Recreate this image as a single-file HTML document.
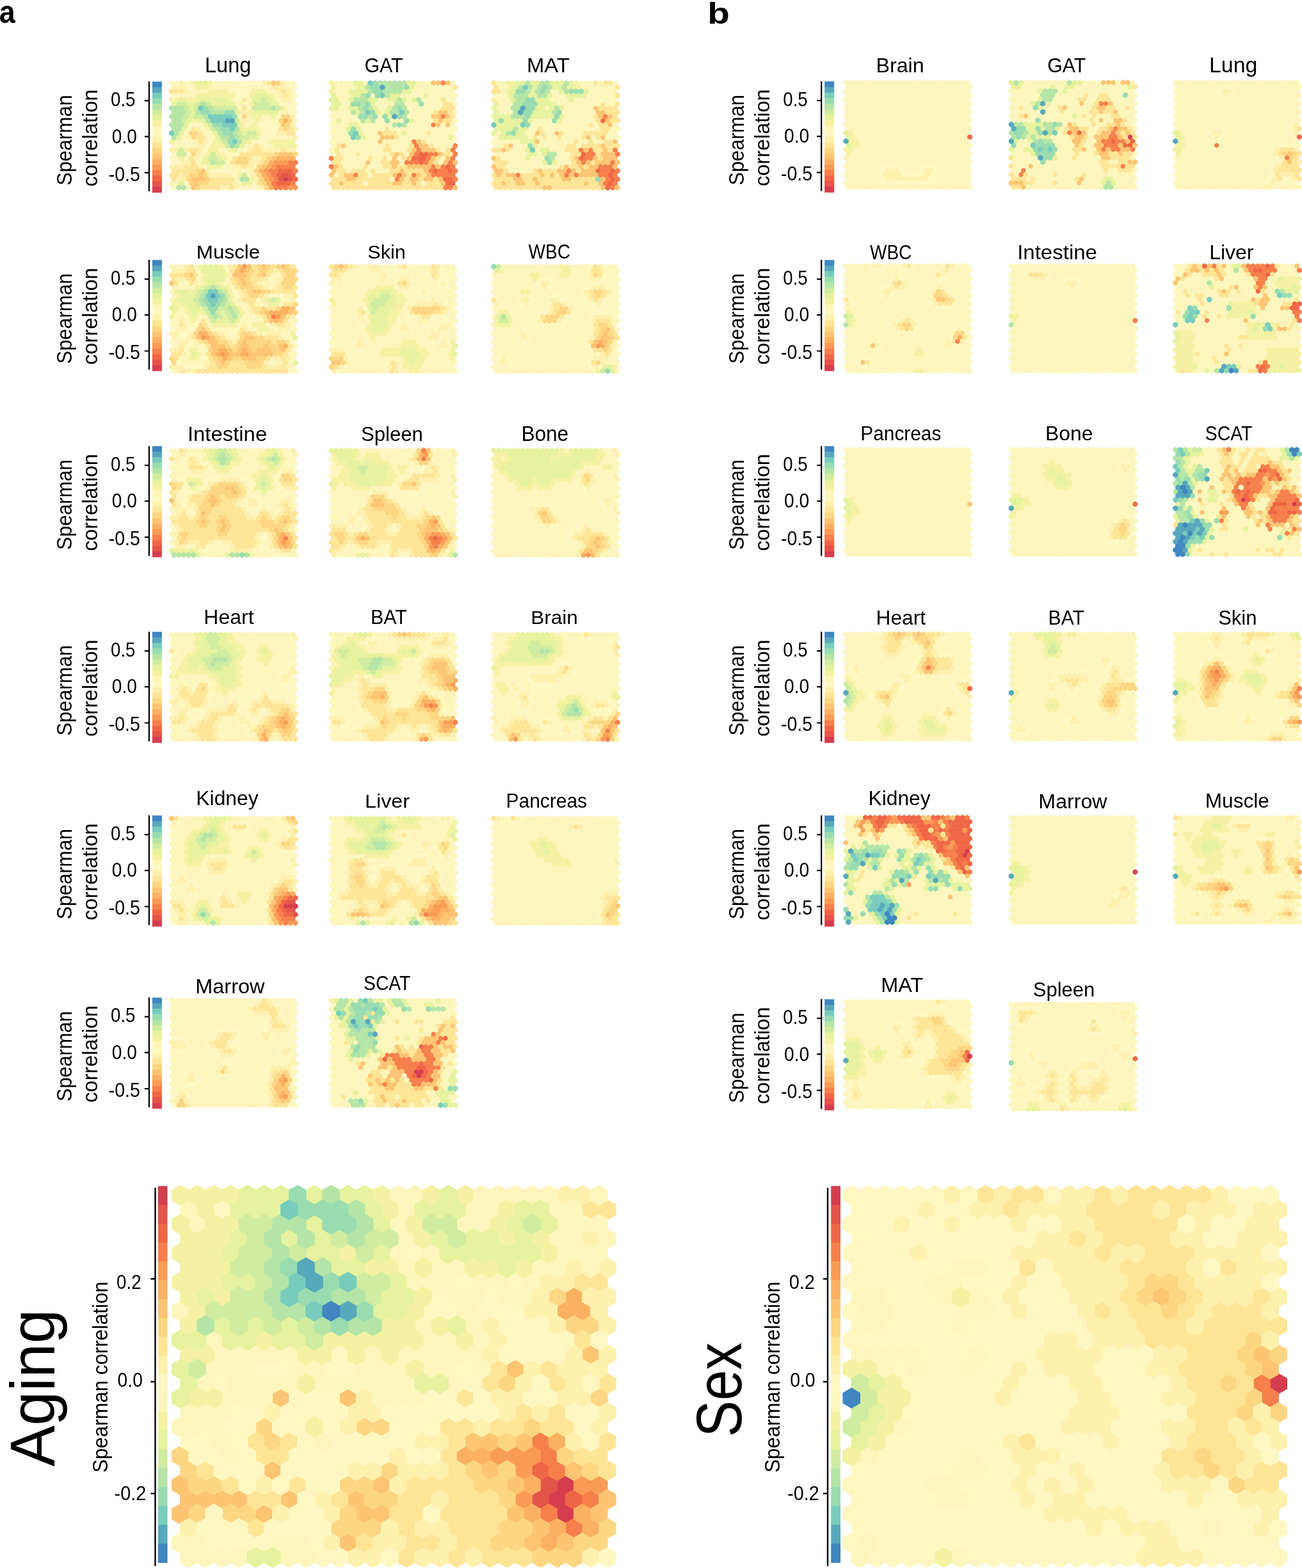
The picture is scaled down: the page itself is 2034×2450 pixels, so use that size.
<!DOCTYPE html>
<html><head><meta charset="utf-8"><title>Figure</title>
<style>html,body{margin:0;padding:0;background:#fff;}svg{display:block;}</style></head>
<body><svg width="2034" height="2450" viewBox="0 0 2034 2450">
<defs><marker id="k0" markerUnits="userSpaceOnUse" overflow="visible" markerWidth="1" markerHeight="1"><path d="M0-.667L1-.333V.333L0 .667-1 .333V-.333Z" fill="#d53e4f" stroke="#d53e4f" stroke-width=".1"/></marker><marker id="k1" markerUnits="userSpaceOnUse" overflow="visible" markerWidth="1" markerHeight="1"><path d="M0-.667L1-.333V.333L0 .667-1 .333V-.333Z" fill="#e4544a" stroke="#e4544a" stroke-width=".1"/></marker><marker id="k2" markerUnits="userSpaceOnUse" overflow="visible" markerWidth="1" markerHeight="1"><path d="M0-.667L1-.333V.333L0 .667-1 .333V-.333Z" fill="#ef6645" stroke="#ef6645" stroke-width=".1"/></marker><marker id="k3" markerUnits="userSpaceOnUse" overflow="visible" markerWidth="1" markerHeight="1"><path d="M0-.667L1-.333V.333L0 .667-1 .333V-.333Z" fill="#f67f4b" stroke="#f67f4b" stroke-width=".1"/></marker><marker id="k4" markerUnits="userSpaceOnUse" overflow="visible" markerWidth="1" markerHeight="1"><path d="M0-.667L1-.333V.333L0 .667-1 .333V-.333Z" fill="#f99b56" stroke="#f99b56" stroke-width=".1"/></marker><marker id="k5" markerUnits="userSpaceOnUse" overflow="visible" markerWidth="1" markerHeight="1"><path d="M0-.667L1-.333V.333L0 .667-1 .333V-.333Z" fill="#fcb062" stroke="#fcb062" stroke-width=".1"/></marker><marker id="k6" markerUnits="userSpaceOnUse" overflow="visible" markerWidth="1" markerHeight="1"><path d="M0-.667L1-.333V.333L0 .667-1 .333V-.333Z" fill="#fdc473" stroke="#fdc473" stroke-width=".1"/></marker><marker id="k7" markerUnits="userSpaceOnUse" overflow="visible" markerWidth="1" markerHeight="1"><path d="M0-.667L1-.333V.333L0 .667-1 .333V-.333Z" fill="#fdd683" stroke="#fdd683" stroke-width=".1"/></marker><marker id="k8" markerUnits="userSpaceOnUse" overflow="visible" markerWidth="1" markerHeight="1"><path d="M0-.667L1-.333V.333L0 .667-1 .333V-.333Z" fill="#fee596" stroke="#fee596" stroke-width=".1"/></marker><marker id="k9" markerUnits="userSpaceOnUse" overflow="visible" markerWidth="1" markerHeight="1"><path d="M0-.667L1-.333V.333L0 .667-1 .333V-.333Z" fill="#fef0ad" stroke="#fef0ad" stroke-width=".1"/></marker><marker id="k10" markerUnits="userSpaceOnUse" overflow="visible" markerWidth="1" markerHeight="1"><path d="M0-.667L1-.333V.333L0 .667-1 .333V-.333Z" fill="#fef7c2" stroke="#fef7c2" stroke-width=".1"/></marker><marker id="k11" markerUnits="userSpaceOnUse" overflow="visible" markerWidth="1" markerHeight="1"><path d="M0-.667L1-.333V.333L0 .667-1 .333V-.333Z" fill="#fcf6bc" stroke="#fcf6bc" stroke-width=".1"/></marker><marker id="k12" markerUnits="userSpaceOnUse" overflow="visible" markerWidth="1" markerHeight="1"><path d="M0-.667L1-.333V.333L0 .667-1 .333V-.333Z" fill="#f4f2a2" stroke="#f4f2a2" stroke-width=".1"/></marker><marker id="k13" markerUnits="userSpaceOnUse" overflow="visible" markerWidth="1" markerHeight="1"><path d="M0-.667L1-.333V.333L0 .667-1 .333V-.333Z" fill="#e6f29d" stroke="#e6f29d" stroke-width=".1"/></marker><marker id="k14" markerUnits="userSpaceOnUse" overflow="visible" markerWidth="1" markerHeight="1"><path d="M0-.667L1-.333V.333L0 .667-1 .333V-.333Z" fill="#d0eca0" stroke="#d0eca0" stroke-width=".1"/></marker><marker id="k15" markerUnits="userSpaceOnUse" overflow="visible" markerWidth="1" markerHeight="1"><path d="M0-.667L1-.333V.333L0 .667-1 .333V-.333Z" fill="#b5e5a6" stroke="#b5e5a6" stroke-width=".1"/></marker><marker id="k16" markerUnits="userSpaceOnUse" overflow="visible" markerWidth="1" markerHeight="1"><path d="M0-.667L1-.333V.333L0 .667-1 .333V-.333Z" fill="#98dcb0" stroke="#98dcb0" stroke-width=".1"/></marker><marker id="k17" markerUnits="userSpaceOnUse" overflow="visible" markerWidth="1" markerHeight="1"><path d="M0-.667L1-.333V.333L0 .667-1 .333V-.333Z" fill="#78ccbb" stroke="#78ccbb" stroke-width=".1"/></marker><marker id="k18" markerUnits="userSpaceOnUse" overflow="visible" markerWidth="1" markerHeight="1"><path d="M0-.667L1-.333V.333L0 .667-1 .333V-.333Z" fill="#57a8bb" stroke="#57a8bb" stroke-width=".1"/></marker><marker id="k19" markerUnits="userSpaceOnUse" overflow="visible" markerWidth="1" markerHeight="1"><path d="M0-.667L1-.333V.333L0 .667-1 .333V-.333Z" fill="#3f86c0" stroke="#3f86c0" stroke-width=".1"/></marker><filter id="bs" x="-5%" y="-5%" width="110%" height="110%"><feGaussianBlur stdDeviation="0.55"/></filter><filter id="bb" x="-5%" y="-5%" width="110%" height="110%"><feGaussianBlur stdDeviation="0.6"/></filter></defs>
<rect width="2034" height="2450" fill="#fff"/>
<text x="-1.32" y="36" font-size="50.18" textLength="25.03" lengthAdjust="spacingAndGlyphs" font-family="Liberation Sans, Arial, sans-serif" font-weight="bold">a</text><text x="1105.27" y="37" font-size="46.92" textLength="34.55" lengthAdjust="spacingAndGlyphs" font-family="Liberation Sans, Arial, sans-serif" font-weight="bold">b</text><path d="M232.9 127.3V298.9M225.9 157.4H232.9M225.9 213.4H232.9M225.9 269.8H232.9" stroke="#000" stroke-width="2.2" fill="none"/><rect x="237.9" y="127.5" width="15" height="9.25" fill="#3f86c0"/><rect x="237.9" y="136.15" width="15" height="9.25" fill="#57a8bb"/><rect x="237.9" y="144.8" width="15" height="9.25" fill="#78ccbb"/><rect x="237.9" y="153.45" width="15" height="9.25" fill="#98dcb0"/><rect x="237.9" y="162.1" width="15" height="9.25" fill="#b5e5a6"/><rect x="237.9" y="170.75" width="15" height="9.25" fill="#d0eca0"/><rect x="237.9" y="179.4" width="15" height="9.25" fill="#e6f29d"/><rect x="237.9" y="188.05" width="15" height="9.25" fill="#f4f2a2"/><rect x="237.9" y="196.7" width="15" height="9.25" fill="#fcf6bc"/><rect x="237.9" y="205.35" width="15" height="9.25" fill="#fef7c2"/><rect x="237.9" y="214" width="15" height="9.25" fill="#fef0ad"/><rect x="237.9" y="222.65" width="15" height="9.25" fill="#fee596"/><rect x="237.9" y="231.3" width="15" height="9.25" fill="#fdd683"/><rect x="237.9" y="239.95" width="15" height="9.25" fill="#fdc473"/><rect x="237.9" y="248.6" width="15" height="9.25" fill="#fcb062"/><rect x="237.9" y="257.25" width="15" height="9.25" fill="#f99b56"/><rect x="237.9" y="265.9" width="15" height="9.25" fill="#f67f4b"/><rect x="237.9" y="274.55" width="15" height="9.25" fill="#ef6645"/><rect x="237.9" y="283.2" width="15" height="9.25" fill="#e4544a"/><rect x="237.9" y="291.85" width="15" height="9.25" fill="#d53e4f"/><text transform="translate(111.7 289.69) rotate(-90)" font-size="32.37" textLength="141.38" lengthAdjust="spacingAndGlyphs" font-family="Liberation Sans, Arial, sans-serif">Spearman</text><text transform="translate(151.9 291.38) rotate(-90)" font-size="32.71" textLength="151.69" lengthAdjust="spacingAndGlyphs" font-family="Liberation Sans, Arial, sans-serif">correlation</text><text x="173.02" y="165.9" font-size="30.93" textLength="38.44" lengthAdjust="spacingAndGlyphs" font-family="Liberation Sans, Arial, sans-serif">0.5</text><text x="174.8" y="223.7" font-size="31.51" textLength="39.2" lengthAdjust="spacingAndGlyphs" font-family="Liberation Sans, Arial, sans-serif">0.0</text><text x="169.63" y="282.5" font-size="31.51" textLength="49.27" lengthAdjust="spacingAndGlyphs" font-family="Liberation Sans, Arial, sans-serif">-0.5</text><g filter="url(#bs)"><g transform="translate(264.3 129.85) scale(3.79 6.53)"><path d="M48 23" fill="none" marker-start="url(#k0)" marker-mid="url(#k0)" marker-end="url(#k0)"/><path d="M47 22h2L46 23h4" fill="none" marker-start="url(#k1)" marker-mid="url(#k1)" marker-end="url(#k1)"/><path d="M46 21h2 2L45 22h6L52 23L45 24h2 2" fill="none" marker-start="url(#k2)" marker-mid="url(#k2)" marker-end="url(#k2)"/><path d="M50 19h2L45 20h2 2 2L42 21h2 8L43 22L44 23L43 24h8L44 25h2 2" fill="none" marker-start="url(#k3)" marker-mid="url(#k3)" marker-end="url(#k3)"/><path d="M44 19h2 2L43 20L40 21L41 22L42 23L50 25h2" fill="none" marker-start="url(#k4)" marker-mid="url(#k4)" marker-end="url(#k4)"/><path d="M48 9L45 18h2 2 2L42 19L41 20L38 21L39 22L40 23L41 24L42 25" fill="none" marker-start="url(#k5)" marker-mid="url(#k5)" marker-end="url(#k5)"/><path d="M43 0L47 10L46 17h2 2L43 18L39 20L14 21L13 22L10 23h2 2L11 24L10 25" fill="none" marker-start="url(#k6)" marker-mid="url(#k6)" marker-end="url(#k6)"/><path d="M45 0L31 8h16 2L46 9h4L49 10L48 11L9 12h2L10 13L10 17h34 8L29 18h2 10L28 19h2 2 8L37 20L12 21h24L9 22h2 4 22L8 23h8 22L9 24h4 2 24L12 25h28" fill="none" marker-start="url(#k7)" marker-mid="url(#k7)" marker-end="url(#k7)"/><path d="M41 0L44 1L1 2h2 2 42L48 3L31 4L31 6L10 11h36 4L13 12h36 2L12 13h2L13 14L36 15L9 16h2 24 2 10L30 17h2 2 2 2 2 2L9 18h18 6 6L10 19h16 12L7 20h2 2 20L2 21h2 2 2 2L1 22h2 4L2 23h16 2 2 2 2L17 24h2 2 2 2 12L14 25h2 2 2 6" fill="none" marker-start="url(#k8)" marker-mid="url(#k8)" marker-end="url(#k8)"/><path d="M5 0h34 8L2 1h2 2 36 4 2L7 2h38 4L46 3h4L47 4h2L30 5L30 7h2 16L33 8h18L30 9h2L31 10h14 6L12 11h40L45 12h2L8 13h44L11 14h4L12 15h2 20 4L1 16h12 20 6 2 2 2 4 2L12 17h10L11 18h24 2L6 19h2 26 2L1 20h2 2 8 14 2 4 2L16 21h18L5 22h12 2 2 2 2 10L4 23h2 30L1 24h26L22 25h2 4 10" fill="none" marker-start="url(#k9)" marker-mid="url(#k9)" marker-end="url(#k9)"/><path d="M1 0h2 4 14 2 2 2 2 2 2 2 2 12 2L8 1h20 2 2 8 10 2L29 2h2 12 8L2 3h2 2 24 2 20L29 4h16 6L32 5h16 2L50 7L45 8L40 9h12L9 10h2 2 26 2 2L8 11h6 26 2 2L7 12h8 24 2 2L16 13h24 2 4 2 2L7 14h2 8 18 2 2L2 15h6 2 6 24L15 16h8 8L8 17h16 4L1 18h6 18L2 19h2 8L15 20h10L20 21h2 2 8L27 22L7 24h28L8 25h22 2 2 2" fill="none" marker-start="url(#k10)" marker-mid="url(#k10)" marker-end="url(#k10)"/><path d="M9 0h10L10 1h8 2 2 2 2 8 2 2L9 2h2 2 2 10 2 6 8L8 3h2 18 16L27 4h6L28 5h18 6L29 6h4 16 2L46 7h6L29 8h10 2L34 9h4 4 2L33 10h4L38 11L17 12L6 13h12 20 6L3 14h2 36L4 15h2 26 10L21 16h8L2 17h12 12L3 18h10L24 19L23 20L18 21h8 2 2L33 22L28 23L3 24h26L2 25" fill="none" marker-start="url(#k11)" marker-mid="url(#k11)" marker-end="url(#k11)"/><path d="M11 0h6L12 1h2 2L17 2h2 2 2 12 2 2L12 3h2 2 2 2 2 2 2 8 8L1 4h2 4 2 2 14 18L34 5L47 6L34 7L35 8h2 6L10 9h2 24L15 10h20L16 11h14 2 2 2L37 12L1 14h18 14 10 2 2 2 2L18 15h2 2 22 2 2 2 2L3 16h4 10 2 6L16 17h4L5 18h18L14 19L17 20h2 2L29 22L34 23L33 24" fill="none" marker-start="url(#k12)" marker-mid="url(#k12)" marker-end="url(#k12)"/><path d="M13 0h2L36 3h2 2L5 4h8 2 2 2 2 2 12 2 4L2 5h6 2 8 2 2 2 2 16 2L9 6L10 7h18 8 2 2 2 2L9 8L8 9h6L7 10h22L6 11L5 12h14 12L4 13h16 14 2L21 14h10L30 15L27 16L15 18h6L16 19L5 24h26" fill="none" marker-start="url(#k13)" marker-mid="url(#k13)" marker-end="url(#k13)"/><path d="M39 4L4 5h2 6 4 20 2 2L7 6h4 8 2 2 2 2 8 2 2 2 4L8 7L7 8h4 2L6 9h22L17 10L18 11L29 12h4 2L30 13h2L23 14L24 15L5 16L4 17h2 12L17 18h2L20 19h2L31 22" fill="none" marker-start="url(#k14)" marker-mid="url(#k14)" marker-end="url(#k14)"/><path d="M14 5L1 6h2 2 12 26L2 7h2 2 6 6 2 2L1 8h2 2 10L2 9h2 12L1 10h2 2L2 11h2 16 8L3 12h18 6L2 13h20 2 4L29 14L28 15L18 19L30 23h2L4 25h2" fill="none" marker-start="url(#k15)" marker-mid="url(#k15)" marker-end="url(#k15)"/><path d="M15 6L14 7h2 8 2L27 8L19 10h2L22 11h2L23 12h2L26 13L25 14L26 15" fill="none" marker-start="url(#k16)" marker-mid="url(#k16)" marker-end="url(#k16)"/><path d="M13 6L17 8h2 2 2 2L18 9h2 2L23 10h2 2L26 11L1 12L27 14" fill="none" marker-start="url(#k17)" marker-mid="url(#k17)" marker-end="url(#k17)"/><path d="M24 9h2" fill="none" marker-start="url(#k18)" marker-mid="url(#k18)" marker-end="url(#k18)"/></g></g><text x="320.04" y="112.7" font-size="32.56" textLength="72.26" lengthAdjust="spacingAndGlyphs" font-family="Liberation Sans, Arial, sans-serif">Lung</text><g filter="url(#bs)"><g transform="translate(514 129.85) scale(3.79 6.53)"><path d="M38 17h2L35 18h2 2L38 19L49 20L44 21h6L48 23h2L49 24h2" fill="none" marker-start="url(#k2)" marker-mid="url(#k2)" marker-end="url(#k2)"/><path d="M47 0L47 8L43 10L35 14L36 15h16L37 16h14L36 17h6 2 8L1 18h40 10L32 19h2 2 4 10L1 20h42 4 4L42 21h4 2 4L11 22h18 6 8 2 2 2 2L28 23h24L48 25h2" fill="none" marker-start="url(#k3)" marker-mid="url(#k3)" marker-end="url(#k3)"/><path d="M43 0h2 4L46 7h2L43 8h2 4L46 9L45 10h4L21 12L22 13h2 2L21 14h16L6 15h32 2L35 16h4 2 2L28 17h6 12L27 18h6 10 6L16 19h10 2 14 6 4L3 20h24 6 2 2 2 2 4L2 21h28 10L1 22h6 2 18 4 6 4L8 23h2 20 4 2 4 2 4L5 24h22 2 6 12L52 25" fill="none" marker-start="url(#k6)" marker-mid="url(#k6)" marker-end="url(#k6)"/><path d="M52 1L47 4L48 5h2L47 6h2 2L44 7h6L51 8L44 9h4 2L24 11L23 12h2 2 14L28 13L39 14L4 15h20 10 8L3 16h20 2 8 12 4L4 17h8 14 4 18 2L3 18h2 12 6 8 14L2 19h2 18 2 20L5 20h10 8 2 4 2L4 21h2 4 2 2 4 8 2 4 2 2 2L5 22h8 2 4 2 2 2 8 6L2 23h2 2 6 2 2 2 2 2 2 8 6 6L1 24h2 4 2 2 2 4 2 2 2 2 6 2 4 4 2 2L2 25h2 2 2 2 2 2 2 2 2 2 2 2 2 2 2 2 2 2 2 2 2 2" fill="none" marker-start="url(#k8)" marker-mid="url(#k8)" marker-end="url(#k8)"/><path d="M3 0h2 2 2 6 22 2 2 10L4 1h2 2 2 26 2 2 2 2 2 2 2L3 2h2 2 28 2 2 2 2 2 2 2 2L4 3h2 2 10 12 2 2 2 2 4 2 2 2 2 2L5 4h2 14 2 10 6 2 2 2 4 2L6 5h2 12 2 2 2 6 2 2 4 2 2 2 6L5 6h2 14 2 10 2 2 2 2 2 2L2 7h2 2 2 14 12 2 2 2 2 10L1 8h2 2 2 2 2 10 12 2 2 2 2L2 9h4 2 2 2 8 2 4 2 2 6 2 2 2 10L1 10h2 2 2 6 2 2 2 2 2 2 8 2 2 2 2 6 4L2 11h2 2 8 2 2 2 2 4 2 2 2 2 2 2 2 2 2 2 2 2 2L1 12h2 2 2 8 2 2 10 4 2 2 2 4 2 2 2 2L2 13h2 2 2 8 2 2 10 2 2 2 2 2 2 2 2 2 4L1 14h2 2 2 2 2 2 2 2 2 4 2 2 2 2 2 8 2 2 2 2 2L2 15h6 2 2 2 2 2 2 2 4 2 2 2 12 2 2 2L1 16h4 2 2 2 2 2 2 2 2 6 2 2 16L2 17h4 2 2 4 2 2 2 2 2 8L7 18h2 2 2 2 4 2 4 4 18L6 19h2 2 2 2 4 2 10 16L7 20h2 2 2 4 2 2L8 21h8 4 2 2L3 22h14L26 23L15 24h24" fill="none" marker-start="url(#k11)" marker-mid="url(#k11)" marker-end="url(#k11)"/><path d="M1 0L2 1L1 2" fill="none" marker-start="url(#k12)" marker-mid="url(#k12)" marker-end="url(#k12)"/><path d="M11 0h2 20 2L12 1h2 20L9 2h2 2 2 16 2L2 3h8 2 14 2 12L1 4h2 6 8 2 6 2 4 4L2 5h2 14L1 6h2 6 2 8 6L12 7h8 4L25 8L4 9h12 18L9 10h2L8 11h4L13 12h18L14 13h36" fill="none" marker-start="url(#k13)" marker-mid="url(#k13)" marker-end="url(#k13)"/><path d="M21 0h2 2 2 2 2L16 1h8 2 2 2L17 2h6 2 2 2L14 3h10L11 4h2 2 14 8L14 5h14 2L13 6h4 10 4L10 7h4 12 2 4L17 8h14L14 9h4L27 10h4" fill="none" marker-start="url(#k15)" marker-mid="url(#k15)" marker-end="url(#k15)"/><path d="M19 0L18 1h2 12L19 2h2L16 3h4L10 5h2 4 22L15 6h14L18 7L13 8h2 4 4 6L24 9h8L29 10L10 11L9 12L12 13" fill="none" marker-start="url(#k16)" marker-mid="url(#k16)" marker-end="url(#k16)"/><path d="M17 0L22 3L16 7h14L11 12L10 13" fill="none" marker-start="url(#k17)" marker-mid="url(#k17)" marker-end="url(#k17)"/><path d="M22 1L27 8" fill="none" marker-start="url(#k18)" marker-mid="url(#k18)" marker-end="url(#k18)"/></g></g><text x="569.53" y="113" font-size="31.51" textLength="60.14" lengthAdjust="spacingAndGlyphs" font-family="Liberation Sans, Arial, sans-serif">GAT</text><g filter="url(#bs)"><g transform="translate(767.5 129.85) scale(3.79 6.53)"><path d="M46 9L38 17L37 18L44 21h6L49 22L50 23L49 24L48 25" fill="none" marker-start="url(#k2)" marker-mid="url(#k2)" marker-end="url(#k2)"/><path d="M47 8L37 16h4 10L40 17h2 10L39 18h2L38 19h12L45 20h2 2L32 21h14 2 4L11 22h20 4 10 2 4L48 23h4L47 24h4L50 25" fill="none" marker-start="url(#k3)" marker-mid="url(#k3)" marker-end="url(#k3)"/><path d="M43 6L44 7h2L45 8h4L48 9L49 10L19 12h8L40 13h6L19 14h32L8 15h38L5 16h34 8L46 17h2 2L1 18h34 8 4 2 2L36 19h4 4 2 2 4L1 20h30 6 4 2 8L2 21h2 16 8 2 4 4 2 2L3 22h4 2 12 4 4 4 4 2 2 2L10 23h2 6 12 2 14L5 24h6 2 6 20 6L22 25h2 22 6" fill="none" marker-start="url(#k6)" marker-mid="url(#k6)" marker-end="url(#k6)"/><path d="M1 0h42 4 2L2 1h50L1 2h2L52 3L46 5h6L45 6h2 2 2L48 7h2 2L43 8h8L44 9h6 2L41 10h4 2L20 11h26 2L21 12h8 10 2 2 2 2L18 13h4 6 10 6L35 14h6 6 2L6 15h26 2 4 2 2 2 4 2 2L1 16h2 4 24 2 2 8 2 4L34 17h2 8L3 18h30 12L2 19h2 2 28 8L3 20h2 24 4 2 4L6 21h12 4 2 2 10L1 22h4 8 2 2 2 4 4L2 23h2 2 2 6 2 4 2 2 2 2 6 2 2 2 2L1 24h2 4 2 6 2 4 2 2 2 2 2 2 2 2 4 2L2 25h2 2 2 2 2 2 2 2 2 6 2 2 2 2 2 2 2 2 2" fill="none" marker-start="url(#k8)" marker-mid="url(#k8)" marker-end="url(#k8)"/><path d="M3 0h2 32 2 2 4 6L4 1h2 32 2 2 2 2 2 2L5 2h20 2 14 2 2 2 2 2L2 3h2 2 20 2 2 10 2 2 2 2 2L3 4h2 2 18 2 2 2 4 2 2 2 2 2 2 2 2L4 5h2 2 20 2 2 2 2 2 2 2 2 4 2L3 6h2 2 16 8 2 2 2 2 2L4 7h2 2 22 2 2 2 2 2 2L31 8h2 2 2 2 2L18 9h2 2 2 6 2 2 2 2 2 2L17 10h2 2 2 2 2 2 2 2 2 2 2 4 8L16 11h2 4 2 2 2 2 2 2 2 2 2 2 2 6 2L3 12h12 2 6 2 6 2 2 2 12 2L2 13h14 4 4 2 4 2 2 2 6 6 2 2L1 14h2 2 2 2 2 10 2 2 2 2 2 2 4 2 4 2L2 15h2 6 2 2 6 2 2 2 2 2 6L9 16h2 2 6 6 2 2L2 17h2 2 2 2 2 2 6 8 2 2L5 18h2 2 2 2 4 2 2 6 2 2L8 19h2 2 2 2 2 2 8 2 2L7 20h2 2 2 2 2 2 2 2 2 2L8 21h2 2 2 2" fill="none" marker-start="url(#k11)" marker-mid="url(#k11)" marker-end="url(#k11)"/><path d="M7 0h2 26L8 1h28L7 2L1 4" fill="none" marker-start="url(#k12)" marker-mid="url(#k12)" marker-end="url(#k12)"/><path d="M11 0h2 4 2 6 2 2 4L10 1h8 8 2 4 2L9 2h8 12 10L8 3h8 2 6 8 2 2 2L9 4h10 2 2 10L2 5h18 2 2 2L1 6h18 2 4 4L2 7h16 2 2 2L1 8h2 2 2 10 2 2 2 2 4L2 9h4 2 2 2 4 12L3 10h2 2 2 2L2 11h2 2 2 4 2L1 12h4 6 2L4 13h2 2 2 2 2L13 14h2 2L18 15L15 16h6 2L16 17h2 4L15 18L22 19h4" fill="none" marker-start="url(#k13)" marker-mid="url(#k13)" marker-end="url(#k13)"/><path d="M15 0h6 2 8L12 1h4 4 4 6L15 2h4 4 8L10 3h2 2 6 2L11 4h2L10 5h2L9 6h2 16L10 7h16L9 8h2 2L10 11L7 12L24 17h2L25 18" fill="none" marker-start="url(#k15)" marker-mid="url(#k15)" marker-end="url(#k15)"/><path d="M22 1L11 2h2 8 12 2 2L15 4h2L14 5h2 2L15 6h2L14 7h2 12L15 8h12L4 9h10 12L15 10L9 12L16 15L23 18L24 19L44 23" fill="none" marker-start="url(#k16)" marker-mid="url(#k16)" marker-end="url(#k16)"/><path d="M14 1L1 10h12L17 16" fill="none" marker-start="url(#k17)" marker-mid="url(#k17)" marker-end="url(#k17)"/><path d="M13 6L12 7" fill="none" marker-start="url(#k18)" marker-mid="url(#k18)" marker-end="url(#k18)"/></g></g><text x="822.9" y="113" font-size="31.98" textLength="66.82" lengthAdjust="spacingAndGlyphs" font-family="Liberation Sans, Arial, sans-serif">MAT</text><path d="M232.9 406V577.6M225.9 436.1H232.9M225.9 492.1H232.9M225.9 548.5H232.9" stroke="#000" stroke-width="2.2" fill="none"/><rect x="237.9" y="406.2" width="15" height="9.25" fill="#3f86c0"/><rect x="237.9" y="414.85" width="15" height="9.25" fill="#57a8bb"/><rect x="237.9" y="423.5" width="15" height="9.25" fill="#78ccbb"/><rect x="237.9" y="432.15" width="15" height="9.25" fill="#98dcb0"/><rect x="237.9" y="440.8" width="15" height="9.25" fill="#b5e5a6"/><rect x="237.9" y="449.45" width="15" height="9.25" fill="#d0eca0"/><rect x="237.9" y="458.1" width="15" height="9.25" fill="#e6f29d"/><rect x="237.9" y="466.75" width="15" height="9.25" fill="#f4f2a2"/><rect x="237.9" y="475.4" width="15" height="9.25" fill="#fcf6bc"/><rect x="237.9" y="484.05" width="15" height="9.25" fill="#fef7c2"/><rect x="237.9" y="492.7" width="15" height="9.25" fill="#fef0ad"/><rect x="237.9" y="501.35" width="15" height="9.25" fill="#fee596"/><rect x="237.9" y="510" width="15" height="9.25" fill="#fdd683"/><rect x="237.9" y="518.65" width="15" height="9.25" fill="#fdc473"/><rect x="237.9" y="527.3" width="15" height="9.25" fill="#fcb062"/><rect x="237.9" y="535.95" width="15" height="9.25" fill="#f99b56"/><rect x="237.9" y="544.6" width="15" height="9.25" fill="#f67f4b"/><rect x="237.9" y="553.25" width="15" height="9.25" fill="#ef6645"/><rect x="237.9" y="561.9" width="15" height="9.25" fill="#e4544a"/><rect x="237.9" y="570.55" width="15" height="9.25" fill="#d53e4f"/><text transform="translate(111.7 568.39) rotate(-90)" font-size="32.37" textLength="141.38" lengthAdjust="spacingAndGlyphs" font-family="Liberation Sans, Arial, sans-serif">Spearman</text><text transform="translate(151.9 570.08) rotate(-90)" font-size="32.71" textLength="151.69" lengthAdjust="spacingAndGlyphs" font-family="Liberation Sans, Arial, sans-serif">correlation</text><text x="173.02" y="444.6" font-size="30.93" textLength="38.44" lengthAdjust="spacingAndGlyphs" font-family="Liberation Sans, Arial, sans-serif">0.5</text><text x="174.8" y="502.4" font-size="31.51" textLength="39.2" lengthAdjust="spacingAndGlyphs" font-family="Liberation Sans, Arial, sans-serif">0.0</text><text x="169.63" y="561.2" font-size="31.51" textLength="49.27" lengthAdjust="spacingAndGlyphs" font-family="Liberation Sans, Arial, sans-serif">-0.5</text><g filter="url(#bs)"><g transform="translate(264.3 416.55) scale(3.79 6.53)"><path d="M43 12" fill="none" marker-start="url(#k3)" marker-mid="url(#k3)" marker-end="url(#k3)"/><path d="M31 0L45 12L14 17L22 21" fill="none" marker-start="url(#k4)" marker-mid="url(#k4)" marker-end="url(#k4)"/><path d="M30 1L47 10h2L42 11h2 2 2L44 13L13 16h2L16 17L48 19L21 20h2 8L20 21h4 6 2L23 22" fill="none" marker-start="url(#k5)" marker-mid="url(#k5)" marker-end="url(#k5)"/><path d="M29 0h4 6 8L28 1h4L9 2h18 2 2 8L30 3L1 4h30L35 6h2L51 10L40 11h10L41 12h6L42 13h4L14 15L12 17h6 14 2L17 18h2 12L18 19h2 2 8 2 8 6L19 20h6 4 4 4 2 2 6L18 21h8 2 6 2 2 2 2L21 22h4 6 2 2L22 23" fill="none" marker-start="url(#k6)" marker-mid="url(#k6)" marker-end="url(#k6)"/><path d="M37 0h4 4 4L34 1h4 2 8 2 2L7 2h26 4 12 2L10 3h18 4 16 2 2L29 4h4 14 2 2L30 5h2 2 14 2L33 6h6 2L34 7h2L52 9L39 10h6L38 11h14L13 14L12 15L11 16h6 14 2L20 17h10 6 2L15 18h6 2 6 4 2 2 2 2 4 2L24 19h4 6 2 2 4 2L17 20h10 8 8 2L44 21h2L1 22h18 8 2 8 2L2 23h18 4 8 2 2 2L21 24h2 10 2 2" fill="none" marker-start="url(#k7)" marker-mid="url(#k7)" marker-end="url(#k7)"/><path d="M9 0h18 8 8 8L8 1h2 16 10 6 4L1 2h2 2 6 24 6 6L2 3h6 18 8 2 2L3 4h6 18 8L28 5h8 2 8 6L31 6h12 2 2 2 2L32 7h6 14L31 8h2 2L34 9h14 2L35 10h2 4 2L36 11L39 12h10L14 13h26 8L5 14h10 30 2L16 15h14L19 16h10 6L10 17h12 18 2 2L13 18h12 18 6L16 19h10 24L5 20h44L2 21h2 12 32L3 22h14 24 6L18 23h8 2 2 18L17 24h2 6 2 2 2 8 8L6 25h6 2 2 2 2 2 2 2 2 2 2 2 2 2 2 2 2 2 2" fill="none" marker-start="url(#k8)" marker-mid="url(#k8)" marker-end="url(#k8)"/><path d="M7 0h18L2 1h2 2 38L25 2L4 3h2 34 6L11 4h14 12 8L2 5h38 4L29 6L30 7h10 8 2L29 8h22L32 9h4L33 10L34 11L5 12h32 14L4 13h2L7 14h24 12 6L4 15h2 26 14 2L1 16h2 6 12 2 14 4 2 2L2 17h6 16 4 18L5 18h2 4 16L4 19h2L1 20h2L6 21L43 22h2 4L16 23h24 6L1 24h2 2 10 26 2 2 4L4 25h4 2" fill="none" marker-start="url(#k9)" marker-mid="url(#k9)" marker-end="url(#k9)"/><path d="M5 0h6L12 1h12L43 2h2L12 3h12 18L5 4h2 32L10 5h16 16L1 6h26L28 7h14 2 2L37 8h12L30 9h8 8L31 10L32 11L7 12h6 22L12 13h26 12L3 14h8 18 4 8 10L2 15h6 2 8 2 2 6 6 10 6L5 16h2 18 2 12 8L4 17h2 20 22L1 18h2 6 42L2 19h6L7 20h8 36L50 21L5 22h10L4 23h38L7 24h2 2 2L2 25h48" fill="none" marker-start="url(#k10)" marker-mid="url(#k10)" marker-end="url(#k10)"/><path d="M1 0h2 20L13 2L44 3L13 4h10 18 2L4 5h2 2L2 7L1 8h26 20L28 9h12L5 10L4 11h2L3 12h12 16 2L2 13h6 8 14 2 2 2 16L1 14h8 8L24 15h2 10 6 10L49 16L50 17L10 19h2 2 38L13 20L8 21h6 38L7 22h6 38L6 23h2 2 2 2 30 6L51 24L52 25" fill="none" marker-start="url(#k11)" marker-mid="url(#k11)" marker-end="url(#k11)"/><path d="M13 0h8L15 2h8L14 3L15 4h6L12 5h12L3 6h6 16L4 7h22L3 8h36L2 9h2 2 36 2L3 10h4 22L2 11h6 4 2 16L1 12h8 2L10 13L19 14h2 2 2 2 8 2 2L38 15h2L51 16L9 20h2L12 21L9 22h2" fill="none" marker-start="url(#k12)" marker-mid="url(#k12)" marker-end="url(#k12)"/><path d="M15 0h2 2L14 1h2 2 2 2L17 2h2 2L16 3h2 2 2L17 4h2L14 5h8L5 6h2 4L6 7h2 2L5 8h2 2 16 16 4L8 9h2 16L1 10h8 2 2L10 11h12L23 12h6L20 13h2 2 4L52 17L10 21L52 23" fill="none" marker-start="url(#k13)" marker-mid="url(#k13)" marker-end="url(#k13)"/><path d="M16 5h4L13 6h10L12 7h12L11 8h32L12 9h12L15 10h6 2 4L16 11h4 4 4L17 12h4 4L18 13h8" fill="none" marker-start="url(#k14)" marker-mid="url(#k14)" marker-end="url(#k14)"/><path d="M18 5L15 6h6L14 7L13 8h10L14 9h8L25 10L26 11L19 12h8" fill="none" marker-start="url(#k15)" marker-mid="url(#k15)" marker-end="url(#k15)"/><path d="M22 7L15 8h6L16 9h4L17 10h2L18 11" fill="none" marker-start="url(#k16)" marker-mid="url(#k16)" marker-end="url(#k16)"/><path d="M17 6h2L16 7h4L17 8h2L18 9" fill="none" marker-start="url(#k17)" marker-mid="url(#k17)" marker-end="url(#k17)"/><path d="M18 7" fill="none" marker-start="url(#k18)" marker-mid="url(#k18)" marker-end="url(#k18)"/></g></g><text x="306.82" y="404.4" font-size="29.67" textLength="99.47" lengthAdjust="spacingAndGlyphs" font-family="Liberation Sans, Arial, sans-serif">Muscle</text><g filter="url(#bs)"><g transform="translate(514 416.55) scale(3.79 6.53)"><path d="M5 0L2 23h2" fill="none" marker-start="url(#k6)" marker-mid="url(#k6)" marker-end="url(#k6)"/><path d="M3 0h4L31 4L35 10h2 2 2 2 2L36 11h2 2 2L1 22h2 2L6 23L1 24" fill="none" marker-start="url(#k7)" marker-mid="url(#k7)" marker-end="url(#k7)"/><path d="M1 0h8 22 12L2 1h2 2 38L1 2h2 40L29 4L44 9L47 10L14 11h20 10 2L39 12h2L2 21h2 2L26 23L3 24h24L26 25" fill="none" marker-start="url(#k8)" marker-mid="url(#k8)" marker-end="url(#k8)"/><path d="M11 0h6 2 10 16L8 1h10 2 22L5 2h16 2 22L2 3h2 18 8 2 12L1 4h32 14L30 5h2L39 6L43 8L36 9h2 2 2 4L13 10h20 16L12 11h36L13 12h24L14 13h24 2L31 14h16 2L30 15h2 14 2L43 16h2L42 17h2L13 18h34L12 19h2 32 2L1 20h2 2L7 22L8 23h20L5 24h20L2 25h26" fill="none" marker-start="url(#k9)" marker-mid="url(#k9)" marker-end="url(#k9)"/><path d="M13 0h2 6 12 8 6L10 1h2 4 6 2 4 2 2 8 6L7 2h12 6 16 6L6 3h14 4 4 6 8 4 2L3 4h24 18 4L2 5h26 6 4 2 6 2 2L31 6h6 4L38 7h2 2 2L41 8h4L12 9h2 20 14L11 10h4 36L32 11h18L11 12h4 18 2 8 2 2 2L12 13h20 4 6 6L13 14h16 4 6 6 6L28 15h6 10 6L29 16h2 10 6 2L46 17L11 18h4 28 2 4L16 19L7 20h6 2 32L8 21L25 22h2L24 23L7 24h16 6L4 25h20 6" fill="none" marker-start="url(#k10)" marker-mid="url(#k10)" marker-end="url(#k10)"/><path d="M23 0h2 2 8 2 2 10 2L14 1h12 8 2 2 10 2 2L9 2h2 2 2 2 10 2 2 2 2 2 2 10 2L8 3h2 2 2 2 2 8 10 2 2 10 2L5 4h2 2 2 2 2 2 2 2 2 2 10 2 2 2 2 8L4 5h2 2 2 2 2 2 2 18 6 2 8L1 6h2 2 2 2 2 2 2 14 4 2 8 2 2 2 2L2 7h2 2 2 2 2 2 18 2 2 10 2 2 2L3 8h2 2 2 2 2 20 2 2 2 8 2 2L4 9h2 2 2 22 18 2L1 10h2 2 2 2 22L2 11h2 2 2 2 6 14 22L1 12h2 2 2 2 20 2 20L2 13h2 2 2 2 6 12 2 4 10 2 4 2L1 14h2 2 2 2 2 4 12 8 2 4 2L2 15h2 2 2 2 2 2 12 10 2 2 2 10L1 16h2 2 2 2 2 2 2 10 2 6 2 2 2 12L2 17h2 2 2 2 2 2 2 4 2 2 2 2 2 2 2 2 2 2 8 2 2L1 18h2 2 2 2 8 2 2 2 2 2 2 8 2 2L2 19h2 2 2 2 8 2 2 2 2 2 10 2 2 2 6L9 20h2 6 2 2 20 2 2 4L10 21h2 2 2 2 2 22 2 2 2L9 22h2 2 2 2 2 2 2 6 12 2 2 2 2L10 23h2 2 2 2 2 2 8 10 2 2 2 2 2 2L9 24h2 2 2 2 2 2 18 2 2 2 2 2 2L6 25h2 2 2 2 2 2 2 2 10 6 2 2 2 2 2 2 2" fill="none" marker-start="url(#k11)" marker-mid="url(#k11)" marker-end="url(#k11)"/><path d="M20 5h2 2 2L17 6h2 8L16 7h12 2L1 8h14 14 2L2 9h14 12 2L27 10h2L26 11h2L17 12h8 2L24 13h2L17 14h8L16 15h8L17 16h2 2 2L18 17L31 18h2 2 16L30 19h2 2 2L23 20h2 2 2 8 2 12L22 21h2 2 2 10 2 10L31 22h6 2 12L32 23h4 2L31 24h2 2 2L34 25h2" fill="none" marker-start="url(#k12)" marker-mid="url(#k12)" marker-end="url(#k12)"/><path d="M21 6h2 2L18 7h2 6L17 8h8 2L24 9h2L17 10h4 2 2L20 11h2 2L19 12h2 2L18 13h2 2L19 14h2 2L18 15h2 2L52 19L31 20h2 2L30 21h2 2 2 16L33 22h2L34 23" fill="none" marker-start="url(#k13)" marker-mid="url(#k13)" marker-end="url(#k13)"/><path d="M22 7h2L19 8h2 2L18 9h2 2L19 10L18 11" fill="none" marker-start="url(#k14)" marker-mid="url(#k14)" marker-end="url(#k14)"/></g></g><text x="574.31" y="404.4" font-size="29.67" textLength="59.37" lengthAdjust="spacingAndGlyphs" font-family="Liberation Sans, Arial, sans-serif">Skin</text><g filter="url(#bs)"><g transform="translate(767.5 416.55) scale(3.79 6.53)"><path d="M44 19" fill="none" marker-start="url(#k4)" marker-mid="url(#k4)" marker-end="url(#k4)"/><path d="M45 18L46 19" fill="none" marker-start="url(#k5)" marker-mid="url(#k5)" marker-end="url(#k5)"/><path d="M48 15L47 16L46 17h2L43 18h4L42 19" fill="none" marker-start="url(#k6)" marker-mid="url(#k6)" marker-end="url(#k6)"/><path d="M43 2L43 6h2L44 7L29 10h2L28 11h2L23 12h2 2L22 13h2 2L45 14h2L46 15L45 16h4L44 17h6L49 18L48 19L47 20L44 23" fill="none" marker-start="url(#k7)" marker-mid="url(#k7)" marker-end="url(#k7)"/><path d="M43 0L42 1h2L45 2L41 6h6L42 7h4L1 8h42L26 9h2L27 10L26 11h6L21 12h8L44 13h2 2L43 14h6L44 15h6L43 16h8L52 17L41 18L43 20h2 4L48 21L42 23" fill="none" marker-start="url(#k8)" marker-mid="url(#k8)" marker-end="url(#k8)"/><path d="M45 0L46 1L41 2L42 3h2L21 4h2L22 5h20 2 2L39 6h10L40 7h8L13 8h2 10 2 14 4L2 9h12 16 14L25 10h8L24 11L43 12h2 2 2L20 13h8 14 8L42 15L13 16L14 17h28L51 18L50 19L46 21L5 22h38 2 2L4 23h2 40L43 24" fill="none" marker-start="url(#k9)" marker-mid="url(#k9)" marker-end="url(#k9)"/><path d="M41 0h6L40 1L47 2L22 3h2 22L19 4h6L20 5h4 14 2 8 2L37 6h14L2 7h24 2 10 12L3 8h8 6 12 18L4 9h8 4 8 8 10 4L1 10h22 20L20 11h2 12 8 2 2 2L19 12h12 2 8 10L30 13h10L21 14h2 2 2 2 12 10L14 15h26 12L11 16h4 26L12 17h4 24L13 18h2L40 19L41 20h10L44 21h6L3 22h4 34 8L2 23h6 32L3 24h2 2 34 4" fill="none" marker-start="url(#k10)" marker-mid="url(#k10)" marker-end="url(#k10)"/><path d="M5 0h2 2 2 2 2 2 2 2 2 2 2 6 2 2 2 10 2L6 1h2 2 2 2 2 2 2 2 2 2 2 6 2 2 10 2 2L1 2h2 2 2 2 2 2 2 6 2 2 2 6 2 2 2 10 2L2 3h2 2 2 2 2 2 2 4 6 2 2 2 2 2 2 2 8 2 2L1 4h2 2 2 2 2 2 2 2 10 2 2 2 2 2 2 2 2 2 2 2 2L2 5h2 2 2 2 2 2 2 2 8 2 2 2 2 2 16L1 6h2 2 2 2 2 6 2 2 2 2 2 2 2 2 2L4 7h2 2 2 2 2 2 2 2 2 2 6 2 2 2 16L5 8h2 2 10 2 2 8 2 2 2 2 10 2L6 9h2 2 8 2 2 12 2 2 2 8 2 2L3 10h2 2 2 2 2 2 2 2 2 14 2 2 2 4 2 2 2L2 11h6 2 2 2 2 2 18 2 2 10 2L1 12h8 2 2 2 2 18 2 2L10 13h2 2 2 2 14 2 2 2 14L1 14h8 2 2 2 2 2 12 2 2 2 2L2 15h2 2 2 2 2 4 2 2 2 2 2 2 2 2 2 2 2L1 16h2 2 2 2 8 2 2 2 2 2 2 2 2 2 2 2L2 17h2 2 2 2 8 2 2 2 2 2 2 2 2 2 2L1 18h2 2 2 2 2 6 2 2 2 2 2 2 2 2 2 2 2L2 19h2 2 2 2 2 2 2 2 2 2 2 2 2 2 2 2 2 2 14L1 20h2 2 2 2 2 2 2 2 2 2 2 2 2 2 2 2 2 2 2L2 21h2 2 2 2 2 2 2 2 2 2 2 2 2 2 2 2 2 2 2 2 10L1 22h8 2 2 2 2 2 2 2 2 2 2 2 2 2 2 2 12L10 23h2 2 2 2 2 2 2 2 2 2 2 2 2 2 10 2 2L1 24h8 2 2 2 2 2 2 2 2 2 2 2 2 2 2 2L2 25h2 2 2 2 2 2 2 2 2 2 2 2 2 2 2 2 2 2 2 2 10" fill="none" marker-start="url(#k11)" marker-mid="url(#k11)" marker-end="url(#k11)"/><path d="M29 0h2L4 1h26 2L17 2h2 10 2L18 3L13 6h2L4 11h2L2 13h6L3 14h2 2L51 24L44 25" fill="none" marker-start="url(#k12)" marker-mid="url(#k12)" marker-end="url(#k12)"/><path d="M2 1L3 12h4L47 24h2L50 25" fill="none" marker-start="url(#k13)" marker-mid="url(#k13)" marker-end="url(#k13)"/><path d="M3 0L4 13h2L46 25" fill="none" marker-start="url(#k14)" marker-mid="url(#k14)" marker-end="url(#k14)"/><path d="M5 12" fill="none" marker-start="url(#k15)" marker-mid="url(#k15)" marker-end="url(#k15)"/><path d="M1 0L48 25" fill="none" marker-start="url(#k16)" marker-mid="url(#k16)" marker-end="url(#k16)"/></g></g><text x="825.58" y="404.4" font-size="30.79" textLength="65.39" lengthAdjust="spacingAndGlyphs" font-family="Liberation Sans, Arial, sans-serif">WBC</text><path d="M232.9 696.9V868.5M225.9 727H232.9M225.9 783H232.9M225.9 839.4H232.9" stroke="#000" stroke-width="2.2" fill="none"/><rect x="237.9" y="697.1" width="15" height="9.25" fill="#3f86c0"/><rect x="237.9" y="705.75" width="15" height="9.25" fill="#57a8bb"/><rect x="237.9" y="714.4" width="15" height="9.25" fill="#78ccbb"/><rect x="237.9" y="723.05" width="15" height="9.25" fill="#98dcb0"/><rect x="237.9" y="731.7" width="15" height="9.25" fill="#b5e5a6"/><rect x="237.9" y="740.35" width="15" height="9.25" fill="#d0eca0"/><rect x="237.9" y="749" width="15" height="9.25" fill="#e6f29d"/><rect x="237.9" y="757.65" width="15" height="9.25" fill="#f4f2a2"/><rect x="237.9" y="766.3" width="15" height="9.25" fill="#fcf6bc"/><rect x="237.9" y="774.95" width="15" height="9.25" fill="#fef7c2"/><rect x="237.9" y="783.6" width="15" height="9.25" fill="#fef0ad"/><rect x="237.9" y="792.25" width="15" height="9.25" fill="#fee596"/><rect x="237.9" y="800.9" width="15" height="9.25" fill="#fdd683"/><rect x="237.9" y="809.55" width="15" height="9.25" fill="#fdc473"/><rect x="237.9" y="818.2" width="15" height="9.25" fill="#fcb062"/><rect x="237.9" y="826.85" width="15" height="9.25" fill="#f99b56"/><rect x="237.9" y="835.5" width="15" height="9.25" fill="#f67f4b"/><rect x="237.9" y="844.15" width="15" height="9.25" fill="#ef6645"/><rect x="237.9" y="852.8" width="15" height="9.25" fill="#e4544a"/><rect x="237.9" y="861.45" width="15" height="9.25" fill="#d53e4f"/><text transform="translate(111.7 859.29) rotate(-90)" font-size="32.37" textLength="141.38" lengthAdjust="spacingAndGlyphs" font-family="Liberation Sans, Arial, sans-serif">Spearman</text><text transform="translate(151.9 860.98) rotate(-90)" font-size="32.71" textLength="151.69" lengthAdjust="spacingAndGlyphs" font-family="Liberation Sans, Arial, sans-serif">correlation</text><text x="173.02" y="735.5" font-size="30.93" textLength="38.44" lengthAdjust="spacingAndGlyphs" font-family="Liberation Sans, Arial, sans-serif">0.5</text><text x="174.8" y="793.3" font-size="31.51" textLength="39.2" lengthAdjust="spacingAndGlyphs" font-family="Liberation Sans, Arial, sans-serif">0.0</text><text x="169.63" y="852.1" font-size="31.51" textLength="49.27" lengthAdjust="spacingAndGlyphs" font-family="Liberation Sans, Arial, sans-serif">-0.5</text><g filter="url(#bs)"><g transform="translate(264.3 703.95) scale(3.79 6.53)"><path d="M48 21" fill="none" marker-start="url(#k3)" marker-mid="url(#k3)" marker-end="url(#k3)"/><path d="M47 22" fill="none" marker-start="url(#k4)" marker-mid="url(#k4)" marker-end="url(#k4)"/><path d="M47 20L46 21L49 22L48 23" fill="none" marker-start="url(#k5)" marker-mid="url(#k5)" marker-end="url(#k5)"/><path d="M24 9h2L27 10L18 11L1 12h16 2L18 13L14 15L14 17h8 26L23 18L22 19h22L45 20h4L50 21L45 22L46 23h4" fill="none" marker-start="url(#k6)" marker-mid="url(#k6)" marker-end="url(#k6)"/><path d="M47 6h2L48 7h2L1 8h20 2 2 2L2 9h16 2 2 6L17 10h2 2 2 2 4L16 11h4 4 2 2L15 12h6L14 13h2 4L13 14h2 2L16 15L13 16h2 6 2 16 8 2L12 17h4 4 4 14 2 2 4 4L13 18h2 6 4 14 2 2 2 2L20 19h4 18 4L5 20h2 14 2L6 21h38L5 22h46" fill="none" marker-start="url(#k7)" marker-mid="url(#k7)" marker-end="url(#k7)"/><path d="M5 0L1 2h8L10 3L9 4h2 2L51 6L46 7h6L3 8h2 14 10 18 2 2L4 9h26L1 10h14 16L2 11h8 2 2 8 8L9 12h2 2 10 2 2L2 13h10 10 2 2 22L19 14h2 2 2 2 2 20L6 15h6 6 2 2 2 2 2 2 8 2 8 2 2L5 16h2 4 6 2 6 2 2 2 6 4 4 6L2 17h2 2 2 2 8 8 2 2 2 2 2 8 8L5 18h2 2 2 6 2 8 2 2 2 2 2 12L6 19h2 2 2 2 2 2 8 2 2 2 2 2 2 2 8L9 20h2 2 2 2 2 6 2 2 2 2 2 8 8L4 21h4 2 2 2 2 2 2 2 2 2 2 2 2 2 18L7 22h6 2 12 2 2 2 2 8L14 23h14 2 2 2 10 8L47 24h2" fill="none" marker-start="url(#k8)" marker-mid="url(#k8)" marker-end="url(#k8)"/><path d="M7 0h44L4 1h2 46L3 2h8L8 3h4L15 4L10 5h2 2 34 2L2 7h20 2 2 2L17 8h14L16 9h16 16 2 2L3 10h8 2L8 11h24L3 12h26 4 2 12 2L4 13h4 2 18 6 2 10 4L3 14h2 2 4 20 8 8 4L4 15h28 10 4L1 16h2 6 24 2 8L3 18h48L4 19h46L3 20h34 4L36 21h6L3 22h6 2 6 6 2 12L4 23h2 6 14 10 6L45 24h6" fill="none" marker-start="url(#k9)" marker-mid="url(#k9)" marker-end="url(#k9)"/><path d="M3 0h46L2 1h6 2 2 38L7 2h6L2 3h4 8L7 4h10L8 5h8 30 6L45 6L4 7h2 10 2 2 10 2 12L15 8h18 12L6 9h8 20 12L5 10h2 2 24 16 2L4 11h2 28 2 12L7 12h24 6 8 6L6 13h24 2 6 2 12L1 14h8 24 2 2 4 4L2 15h6 2 24 2 8L1 18L2 19L39 20L2 21h36 2L19 22h2 20L2 23h6 8 8 14 2L13 24h2 20 2 4 2" fill="none" marker-start="url(#k10)" marker-mid="url(#k10)" marker-end="url(#k10)"/><path d="M1 0h8 2 2 16 2 2 2 2 2 8L14 1h16 2 2 2 12L5 2h26 2 2 14 2L4 3h12 14 2 2 2 12 2 2L1 4h2 2 22 2 2 2 2 2 2 8 2 2L2 5h2 2 12 8 2 2 2 2 2L1 6h2 2 2 2 2 2 2 2 2 2 2 2 2 2 2 2 10L14 7h20L7 8h28 8L8 9h4 32L35 10h2 4 2 2 2L38 11h2 2 2 2 4 2L5 12h34 2 2L42 13h2L43 14L52 19L1 20L1 22h38L10 23h8 2 2L17 24h2 2 2 2 8 6L14 25h2 2 2 2 14 2 2 2 2 2 2 2 2" fill="none" marker-start="url(#k11)" marker-mid="url(#k11)" marker-end="url(#k11)"/><path d="M15 0h12 14 4L16 1h12 10 2 6L15 2h14 8 10L18 3h8 2 10 2 6L19 4h6 16 4L20 5h2 2 14 2 2 2L35 6h2 4L8 7h2 2 24 6L13 8L10 9h26 6L39 10L3 24h2 2 4 16 2 2L34 25" fill="none" marker-start="url(#k12)" marker-mid="url(#k12)" marker-end="url(#k12)"/><path d="M17 0h2 6 18L18 1h8 16L17 2h10 12L20 3h22L21 4h2 20L39 6L38 7h2L11 8h26 4L38 9h2L1 24h8L12 25h12" fill="none" marker-start="url(#k13)" marker-mid="url(#k13)" marker-end="url(#k13)"/><path d="M21 0h2L20 1h4 20L19 2h6 16 4L24 3h20L9 8h30" fill="none" marker-start="url(#k14)" marker-mid="url(#k14)" marker-end="url(#k14)"/><path d="M22 1L21 2h2 20L22 3L2 25h2 2 2 2 16 2 4" fill="none" marker-start="url(#k15)" marker-mid="url(#k15)" marker-end="url(#k15)"/><path d="M30 25" fill="none" marker-start="url(#k16)" marker-mid="url(#k16)" marker-end="url(#k16)"/></g></g><text x="292.97" y="688.6" font-size="31.47" textLength="124.19" lengthAdjust="spacingAndGlyphs" font-family="Liberation Sans, Arial, sans-serif">Intestine</text><g filter="url(#bs)"><g transform="translate(514 703.95) scale(3.79 6.53)"><path d="M44 21" fill="none" marker-start="url(#k2)" marker-mid="url(#k2)" marker-end="url(#k2)"/><path d="M39 0L39 2L42 21h4L43 22h2L44 23" fill="none" marker-start="url(#k3)" marker-mid="url(#k3)" marker-end="url(#k3)"/><path d="M40 1L44 17L43 20h2L48 21L47 22L42 23" fill="none" marker-start="url(#k4)" marker-mid="url(#k4)" marker-end="url(#k4)"/><path d="M38 1L42 17L43 18L41 20h6L14 21h26L41 22L46 23L43 24" fill="none" marker-start="url(#k5)" marker-mid="url(#k5)" marker-end="url(#k5)"/><path d="M41 0L37 2h4L35 8L19 12h2L18 13h2 2L43 16L41 18h4L40 19h2 2L39 20h10L12 21h4 34L49 22L48 23L41 24h4" fill="none" marker-start="url(#k6)" marker-mid="url(#k6)" marker-end="url(#k6)"/><path d="M37 0L38 3h2L31 8h2L18 11h2 2L23 12L24 13h2L19 14h2 2 2 2L24 15h2 2L27 16h14 4L40 17L37 18h2L38 19h8L3 20h2 8 2 22L4 21h2 32L5 22h8 2 24L40 23L42 25h2" fill="none" marker-start="url(#k7)" marker-mid="url(#k7)" marker-end="url(#k7)"/><path d="M36 1h6L35 2L43 4L44 5L35 6h2 2 2 2L34 7h2L37 8L30 9h2 2 2L17 12h8L16 13h12L15 14h2 12L16 15h2 2 2 8 10L17 16h2 2 2 2 4 2 8L18 17h2 2 2 2 2 2 2 2 2 2 8L19 18h2 2 8 2 2 12L2 19h2 2 12 2 2 8 2 2 2 12L1 20h6 4 6 2 2 2 6 2 2 2 16L2 21h6 2 8 2 2 2 2 2 2 2 2 2 16L1 22h2 4 4 6 2 8 2 2 2 2 2L2 23h2 10 2 2 8 2 2 2 2 2 2L1 24h26 8 2 2 8L26 25h10 2 2" fill="none" marker-start="url(#k8)" marker-mid="url(#k8)" marker-end="url(#k8)"/><path d="M51 0L52 1L33 2L36 3h6L41 4h4L40 5h2L45 6h6L32 7h6 2 2 2 8L29 8L19 10h2 2 28L16 11h8 28L27 12L13 14h18 8L12 15h2 18 6 4L9 16h2 4 18 2 2L8 17h2 6L1 18h2 2 2 10 8 4L16 19h8 26L9 20h16 2L9 22h12 2 2 26L6 23h6 8 30L3 24h2 20 4 2 2L2 25h26 6 12" fill="none" marker-start="url(#k9)" marker-mid="url(#k9)" marker-end="url(#k9)"/><path d="M43 0h6L34 1h16L43 2L34 3h10 2L39 4L34 5h2 2 8 4 2L33 6h14 2L30 7h16 4L39 8L28 9h10 12 2L17 10h8 4 2 2 2 2 12L26 11h2 22L15 12h14 22L14 13h16 2 6 2L11 14h22 4 4L10 15h24 2 8 2L7 16h6 34L6 17h6L9 18h2 4 12 22L8 19h4 2 12 2L8 23h16L7 24h8 2 2 4 26L4 25h20 6 2" fill="none" marker-start="url(#k10)" marker-mid="url(#k10)" marker-end="url(#k10)"/><path d="M13 0h2 2 2 2 2 2 2 2 2 2 2 10 2L14 1h8 2 2 2 2 2 12 2 2L1 2h12 10 2 2 2 2 14 2 2 2L2 3h24 2 2 2 16 2 2L1 4h2 2 22 6 2 2 10 2 2L2 5h2 24 4 16L1 6h2 26 2L28 7h20L5 8h22 14 2 2 2 2 2L4 9h2 2 10 2 2 2 2 14 2 2 2 2L1 10h2 2 2 2 2 2 2 12 12 2 2 2 2L2 11h2 2 2 2 2 2 16 2 2 2 2 2 2 2 2 2L1 12h2 2 2 2 2 2 18 2 2 2 2 2 2 2 2 2L2 13h2 2 2 2 2 22 2 6 2 2 2 2 2L1 14h2 2 2 2 26 8 2 2 2 2L2 15h2 2 2 40 2 2L1 16h2 2 44 2L2 17h2 10 34 2 2L13 18h38L10 19h42L10 23h12 30L9 24h2 2 8L6 25h2 2 8 2 2 26" fill="none" marker-start="url(#k11)" marker-mid="url(#k11)" marker-end="url(#k11)"/><path d="M11 0L2 1h10 4 2 2L3 2h8 4 2 2 2L4 3h2 8 6 2 2L7 4h18 4 2L6 5h2 16 2 4L5 6h2 18 2L2 7h2 2 2 16 2L3 8h4 2 2 10 2 2L2 9h8 2 2 2L51 24L12 25h4" fill="none" marker-start="url(#k12)" marker-mid="url(#k12)" marker-end="url(#k12)"/><path d="M1 0h2 2 2 2L4 1h2 2 2L5 2h2 2L8 3h2 2 4 2L9 4h2 6 2 2 2L10 5h2 4 2 2 2L9 6h2 2 2 2 2 2 2L10 7h2 2 2 2 2 2L1 8h12 2 2 2L14 25h36" fill="none" marker-start="url(#k13)" marker-mid="url(#k13)" marker-end="url(#k13)"/><path d="M13 4h2L14 5" fill="none" marker-start="url(#k14)" marker-mid="url(#k14)" marker-end="url(#k14)"/><path d="M52 25" fill="none" marker-start="url(#k15)" marker-mid="url(#k15)" marker-end="url(#k15)"/></g></g><text x="563.99" y="688.6" font-size="31.47" textLength="96.83" lengthAdjust="spacingAndGlyphs" font-family="Liberation Sans, Arial, sans-serif">Spleen</text><g filter="url(#bs)"><g transform="translate(767.5 703.95) scale(3.79 6.53)"><path d="M40 25" fill="none" marker-start="url(#k4)" marker-mid="url(#k4)" marker-end="url(#k4)"/><path d="M38 25" fill="none" marker-start="url(#k5)" marker-mid="url(#k5)" marker-end="url(#k5)"/><path d="M22 15L44 21L43 22L44 23L39 24h2L42 25" fill="none" marker-start="url(#k6)" marker-mid="url(#k6)" marker-end="url(#k6)"/><path d="M39 6L40 7L20 15L21 16h2L22 17h2L42 21h4L41 22h4L40 23h2 4L43 24" fill="none" marker-start="url(#k7)" marker-mid="url(#k7)" marker-end="url(#k7)"/><path d="M41 6L38 7L39 8L21 14h2L24 15L25 16L26 17L40 19L39 20h2 2 2L36 21h2 2 8L39 22h8L48 23L37 24h8L44 25" fill="none" marker-start="url(#k8)" marker-mid="url(#k8)" marker-end="url(#k8)"/><path d="M51 0L52 1L40 5L37 6h14L42 7h10L37 8h4L40 9L47 12h2L48 13L17 14h2 32L18 15h34L19 16h8L20 17h8L23 18h16L38 19L35 20h2 10L34 21L37 22h12L38 23L47 24L36 25" fill="none" marker-start="url(#k9)" marker-mid="url(#k9)" marker-end="url(#k9)"/><path d="M49 0L50 1L38 5h4 10L43 6h6L36 7h14L38 9h4L39 10L48 11L45 12h6L18 13h2 2 2 22 4 2L15 14h10 22 2L16 15h10 24L17 16h12 22L21 18h4 2 10 4L36 19h6 2L33 20h16L32 21h18L33 22h2 16L36 23h14L49 24L46 25" fill="none" marker-start="url(#k10)" marker-mid="url(#k10)" marker-end="url(#k10)"/><path d="M31 0h16L48 1L5 2h42 2 2L46 3h2 2 2L1 4h38 2 2 2 6L2 5h34 8 2 2 2L1 6h2 2 30 10 2L2 7h2 2 28 10 2 2L1 8h2 2 2 2 18 2 2 2 2 8 2 2 2 2L2 9h2 2 2 2 8 8 2 2 2 2 2 8 2 2 2 2L1 10h2 2 2 2 2 2 2 2 2 2 2 2 2 2 2 2 2 2 4 2 2 2 2 2L2 11h2 2 2 2 2 2 2 2 2 2 2 2 2 2 2 2 2 2 2 2 2 2 4 2L1 12h2 2 2 2 2 2 2 2 2 2 2 2 2 2 2 2 2 2 2 2 2L2 13h2 2 2 2 2 2 2 10 2 2 2 2 2 2 2 2 2L1 14h2 2 2 2 2 2 14 2 2 2 2 2 2 2 2 2L2 15h2 2 2 2 2 2 14 2 2 2 2 2 2 2 2 2 2L1 16h2 2 2 2 2 2 2 16 2 2 2 2 2 2 2 2 2L2 17h2 2 2 2 2 2 2 2 12 2 2 2 2 2 2 2 2 2 2 2L1 18h2 2 2 2 2 2 2 2 2 10 2 2 2 8 2 2 2 2L2 19h2 2 2 2 2 2 2 2 2 2 2 2 2 2 2 2 12 2 2 2L1 20h2 2 2 2 2 2 2 2 2 2 2 2 2 2 2 20L2 21h2 2 2 2 2 2 2 2 2 2 2 2 2 2 22L1 22h2 2 2 2 2 2 2 2 2 2 2 2 2 2 2L2 23h2 2 2 2 2 2 2 2 2 2 2 2 2 2 2 2 18L1 24h2 2 2 2 2 2 2 2 2 2 2 2 2 2 2 2 2 16L2 25h2 2 2 2 2 2 2 2 2 2 2 2 2 2 2 2 14 2 2" fill="none" marker-start="url(#k11)" marker-mid="url(#k11)" marker-end="url(#k11)"/><path d="M29 0h4 12L2 1h2 2 22 2 2 12 2L1 2h2 4 18 2 16 2L2 3h2 2 32 2 2 2L3 4h34 10 2L4 5h2 28L7 6h26L8 7h2 8 8 2 2 2L11 8h6 2 6L12 9h2 2 4 2 2" fill="none" marker-start="url(#k12)" marker-mid="url(#k12)" marker-end="url(#k12)"/><path d="M1 0h2 2 2 2 2 2 2 2 2 2 2 2 2 8 2 2 2 2L8 1h2 2 2 2 2 2 2 2 2 8 2 2 2 2L9 2h2 2 2 2 2 2 2 6 2 2 2 2 2 2L8 3h2 2 2 2 2 2 2 2 2 2 2 2 2 2L5 4h2 2 2 2 2 2 2 2 2 2 2 2 2 2 2L8 5h2 2 2 2 2 2 2 2 2 2 2 2L9 6h2 2 2 2 2 2 2 2 2 2 2L12 7h2 2 4 2 2L13 8h2 6 2" fill="none" marker-start="url(#k13)" marker-mid="url(#k13)" marker-end="url(#k13)"/></g></g><text x="814.41" y="688.6" font-size="33.14" textLength="73.8" lengthAdjust="spacingAndGlyphs" font-family="Liberation Sans, Arial, sans-serif">Bone</text><path d="M232.9 987V1158.6M225.9 1017.1H232.9M225.9 1073.1H232.9M225.9 1129.5H232.9" stroke="#000" stroke-width="2.2" fill="none"/><rect x="237.9" y="987.2" width="15" height="9.25" fill="#3f86c0"/><rect x="237.9" y="995.85" width="15" height="9.25" fill="#57a8bb"/><rect x="237.9" y="1004.5" width="15" height="9.25" fill="#78ccbb"/><rect x="237.9" y="1013.15" width="15" height="9.25" fill="#98dcb0"/><rect x="237.9" y="1021.8" width="15" height="9.25" fill="#b5e5a6"/><rect x="237.9" y="1030.45" width="15" height="9.25" fill="#d0eca0"/><rect x="237.9" y="1039.1" width="15" height="9.25" fill="#e6f29d"/><rect x="237.9" y="1047.75" width="15" height="9.25" fill="#f4f2a2"/><rect x="237.9" y="1056.4" width="15" height="9.25" fill="#fcf6bc"/><rect x="237.9" y="1065.05" width="15" height="9.25" fill="#fef7c2"/><rect x="237.9" y="1073.7" width="15" height="9.25" fill="#fef0ad"/><rect x="237.9" y="1082.35" width="15" height="9.25" fill="#fee596"/><rect x="237.9" y="1091" width="15" height="9.25" fill="#fdd683"/><rect x="237.9" y="1099.65" width="15" height="9.25" fill="#fdc473"/><rect x="237.9" y="1108.3" width="15" height="9.25" fill="#fcb062"/><rect x="237.9" y="1116.95" width="15" height="9.25" fill="#f99b56"/><rect x="237.9" y="1125.6" width="15" height="9.25" fill="#f67f4b"/><rect x="237.9" y="1134.25" width="15" height="9.25" fill="#ef6645"/><rect x="237.9" y="1142.9" width="15" height="9.25" fill="#e4544a"/><rect x="237.9" y="1151.55" width="15" height="9.25" fill="#d53e4f"/><text transform="translate(111.7 1149.39) rotate(-90)" font-size="32.37" textLength="141.38" lengthAdjust="spacingAndGlyphs" font-family="Liberation Sans, Arial, sans-serif">Spearman</text><text transform="translate(151.9 1151.08) rotate(-90)" font-size="32.71" textLength="151.69" lengthAdjust="spacingAndGlyphs" font-family="Liberation Sans, Arial, sans-serif">correlation</text><text x="173.02" y="1025.6" font-size="30.93" textLength="38.44" lengthAdjust="spacingAndGlyphs" font-family="Liberation Sans, Arial, sans-serif">0.5</text><text x="174.8" y="1083.4" font-size="31.51" textLength="39.2" lengthAdjust="spacingAndGlyphs" font-family="Liberation Sans, Arial, sans-serif">0.0</text><text x="169.63" y="1142.2" font-size="31.51" textLength="49.27" lengthAdjust="spacingAndGlyphs" font-family="Liberation Sans, Arial, sans-serif">-0.5</text><g filter="url(#bs)"><g transform="translate(264.3 991.55) scale(3.79 6.53)"><path d="M48 21" fill="none" marker-start="url(#k4)" marker-mid="url(#k4)" marker-end="url(#k4)"/><path d="M47 20L46 21L47 22L39 24L40 25" fill="none" marker-start="url(#k5)" marker-mid="url(#k5)" marker-end="url(#k5)"/><path d="M48 19L45 20h4L44 21h6L45 22h4L40 23h8L38 25" fill="none" marker-start="url(#k6)" marker-mid="url(#k6)" marker-end="url(#k6)"/><path d="M14 13L47 18h2L46 19h4L43 20h8L42 21L39 22h2 2 8L38 23h4 4 4L37 24h4 6 2" fill="none" marker-start="url(#k7)" marker-mid="url(#k7)" marker-end="url(#k7)"/><path d="M1 4L13 12h2L6 13h6L5 14h2 4 2 2L6 15h2 2 2 2 26L9 16h2 2 26 2L10 17h2 14 10 2 2 2 2 2 2L25 18h2 8 8 2L18 19h2 2 2 2 18 8L5 20h12 2 22L2 21h2 10 2 2 22 12L13 22h2 2 20L10 23h2 2 2 2 18 8 8L13 24h2 2 34L14 25h2 2 30 2 2" fill="none" marker-start="url(#k8)" marker-mid="url(#k8)" marker-end="url(#k8)"/><path d="M51 0L52 1L51 8L50 9h2L47 10h2L48 11L5 12L4 13h4 8L9 14h30L4 15h34L1 16h2 4 8 12 8 2 6 2 2L2 17h6 6 10 4 6 16L5 18h2 10 2 2 2 10 4 4 10L4 19h2 10 12 6 2 6L1 20h2 4 8 6 8 2 8L6 21h6 8 10 2 6L9 22h2 8 14 2L8 23h12 14L11 24h8 24 2L12 25h8 16 6 4" fill="none" marker-start="url(#k9)" marker-mid="url(#k9)" marker-end="url(#k9)"/><path d="M49 0L50 1L2 3L3 4L2 5h2L50 7h2L49 8L46 9h2L45 10h6L6 11h6 2 2 30 4L3 12h4 4 6 30 2L2 13h8 28 2L3 14h14 20 4L2 15h14 10 10 6 2 2 2L5 16h12 8 4 4 16L4 17h2 10 14 2L1 18h2 6 2 2 2 14 10L2 19h6 6 16 2 6 2L11 20h2 10 2 2 6 2 2L8 21h2 18 6 2L1 22h2 2 2 14 8 2L6 23h26L7 24h2 12 12 2" fill="none" marker-start="url(#k10)" marker-mid="url(#k10)" marker-end="url(#k10)"/><path d="M1 0h2 2 2 2 18 2 2 2 2 2 2 2 2 2 2L2 1h2 2 2 2 18 2 2 2 2 2 2 2 2 2 2L1 2h2 2 2 2 20 2 2 2 2 2 2 2 2 2 2 2L4 3h2 2 2 22 2 2 6 2 2 2 2 2L5 4h2 2 24 2 8 2 2 2 2L6 5h26 2 2 8 2 2 2 2L1 6h2 2 26 2 2 8 2 2 2 2L2 7h2 26 2 2 2 2 4 2 2 2L1 8h2 28 2 2 2 2 2 2 2 2L2 9h28 2 2 2 2 2 2 2L5 10h2 2 2 2 2 16 2 2 2 2 2 2L2 11h2 4 2 8 12 2 2 2 2 2 2 2 8L1 12h8 10 12 2 2 2 2 2 2 2 6L18 13h10 2 2 2 2 6 2 2 2 2 2L1 14h18 2 4 2 2 2 2 2 8 2 2 2 2L18 15h2 2 2 4 2 2 2 16 2L19 16h2 2 8 20L18 17h2 2 30L31 18L10 19h2L9 20L22 21h2 2L23 22h2 2L2 23h2 18 2 2 2 2L1 24h2 2 18 2 2 2 2L2 25h2 2 2 2 12 2 2 2 2 2 2 10" fill="none" marker-start="url(#k11)" marker-mid="url(#k11)" marker-end="url(#k11)"/><path d="M11 0h14L12 1h12 2L11 2h14 2L12 3h16 2 8 2L11 4h18 2 6 4L8 5h2 20 8 2 2L7 6h22 8 2 2L6 7h2 20 12L5 8h2 6 16L4 9h2 2 2 2 2 2 12L1 10h2 14 2 10L20 11h8L21 12h6 2L20 13h2 2 2L23 14" fill="none" marker-start="url(#k12)" marker-mid="url(#k12)" marker-end="url(#k12)"/><path d="M13 0h2 6 2L14 1h8L13 2h2 6 2L14 3h2 6 2 2L13 4h2 2 2 6 2 12L12 5h2 2 10 2L9 6h2 2 14L10 7h2 2 12L9 8h2 4 8 2 2L18 9h2 2 2 2L21 10h2 2 2L22 11h2 2L23 12h2" fill="none" marker-start="url(#k13)" marker-mid="url(#k13)" marker-end="url(#k13)"/><path d="M17 0h2L16 1h2 2L17 2h2L18 3h2L21 4h2L18 5h2 2 2L15 6h2 8L16 7h4 2 2L17 8h2 2" fill="none" marker-start="url(#k14)" marker-mid="url(#k14)" marker-end="url(#k14)"/><path d="M19 6h2 2L18 7" fill="none" marker-start="url(#k15)" marker-mid="url(#k15)" marker-end="url(#k15)"/></g></g><text x="318.38" y="975.2" font-size="31.25" textLength="78.16" lengthAdjust="spacingAndGlyphs" font-family="Liberation Sans, Arial, sans-serif">Heart</text><g filter="url(#bs)"><g transform="translate(514 991.55) scale(3.79 6.53)"><path d="M42 17L52 21" fill="none" marker-start="url(#k3)" marker-mid="url(#k3)" marker-end="url(#k3)"/><path d="M51 12L40 17h4L48 21h2L40 25" fill="none" marker-start="url(#k4)" marker-mid="url(#k4)" marker-end="url(#k4)"/><path d="M52 11L49 12L52 13L22 15L39 16h2 2L43 18L47 22h2 2L48 23L38 25" fill="none" marker-start="url(#k5)" marker-mid="url(#k5)" marker-end="url(#k5)"/><path d="M31 0L44 7h2 2L43 8h2 2L46 9h2L47 10h2 2L48 11h2L47 12L50 13L19 14h2 2L18 15h2 20L38 17L41 18L51 20L22 21h24L46 23h4" fill="none" marker-start="url(#k6)" marker-mid="url(#k6)" marker-end="url(#k6)"/><path d="M29 0h4L43 6h2 2L42 7L41 8h8L42 9h2 6 2L45 10L46 11L45 12L20 13h2 26L17 14L16 15h8 14L19 16h2 2 14 8L36 17L37 18h2 6L28 19h2 2 10 2L23 20h8 12 2 2 2L24 21L23 22h22L39 24" fill="none" marker-start="url(#k7)" marker-mid="url(#k7)" marker-end="url(#k7)"/><path d="M27 0h8 2 2L48 1L43 2h2 2L41 6h8L40 7h10L39 8h12L40 9L39 10h2 2L14 11h28 2L15 12h28L14 13h2 2 28L15 14h24L14 15h28L15 16h2L14 17h2 2 2 2 24L17 18h2 2 2 6 2 2 2L18 19h2 2 2 2 8 2 2 2L21 20h4 2 2 4 2 2 2 2L2 21h2 22 2 2 2 2 2 2 2 2 2L21 22h4 2 8 8L14 23h2 2 2 2 2 2 18 8L17 24h2 2 2 14 4 6 2L18 25h2 2 20" fill="none" marker-start="url(#k8)" marker-mid="url(#k8)" marker-end="url(#k8)"/><path d="M25 0h16 6 2L28 1h2 2 2 2 2 2 4 2L17 2h2 30L18 3h26 2 2L42 5h2 2 2L39 6L38 7L38 9L13 10L12 11h4 22 2L13 12h4 2 2 2 18L12 13h12 18 2L13 14h12 12 4 8 2L12 15h24 8L13 16h12 10L24 17h10L15 18h10 2L46 19L1 20h2 2 14L6 21h14L15 22h2 2 10 4 4 4L12 23h16 6 2 6L15 24h10 18 2 6L16 25h8 12" fill="none" marker-start="url(#k9)" marker-mid="url(#k9)" marker-end="url(#k9)"/><path d="M23 0h22 6L18 1h2 4 2 16 8L15 2h6 20 10L20 3h22 8L40 5h10L37 6h14L36 7h16L37 8L36 9L15 10h22L18 11h2 2 14L11 12h14 14L38 13h2L11 14h32 2 2L26 15h20L11 16h22 14L12 17h14 2 2 2L13 18h34L16 19h32 2 2L7 20h10L8 21L1 22h2 2 2 4 2 18 8L30 23h2 6 2L11 24h2 14 2 4 2" fill="none" marker-start="url(#k10)" marker-mid="url(#k10)" marker-end="url(#k10)"/><path d="M1 0h2 2 2 2 10 2 22L2 1h2 2 10 6 30L1 2h2 2 8 10 2 2 2 2 2 2 2 2L2 3h14 6 2 2 2 10 2 12L1 4h16 2 2 2 2 2 12 2 2 2 2 2 2L38 5h14L1 6h30 2 2L2 7h28 2 2L1 8h30 2 2L30 9h2 2L11 10h6 6 2 2 2 2 2 2L10 11h14 2 2 2 2 2L7 12h2 18 2 2 2 2 2L4 13h2 2 2 16 2 2 2 2 2L3 14h2 2 2 18 2 2 2 2L2 15h2 2 2 2 18 2 2 2 14 2 2L1 16h2 2 2 2 18 2 2 18 2L2 17h2 2 2 2 38 2 2L1 18h2 2 2 2 2 38 2L2 19h2 2 2 2 2 2L9 20h2 2 2L10 21h2 2 2 2L9 22L2 23h2 2 2 2L1 24h2 2 2 2 22L2 25h2 2 2 2 2 2 12 2 2 2 2 10 2 2 2 2" fill="none" marker-start="url(#k11)" marker-mid="url(#k11)" marker-end="url(#k11)"/><path d="M11 0h6L8 1h2 2 2L7 2h4L4 3h8 2 16 2 2 2L15 4h14 8L2 5h22 2 2 2 2 4L3 6h26L4 7L3 8h26L2 9h8 2 2 8 2 2 2L7 10h2 10 2L6 11h2L3 12h2L2 13L1 14" fill="none" marker-start="url(#k12)" marker-mid="url(#k12)" marker-end="url(#k12)"/><path d="M13 0h2L9 2L6 3h2 2L3 4h6 2 2 18 2L4 5h4 2 2 2 2 2 2 2 12L5 6h2 2 2 16L6 7h2 2 2 16L5 8h2 2 2 2 10 2 2L4 9h2 2 8 4L1 10h2 2L2 11h2L1 12" fill="none" marker-start="url(#k13)" marker-mid="url(#k13)" marker-end="url(#k13)"/><path d="M5 4h2 28L6 5L13 6h2 2 6 2L14 7h2 6 2 2L15 8h6L18 9" fill="none" marker-start="url(#k14)" marker-mid="url(#k14)" marker-end="url(#k14)"/><path d="M19 6h2L18 7h2L17 8h2" fill="none" marker-start="url(#k15)" marker-mid="url(#k15)" marker-end="url(#k15)"/></g></g><text x="578.9" y="975.2" font-size="31.25" textLength="56.87" lengthAdjust="spacingAndGlyphs" font-family="Liberation Sans, Arial, sans-serif">BAT</text><g filter="url(#bs)"><g transform="translate(767.5 991.55) scale(3.79 6.53)"><path d="M52 21L48 23L48 25" fill="none" marker-start="url(#k3)" marker-mid="url(#k3)" marker-end="url(#k3)"/><path d="M47 24L10 25h36" fill="none" marker-start="url(#k4)" marker-mid="url(#k4)" marker-end="url(#k4)"/><path d="M50 21L49 22L49 24" fill="none" marker-start="url(#k5)" marker-mid="url(#k5)" marker-end="url(#k5)"/><path d="M51 20L47 22h4L46 23h4L9 24L8 25" fill="none" marker-start="url(#k6)" marker-mid="url(#k6)" marker-end="url(#k6)"/><path d="M31 8L52 19L42 21h2 2 2L11 24h34L44 25h6" fill="none" marker-start="url(#k7)" marker-mid="url(#k7)" marker-end="url(#k7)"/><path d="M39 0L52 3L30 9L14 15L44 17h2L43 20h2 4L10 21h2 2 8 18L9 22h2 2 2 24 2 4L6 23h2 2 2 2 2 2 34L7 24h10 22 12L12 25h6 22 2" fill="none" marker-start="url(#k8)" marker-mid="url(#k8)" marker-end="url(#k8)"/><path d="M41 0L51 2L50 3L51 4L52 5L29 8h4L28 9h4L17 10h2 2 2 2 2 2L18 11h2 2 2 2L9 12L10 13L13 14h2L12 15L13 16h2 28 2 2L14 17h28 6L51 18L50 19L1 20h8 2 2 28 6L2 21h6 8 8 14L5 22h2 10 2 12 12L4 23h16 10 2 6 2L13 24h2 4 22 2L16 25h4 18" fill="none" marker-start="url(#k9)" marker-mid="url(#k9)" marker-end="url(#k9)"/><path d="M37 0L38 1h2 2 8 2L49 2L49 4L50 5L28 7h2 2L16 9h2 2 2 2 2 8L15 10h16L10 11h6 12L11 12h6 2 2 2 2 2L8 13h4 2L9 14h2 6L16 15h28 2L11 16h6 24 8L12 17h4 34L13 18h2 28 2 2 2L44 19h4L3 20h4 8 6 2 2 14L4 21h2 14 16L1 22h2 18 2 6 4 4L2 23h26 6 2 6 2L3 24h2 16 8 2 2 4L6 25h30" fill="none" marker-start="url(#k10)" marker-mid="url(#k10)" marker-end="url(#k10)"/><path d="M1 0h2 2 2 2 18 2 2 2 2 8 2 2 2 2L2 1h2 2 24 2 2 2 8 2 2L1 2h2 2 26 2 2 2 2 2 2 2 2L2 3h2 2 24 2 2 2 2 2 2 2 2 2L1 4h2 2 26 2 2 2 2 2 2 2 2L2 5h28 2 2 2 2 2 2 2 2 2L1 6h26 2 2 2 2 2 2 2 2 2 2 2 2L26 7h8 2 2 2 2 2 2 2 2 2L5 8h2 2 2 2 2 2 2 2 2 2 2 8 2 2 2 2 2 2 2 2L4 9h2 2 2 2 2 22 2 2 2 2 2 2 2 2L1 10h2 2 2 2 2 2 20 2 2 2 2 2 2 2 2 2L2 11h2 2 2 4 2 16 2 2 2 2 2 2 2 2 2 2 2L1 12h6 6 2 14 2 2 2 2 2 2 2 2 2 2 2L2 13h14 2 2 2 2 2 2 2 2 2 2 2 2 2 2 2 2 2 2L1 14h2 4 12 2 2 2 2 2 2 2 2 2 2 2 2 2 2 2L2 15h2 2 2 2 8 2 2 2 2 2 2 8 2 2 6L1 16h2 2 2 2 10 2 2 2 2 12 12L2 17h2 2 2 2 8 2 2 2 2 14 12L1 18h2 2 2 2 2 6 2 2 2 2 2 14L2 19h2 2 2 2 2 2 2 2 2 2 2 2 16 4L5 20h12 2 8L18 21h8 2 2 2 2L25 22h2 8L22 23h2 2L1 24h22 2 2 8L2 25h2 10 8 2 2 2 2 2 2 18" fill="none" marker-start="url(#k11)" marker-mid="url(#k11)" marker-end="url(#k11)"/><path d="M11 0h14L8 1h2 16 2L7 2h22L8 3h20L7 4h22L4 5h2 20 2L3 6h22L2 7h2 2 2 2 2 2 2 2 2 2 2L3 8L2 9L3 12h2L4 13h2L5 14h46L32 15h2 2 14L29 16h2 6L28 17h10L39 18L28 19h12L29 20h8" fill="none" marker-start="url(#k12)" marker-mid="url(#k12)" marker-end="url(#k12)"/><path d="M13 0h2 2 2 2 2L12 1h2 2 2 2 2 2L9 2h2 2 2 6 2 2 2L10 3h2 2 12L9 4h2 2 2 12L8 5h2 2 2 2 8L5 6h2 2 2 2 2 2 2 2 2L1 8L52 15L33 16L30 17L29 18L38 19L31 20h2 2" fill="none" marker-start="url(#k13)" marker-mid="url(#k13)" marker-end="url(#k13)"/><path d="M17 2h2L16 3h2 2 2 2L17 4h2 6L18 5h2 2L35 16L32 17h4L31 18h6L30 19" fill="none" marker-start="url(#k14)" marker-mid="url(#k14)" marker-end="url(#k14)"/><path d="M21 4h2L34 17L33 18L32 19h2 2" fill="none" marker-start="url(#k15)" marker-mid="url(#k15)" marker-end="url(#k15)"/><path d="M35 18" fill="none" marker-start="url(#k16)" marker-mid="url(#k16)" marker-end="url(#k16)"/></g></g><text x="829.22" y="975.2" font-size="29.67" textLength="73.42" lengthAdjust="spacingAndGlyphs" font-family="Liberation Sans, Arial, sans-serif">Brain</text><path d="M232.9 1274V1445.6M225.9 1304.1H232.9M225.9 1360.1H232.9M225.9 1416.5H232.9" stroke="#000" stroke-width="2.2" fill="none"/><rect x="237.9" y="1274.2" width="15" height="9.25" fill="#3f86c0"/><rect x="237.9" y="1282.85" width="15" height="9.25" fill="#57a8bb"/><rect x="237.9" y="1291.5" width="15" height="9.25" fill="#78ccbb"/><rect x="237.9" y="1300.15" width="15" height="9.25" fill="#98dcb0"/><rect x="237.9" y="1308.8" width="15" height="9.25" fill="#b5e5a6"/><rect x="237.9" y="1317.45" width="15" height="9.25" fill="#d0eca0"/><rect x="237.9" y="1326.1" width="15" height="9.25" fill="#e6f29d"/><rect x="237.9" y="1334.75" width="15" height="9.25" fill="#f4f2a2"/><rect x="237.9" y="1343.4" width="15" height="9.25" fill="#fcf6bc"/><rect x="237.9" y="1352.05" width="15" height="9.25" fill="#fef7c2"/><rect x="237.9" y="1360.7" width="15" height="9.25" fill="#fef0ad"/><rect x="237.9" y="1369.35" width="15" height="9.25" fill="#fee596"/><rect x="237.9" y="1378" width="15" height="9.25" fill="#fdd683"/><rect x="237.9" y="1386.65" width="15" height="9.25" fill="#fdc473"/><rect x="237.9" y="1395.3" width="15" height="9.25" fill="#fcb062"/><rect x="237.9" y="1403.95" width="15" height="9.25" fill="#f99b56"/><rect x="237.9" y="1412.6" width="15" height="9.25" fill="#f67f4b"/><rect x="237.9" y="1421.25" width="15" height="9.25" fill="#ef6645"/><rect x="237.9" y="1429.9" width="15" height="9.25" fill="#e4544a"/><rect x="237.9" y="1438.55" width="15" height="9.25" fill="#d53e4f"/><text transform="translate(111.7 1436.39) rotate(-90)" font-size="32.37" textLength="141.38" lengthAdjust="spacingAndGlyphs" font-family="Liberation Sans, Arial, sans-serif">Spearman</text><text transform="translate(151.9 1438.08) rotate(-90)" font-size="32.71" textLength="151.69" lengthAdjust="spacingAndGlyphs" font-family="Liberation Sans, Arial, sans-serif">correlation</text><text x="173.02" y="1312.6" font-size="30.93" textLength="38.44" lengthAdjust="spacingAndGlyphs" font-family="Liberation Sans, Arial, sans-serif">0.5</text><text x="174.8" y="1370.4" font-size="31.51" textLength="39.2" lengthAdjust="spacingAndGlyphs" font-family="Liberation Sans, Arial, sans-serif">0.0</text><text x="169.63" y="1429.2" font-size="31.51" textLength="49.27" lengthAdjust="spacingAndGlyphs" font-family="Liberation Sans, Arial, sans-serif">-0.5</text><g filter="url(#bs)"><g transform="translate(264.3 1278.85) scale(3.79 6.53)"><path d="M48 21h2 2" fill="none" marker-start="url(#k0)" marker-mid="url(#k0)" marker-end="url(#k0)"/><path d="M49 20h2L49 22h2L52 23" fill="none" marker-start="url(#k1)" marker-mid="url(#k1)" marker-end="url(#k1)"/><path d="M50 19h2L47 20L46 21L47 22L48 23h2" fill="none" marker-start="url(#k2)" marker-mid="url(#k2)" marker-end="url(#k2)"/><path d="M48 19L45 22L46 23L47 24h2 2L48 25" fill="none" marker-start="url(#k3)" marker-mid="url(#k3)" marker-end="url(#k3)"/><path d="M49 18L46 19L45 20L44 21L44 23L45 24L46 25h4 2" fill="none" marker-start="url(#k4)" marker-mid="url(#k4)" marker-end="url(#k4)"/><path d="M47 18h4L44 19L43 22" fill="none" marker-start="url(#k5)" marker-mid="url(#k5)" marker-end="url(#k5)"/><path d="M1 0h50L46 17h2L45 18L43 20L42 21L43 24L44 25" fill="none" marker-start="url(#k6)" marker-mid="url(#k6)" marker-end="url(#k6)"/><path d="M49 0L52 1L47 6h2L47 16L44 17L43 18L42 23" fill="none" marker-start="url(#k7)" marker-mid="url(#k7)" marker-end="url(#k7)"/><path d="M3 0L50 1L27 2h2 2L52 3L50 5h2L51 6L48 7h2L18 11h2 2L19 12h2L48 15h2L45 16h4L50 17L22 19h20L23 20h18L2 21h2 18 2 2L5 22h36L5 24L42 25" fill="none" marker-start="url(#k8)" marker-mid="url(#k8)" marker-end="url(#k8)"/><path d="M47 0L2 1h46L25 2h26L28 3h2 20L51 4L48 5L45 6L46 7h6L17 10h2 2 2 28L16 11h8 28L17 12h6L18 13h2 2L5 14h42 2 2L4 15h2 40 6L9 16h34 8L8 17h2 32L23 18h18L24 19L1 20h2 2 16 4L6 21h22L3 22h4L4 23h2L7 24h34L4 25h2" fill="none" marker-start="url(#k9)" marker-mid="url(#k9)" marker-end="url(#k9)"/><path d="M45 0L4 1h22 2 2 2 14L33 2h16L26 3h6L49 4L46 5L47 8h2 2L18 9h32 2L25 10h24L50 11L15 12h10 26L4 13h2 10 8 24 2 2L3 14h4 10 2 2 2 22L2 15h6 2 34L5 16h2 4 30L12 17h28 12L9 18h2 10 4L20 19h6 14L7 20h12 8L8 21h12 20L1 22h20 2 2 2 2L2 23h6 32L3 24L2 25h6 32" fill="none" marker-start="url(#k10)" marker-mid="url(#k10)" marker-end="url(#k10)"/><path d="M5 0h2 2 2 2 14 2 2 2 2 2 2 2 2L6 1h2 2 2 2 10 10 2 2 2 2 2L1 2h2 2 2 2 2 2 10 12 2 2 2 2 2 2L2 3h2 2 2 16 10 2 6 2 2 2L1 4h2 2 2 18 2 2 2 2 2 8 2 2L2 5h2 2 20 2 2 2 2 2 6 2L1 6h2 2 20 2 2 2 2 2 2 2 2 2L2 7h2 2 20 2 2 2 6 2 2 2L1 8h2 2 22 2 2 8 2 2 2L2 9h2 2 10 4 2 2 2 2 2 10 2 2 2 2L1 10h2 2 10 12 2 2 2 4 2 2 2 2 2L2 11h2 2 8 12 2 2 2 2 2 2 2 2 2 2 2L1 12h2 2 2 2 2 2 14 2 2 2 2 2 2 2 2 2 2 2L2 13h6 2 2 2 12 2 2 2 2 2 2 2 2 2 2L1 14h8 2 2 2 10 2 2 2 2 2 2 2 2 2L12 15h2 2 2 2 2 2 2 2 2 2 2 2 2 2 2L1 16h2 10 2 2 2 2 2 2 2 2 2 2 2 2 2L2 17h2 2 8 2 2 2 2 2 2 2 2 2 2 2 2L1 18h2 2 2 6 2 2 2 8 8 2 2L2 19h2 2 2 2 2 2 2 2 10 6 2 2L9 20h2 6 12 4 2 2 2L10 21h8 12 2 2 2 2L9 22h10 12 2 2 2 2L18 23h2 2 2 2 2 2 2 2 2 2L1 24h8 14 2 2 2 2 2 2 2 2L10 25h2 2 8 2 2 2 2 2 2 2 2" fill="none" marker-start="url(#k11)" marker-mid="url(#k11)" marker-end="url(#k11)"/><path d="M15 0h10L16 1h6L15 2h6L10 3h2 10 16 2L9 4h14 14 4L8 5h16 14 2L7 6h14 2L8 7h10 2 2 2 10 2L7 8h10 2 2 4 8 4L8 9h6 18 6L7 10h4 2 22L8 11h2 2L29 18h2 2L30 19h2L13 20h2 16L12 21h4L11 22h6L10 23L11 24h10" fill="none" marker-start="url(#k12)" marker-mid="url(#k12)" marker-end="url(#k12)"/><path d="M17 0h2 2 2L18 1h2L17 2h2L14 3h2 4L11 4h10 18L10 5h10 2L9 6h2 6 2L10 7h2 4L9 8h2 2 2 8L10 9h2 22 2L9 10L14 21L13 24h4 2L16 25h4" fill="none" marker-start="url(#k13)" marker-mid="url(#k13)" marker-end="url(#k13)"/><path d="M18 3L13 4h6L12 5h4 2L13 6h2L14 7L35 8L13 22h2L12 23h4L15 24" fill="none" marker-start="url(#k14)" marker-mid="url(#k14)" marker-end="url(#k14)"/><path d="M15 4h2L14 5L18 25" fill="none" marker-start="url(#k15)" marker-mid="url(#k15)" marker-end="url(#k15)"/><path d="M14 23" fill="none" marker-start="url(#k16)" marker-mid="url(#k16)" marker-end="url(#k16)"/></g></g><text x="306.39" y="1258" font-size="31.47" textLength="97.27" lengthAdjust="spacingAndGlyphs" font-family="Liberation Sans, Arial, sans-serif">Kidney</text><g filter="url(#bs)"><g transform="translate(514 1278.85) scale(3.79 6.53)"><path d="M40 23" fill="none" marker-start="url(#k3)" marker-mid="url(#k3)" marker-end="url(#k3)"/><path d="M47 20L44 21h2 2L43 22h2L42 23h2" fill="none" marker-start="url(#k4)" marker-mid="url(#k4)" marker-end="url(#k4)"/><path d="M45 20L42 21L39 22h2 6 2L46 23L43 24h2" fill="none" marker-start="url(#k5)" marker-mid="url(#k5)" marker-end="url(#k5)"/><path d="M46 19h2L43 20h6L22 21h28L51 22L10 23h2 2 24 10 2 2L41 24h6 2L44 25h2 2" fill="none" marker-start="url(#k6)" marker-mid="url(#k6)" marker-end="url(#k6)"/><path d="M47 6L48 7L12 11h2L11 14h2L12 15h2L13 16h30L44 17L43 18h2L44 19L23 20h18L24 21h16L13 22L16 23L51 24L50 25" fill="none" marker-start="url(#k7)" marker-mid="url(#k7)" marker-end="url(#k7)"/><path d="M31 4L49 6L46 7L47 8L11 10h2L10 11L9 12h2 2L10 13h2 2 8 2 2 18L9 14h6 8 2 2 2 12 2L10 15h12 2 4 2 10 2 2L9 16h2 4 6 2 8 14L10 17h2 2 2 2 2 2 8 2 2 8L9 18h2 2 2 2 2 2 2 6 2 2 2 6 6L6 19h2 2 2 2 2 2 2 2 2 2 2 2 2 2 2 2 2 2 8L13 20h8 4 2 8 2 2 12L14 21h12 10 2 14L11 22h4 6 2 14L8 23h10 2 2L39 24L42 25h10" fill="none" marker-start="url(#k8)" marker-mid="url(#k8)" marker-end="url(#k8)"/><path d="M47 0h2L29 4L48 5L39 6h2 4L40 7h10L49 8L48 9L1 10h8 6 20 2 2L2 11h6 8 18 2 2 2L15 12h6 2 2 2 16L8 13h8 12 14L21 14h10 8 6L8 15h8 4 6 6 6L17 16h2 6 4 4 2 2 4L8 17h16 12 10L5 18h2 18 2 10 2 10L4 19L11 20h4 2 2 10 4L12 21h4 4 8 6L9 22h8 2 6L24 23h12L9 24h2L30 25" fill="none" marker-start="url(#k9)" marker-mid="url(#k9)" marker-end="url(#k9)"/><path d="M45 0h6L46 1h2L33 4L30 5h2 6 2 6L37 6h14L38 7h4 2L45 8h6L2 9h32 2 2 2 6 4L3 10h4 10 16 8L4 11h2 16 2 2 2 4 10 2L1 12h6 10 2 10 6 2 2 2 4L6 13h14 10 2 6 2 6L7 14h10 2 14 4 10L6 15h12 16 2 10L7 16h20 12 8L6 17h20 2 10 2 8L3 18h48L2 19L3 20h2 2 2 22L10 21h22L7 22h20 2 4 2L6 23L7 24h6 2 2 2 2 2 8L40 25" fill="none" marker-start="url(#k10)" marker-mid="url(#k10)" marker-end="url(#k10)"/><path d="M1 0h2 2 22 12 2 2L2 1h2 2 32 2 2 2 6L1 2h2 2 2 2 30 2 2 2 2 2L2 3h2 2 2 2 18 2 2 2 2 2 2 2 2 2 2L1 4h2 2 2 2 2 2 14 8 2 2 2 2 2 2L2 5h2 2 22 6 2 6 2 6L1 6h2 2 26 2 2 8L2 7h2 2 24 2 2 2 16L1 8h2 2 2 20 2 2 2 2 2 2 2 2L4 9h2 2 2 2 2 12 2 2 2 10 2 8L5 10h14 2 2 2 2 2 2 12 2 2 2 2L18 11h2 10 16 2 2 2L3 12h2 26 2 14 2 2L2 13h2 14 16 2 12 2 2L1 14h2 2 30 14 2L2 15h2 44 2 2L1 16h2 2 44 2L2 17h2 46 2L1 18L52 19L1 20L2 21h2 2 2 10 12L1 22h2 2 26L2 23h2 22 2 2 2 2L1 24h2 2 20 4 8L2 25h2 2 2 2 8 2 2 6 4" fill="none" marker-start="url(#k11)" marker-mid="url(#k11)" marker-end="url(#k11)"/><path d="M7 0h18 4 8L8 1h2 16 2 2 6 16L11 2h18 2 2 2 2 14L12 3h2 12 24L15 4h10 24L8 5h2 2 2 12 26L7 6h22L8 7h20L9 8h2 14L16 9h2 2 2 2L27 24h6L24 25" fill="none" marker-start="url(#k12)" marker-mid="url(#k12)" marker-end="url(#k12)"/><path d="M9 0h2 2 2 2 2 2 2 8 2 2L12 1h2 2 2 2 4 8 2L13 2h2 2 2 8L16 3h2 6 28L17 4h2 2 2 28L16 5h8L9 6h2 2 2 12L10 7h2 2 12L13 8h2 2 2 2 2L12 25h4 10 12" fill="none" marker-start="url(#k13)" marker-mid="url(#k13)" marker-end="url(#k13)"/><path d="M22 1L21 2h4L20 3h2L18 5h2 2L17 6h8L16 7h2 6L35 24" fill="none" marker-start="url(#k14)" marker-mid="url(#k14)" marker-end="url(#k14)"/><path d="M23 2L19 6h2 2L20 7h2L14 25h20" fill="none" marker-start="url(#k15)" marker-mid="url(#k15)" marker-end="url(#k15)"/><path d="M36 25" fill="none" marker-start="url(#k16)" marker-mid="url(#k16)" marker-end="url(#k16)"/></g></g><text x="570.06" y="1262.3" font-size="30.09" textLength="69.88" lengthAdjust="spacingAndGlyphs" font-family="Liberation Sans, Arial, sans-serif">Liver</text><g filter="url(#bs)"><g transform="translate(767.5 1278.85) scale(3.79 6.53)"><path d="M52 21L48 23" fill="none" marker-start="url(#k6)" marker-mid="url(#k6)" marker-end="url(#k6)"/><path d="M51 20L50 21L49 22h2L50 23L49 24" fill="none" marker-start="url(#k7)" marker-mid="url(#k7)" marker-end="url(#k7)"/><path d="M1 0h8L35 2L48 19h2 2L49 20L48 21L47 22L46 23h6L47 24h4L48 25h2 2" fill="none" marker-start="url(#k8)" marker-mid="url(#k8)" marker-end="url(#k8)"/><path d="M3 0h8L33 2h4L51 10L52 11L47 18h2 2L46 19L47 20L46 21L46 25" fill="none" marker-start="url(#k9)" marker-mid="url(#k9)" marker-end="url(#k9)"/><path d="M7 0h6L2 1h6 2 2 22 2L34 3h2L50 9h2L49 10L50 11L51 12L45 18L45 20L45 22L44 23L45 24" fill="none" marker-start="url(#k10)" marker-mid="url(#k10)" marker-end="url(#k10)"/><path d="M5 0h10 2 2 2 2 2 2 2 2 2 2 2 2 2 2 2 2 2 2L4 1h2 8 2 2 2 2 2 2 2 2 2 6 2 2 2 2 2 2 2L1 2h2 2 2 2 2 2 2 2 2 2 2 2 2 2 2 8 2 2 2 2 2 2L2 3h2 2 2 2 2 2 2 2 2 2 2 2 2 2 2 6 2 2 2 2 2 2 2L1 4h2 2 2 2 2 2 2 2 2 2 2 2 2 2 2 2 2 2 2 2 2 2 2 2 2L2 5h2 2 2 2 2 2 2 2 6 2 2 2 2 2 2 2 2 2 2 2 2 2 2L1 6h2 2 2 2 2 2 2 12 2 2 2 2 2 2 2 2 2 2 2 2L2 7h2 2 2 2 2 2 2 12 2 2 2 2 2 2 2 2 2 2 2 2L1 8h2 2 2 2 2 2 2 2 12 2 2 2 2 2 2 2 2 2 2 2L2 9h2 2 2 2 2 2 2 2 12 2 2 2 2 2 2 2 2 2L1 10h2 2 2 2 2 2 2 2 2 2 12 2 2 2 2 2 2 2L2 11h2 2 2 2 2 2 2 2 2 2 2 10 2 2 2 2 2 2 2L1 12h2 2 2 2 2 2 2 2 2 2 2 2 2 2 2 2 2 2 2 2 2 2 2 2L2 13h2 2 2 2 2 2 2 2 2 2 2 2 2 2 2 2 2 2 2 2 2 2 2 2 2L1 14h2 2 2 2 2 2 2 2 2 2 2 2 2 2 2 2 2 2 2 2 2 2 2 2 2L2 15h2 2 2 2 2 2 2 2 2 2 2 2 2 2 2 2 2 2 2 2 2 2 2 2 2L1 16h2 2 2 2 2 2 2 2 2 2 2 2 2 2 2 2 2 2 2 2 2 2 2 2 2L2 17h2 2 2 2 2 2 2 2 2 2 2 2 2 2 2 2 2 2 2 2 2 2 2 2 2L1 18h2 2 2 2 2 2 2 2 2 2 2 2 2 2 2 2 2 2 2 2 2L2 19h2 2 2 2 2 2 2 2 2 2 2 2 2 2 2 2 2 2 2 2 2L1 20h2 2 2 2 2 2 2 2 2 2 2 2 2 2 2 2 2 2 2 2 2L2 21h2 2 2 2 2 2 2 2 2 2 2 2 2 2 2 2 2 2 2 2 2L1 22h2 2 2 2 2 2 2 2 2 2 2 2 2 2 2 2 2 2 2 2 2L2 23h2 2 2 2 2 2 2 2 2 2 2 2 2 2 2 2 2 2 2 2L1 24h2 2 2 2 2 2 2 2 2 2 2 2 2 2 2 2 2 2 2 2 2L2 25h2 2 2 2 2 2 2 2 2 2 2 2 2 2 2 2 2 2 2 2 2" fill="none" marker-start="url(#k11)" marker-mid="url(#k11)" marker-end="url(#k11)"/><path d="M20 5h2L17 6h2 4 2L18 7h2 4 2L19 8h2 4 2L20 9h2 2 2 2L23 10h2 2 2 2L26 11h2 2 2" fill="none" marker-start="url(#k12)" marker-mid="url(#k12)" marker-end="url(#k12)"/><path d="M21 6L22 7L23 8" fill="none" marker-start="url(#k13)" marker-mid="url(#k13)" marker-end="url(#k13)"/></g></g><text x="790.54" y="1262.3" font-size="31.69" textLength="126.54" lengthAdjust="spacingAndGlyphs" font-family="Liberation Sans, Arial, sans-serif">Pancreas</text><path d="M232.9 1558.6V1730.2M225.9 1588.7H232.9M225.9 1644.7H232.9M225.9 1701.1H232.9" stroke="#000" stroke-width="2.2" fill="none"/><rect x="237.9" y="1558.8" width="15" height="9.25" fill="#3f86c0"/><rect x="237.9" y="1567.45" width="15" height="9.25" fill="#57a8bb"/><rect x="237.9" y="1576.1" width="15" height="9.25" fill="#78ccbb"/><rect x="237.9" y="1584.75" width="15" height="9.25" fill="#98dcb0"/><rect x="237.9" y="1593.4" width="15" height="9.25" fill="#b5e5a6"/><rect x="237.9" y="1602.05" width="15" height="9.25" fill="#d0eca0"/><rect x="237.9" y="1610.7" width="15" height="9.25" fill="#e6f29d"/><rect x="237.9" y="1619.35" width="15" height="9.25" fill="#f4f2a2"/><rect x="237.9" y="1628" width="15" height="9.25" fill="#fcf6bc"/><rect x="237.9" y="1636.65" width="15" height="9.25" fill="#fef7c2"/><rect x="237.9" y="1645.3" width="15" height="9.25" fill="#fef0ad"/><rect x="237.9" y="1653.95" width="15" height="9.25" fill="#fee596"/><rect x="237.9" y="1662.6" width="15" height="9.25" fill="#fdd683"/><rect x="237.9" y="1671.25" width="15" height="9.25" fill="#fdc473"/><rect x="237.9" y="1679.9" width="15" height="9.25" fill="#fcb062"/><rect x="237.9" y="1688.55" width="15" height="9.25" fill="#f99b56"/><rect x="237.9" y="1697.2" width="15" height="9.25" fill="#f67f4b"/><rect x="237.9" y="1705.85" width="15" height="9.25" fill="#ef6645"/><rect x="237.9" y="1714.5" width="15" height="9.25" fill="#e4544a"/><rect x="237.9" y="1723.15" width="15" height="9.25" fill="#d53e4f"/><text transform="translate(111.7 1720.99) rotate(-90)" font-size="32.37" textLength="141.38" lengthAdjust="spacingAndGlyphs" font-family="Liberation Sans, Arial, sans-serif">Spearman</text><text transform="translate(151.9 1722.68) rotate(-90)" font-size="32.71" textLength="151.69" lengthAdjust="spacingAndGlyphs" font-family="Liberation Sans, Arial, sans-serif">correlation</text><text x="173.02" y="1597.2" font-size="30.93" textLength="38.44" lengthAdjust="spacingAndGlyphs" font-family="Liberation Sans, Arial, sans-serif">0.5</text><text x="174.8" y="1655" font-size="31.51" textLength="39.2" lengthAdjust="spacingAndGlyphs" font-family="Liberation Sans, Arial, sans-serif">0.0</text><text x="169.63" y="1713.8" font-size="31.51" textLength="49.27" lengthAdjust="spacingAndGlyphs" font-family="Liberation Sans, Arial, sans-serif">-0.5</text><g filter="url(#bs)"><g transform="translate(264.3 1563.65) scale(3.79 6.53)"><path d="M48 19L48 23" fill="none" marker-start="url(#k4)" marker-mid="url(#k4)" marker-end="url(#k4)"/><path d="M47 18L46 19L47 20L47 22L46 23" fill="none" marker-start="url(#k5)" marker-mid="url(#k5)" marker-end="url(#k5)"/><path d="M45 20L44 21h2 2L45 22h4L47 24" fill="none" marker-start="url(#k6)" marker-mid="url(#k6)" marker-end="url(#k6)"/><path d="M22 17h26L45 18h4L44 19h6L43 20h6L44 23h6L5 24h40 4L4 25h2" fill="none" marker-start="url(#k7)" marker-mid="url(#k7)" marker-end="url(#k7)"/><path d="M39 0L38 1h2L35 2h2 2 2 2L42 3h2L43 4L44 5L43 6h2 2L23 8h2L22 9h2L19 10h2 2L20 11h2L23 12h2L23 16L44 17h2L43 18L42 21L43 22L6 23L43 24L44 25h2 2" fill="none" marker-start="url(#k8)" marker-mid="url(#k8)" marker-end="url(#k8)"/><path d="M41 0L36 1h6L33 2h12L36 3h2 2L45 4L42 5h4L49 6L42 7h2 2 2L21 8h6 12 2L20 9h6 14L1 10h2 2 12L2 11h2 2 12 6L21 12h6 20 2L22 13h2 2 22L51 14L50 15h2L21 16h22 2 2 2L20 17h4 18 8L9 18L8 19h2 32L41 20L50 21L5 22h36 10L4 23h38L3 24h4L8 25h34" fill="none" marker-start="url(#k9)" marker-mid="url(#k9)" marker-end="url(#k9)"/><path d="M37 0L34 1h10 2L47 2L34 3h12L41 4h6L40 5h8 2L41 6h10L20 7h2 2 2 2 10 2 10L19 8h10 8 6L2 9h2 2 10 2 10 10 4L7 10h8 10 2 12L8 11h8 10 2 20L1 12h2 2 12 2 10 16 6L20 13h8 18 4 2L21 14h2 2 2 20 2L22 15h2 20 2 2L19 16h6 16 10L40 17L7 18h4 10 2 2 16 10L12 19h28L9 20h2 40L40 21L3 22h4L2 23h6 32L41 24h10L2 25h38 10" fill="none" marker-start="url(#k10)" marker-mid="url(#k10)" marker-end="url(#k10)"/><path d="M1 0h2 2 2 2 2 2 2 2 2 2 2 2 2 2 2 2 2 8 2 2 2 2L2 1h2 2 2 2 2 2 2 2 2 2 2 2 2 2 2 16 2 2L1 2h2 2 2 2 2 2 2 2 2 2 2 2 2 2 2 18 2L2 3h2 2 2 2 2 2 2 2 2 2 2 2 2 2 2 16 2 2L1 4h2 2 2 2 2 2 2 2 2 2 2 2 2 2 2 2 2 2 2 10 2L2 5h2 2 2 2 2 2 2 2 2 2 2 2 2 2 2 2 2 2 14L1 6h2 2 2 2 2 2 2 2 2 2 2 2 2 2 2 2 2 2 2L2 7h2 2 2 2 2 2 2 2 12 2 2 2 16L1 8h2 2 2 2 2 2 2 2 14 2 2 10 2 2 2L8 9h2 2 2 16 2 2 2 8 2 2 2 2L9 10h2 2 16 2 2 2 2 4 2 2 2 2 2L10 11h2 2 16 2 2 2 2 2 2 2 2 4 2L7 12h2 2 2 2 16 2 2 2 2 2 2L2 13h2 2 2 2 2 2 2 2 12 2 2 2 2 2 2 2L1 14h2 2 2 2 2 2 2 2 2 10 2 2 2 2 2 2 2 2L2 15h2 2 2 2 2 2 2 2 2 6 2 2 2 2 2 2 2 2L1 16h2 2 2 2 2 2 2 2 10 2 2 2 2 2 2L2 17h2 2 2 2 2 2 2 2 8 2 2 2 2 2 2 14L1 18h2 2 8 2 2 2 8 2 2 2 2 2 2L2 19h2 2 8 2 2 2 2 2 2 2 2 2 2 2 2 14L1 20h2 2 2 6 2 2 2 2 2 2 2 2 2 2 2 2 2L2 21h2 2 2 2 2 2 2 2 2 2 2 2 2 2 2 2 2 2 14L1 22h8 2 2 2 2 2 2 2 2 2 2 2 2 2 2 2L10 23h2 2 2 2 2 2 2 2 2 2 2 2 2 2 14L1 24h8 2 2 2 2 2 2 2 2 2 2 2 2 2 2 2L10 25h2 2 2 2 2 2 2 2 2 2 2 2 2 2 14" fill="none" marker-start="url(#k11)" marker-mid="url(#k11)" marker-end="url(#k11)"/></g></g><text x="305.34" y="1551.6" font-size="31.83" textLength="108.08" lengthAdjust="spacingAndGlyphs" font-family="Liberation Sans, Arial, sans-serif">Marrow</text><g filter="url(#bs)"><g transform="translate(514 1563.65) scale(3.79 6.53)"><path d="M36 17h2L37 18" fill="none" marker-start="url(#k0)" marker-mid="url(#k0)" marker-end="url(#k0)"/><path d="M48 9L38 11L23 14L38 15L37 16h2L40 17L35 18h4L42 19" fill="none" marker-start="url(#k2)" marker-mid="url(#k2)" marker-end="url(#k2)"/><path d="M43 8L46 9L45 10L40 11h2L39 12h2L24 13h2 2 12 2L27 14h2 2 2 8 2L28 15h2 2 2 2 4 2L29 16h2 2 2 6 2 2L32 17h2 8L33 18h8L34 19h2 2 2L23 20h12 2L44 21" fill="none" marker-start="url(#k3)" marker-mid="url(#k3)" marker-end="url(#k3)"/><path d="M47 6h4L46 7L45 8L40 9h2 2L39 10h2 2 4L28 11h16 4 2L29 12h8 6 2 6L30 13h2 4 2 6 2L21 14h4 10 2 2 6L14 15h8 2 2 18 2L13 16h8 2 4L26 17h2 2 14L17 18h8 2 2 14 2L20 19h4 4 16L17 20h4 4 2 12 2 2L24 21h2 10 2L22 23L23 24h8L28 25" fill="none" marker-start="url(#k6)" marker-mid="url(#k6)" marker-end="url(#k6)"/><path d="M18 3L15 4h36L18 5h10 8 2 10 2 2L45 6h4L38 7h10 2 2L47 8h2 2L28 9h10 12 2L7 10h30 12 2L30 11h4 12 6L27 12h4 2 2 12 2L22 13h12 14L12 15h38L25 16h22L18 17h2 26L19 18h2L16 19h2 4 4 4 16L19 20h10 2 2 12L18 21h2 2 6 2 2 2 6 2 4L17 22h2 2 2 2 2 2 2 2 2 2 2L6 23h14 4 2 4 2 2 2 2 2L19 24h2 4 2 2 4 2 2 4L20 25h2 4 4 2 4 2" fill="none" marker-start="url(#k8)" marker-mid="url(#k8)" marker-end="url(#k8)"/><path d="M11 0h12 10 2 2 2 2 2 4 2 2L2 1h22 10 2 2 6 2 2 2 2L1 2h24 2 2 6 2 2 10 2L2 3h24 2 2 2 2 2 2 2 2 2 2 2 2 2L1 4h22 2 2 2 2 2 2 2 2 2 2 2 2 2L2 5h2 20 2 4 2 2 6 2 2 2L1 6h2 18 2 2 2 2 2 2 2 2 2 2 2L2 7h2 2 14 2 2 2 2 2 2 2 2 4 2 2L1 8h2 2 16 2 2 2 2 2 2 2 2 2 2L2 9h2 2 16 2 2 4 4 2L1 10h2 2 6 10 2 2 2 2 2 2 2L2 11h2 2 2 12 2 2 2 6 4L1 12h2 2 2 16 2L2 13h2 2 12 2 30 2L1 14h2 2 2 4 2 2 2 2 28 2 2L2 15h2 2 2 2 6 2 2 28 4L1 16h2 2 2 2 2 4 2 2 30 2L2 17h2 2 2 2 2 2 2 6 2 24 2L1 18h2 2 2 2 2 2 2 8 8 16 2L2 19h2 2 2 2 2 2 18 16L1 20h2 2 2 2 2 2 2 32 2L2 21h2 2 2 2 2 2 2 32L1 22h2 2 2 2 4 2 26 2L2 23h2 4 2 2 2 2 2 10 14 2 6 2L1 24h2 2 2 10 22 4 2 6L2 25h2 2 2 8 2 6 10 6 2 2" fill="none" marker-start="url(#k11)" marker-mid="url(#k11)" marker-end="url(#k11)"/><path d="M1 0" fill="none" marker-start="url(#k12)" marker-mid="url(#k12)" marker-end="url(#k12)"/><path d="M3 0h6 10 2 4 6 14L8 1h18 6 8 2L7 2h16L8 3h16L3 4h4L6 5h16L5 6h2 12L8 7L7 8L8 9h2 10 12L9 10L9 12h8 4L8 13h8L9 14L52 17L51 18L50 19h2L51 20L11 22h34 2 2 2L46 23h2L15 24h32 2L50 25h2" fill="none" marker-start="url(#k13)" marker-mid="url(#k13)" marker-end="url(#k13)"/><path d="M5 0h2 10 10 2L4 1h2 8 8 6 2L3 2h2 4 24 10 2 2L10 3h6L5 4h4 12L8 5h12L10 7h4 2 2L9 8h2 2 2L12 9h2 2 2L13 10h2 2L10 11h4 2 2L13 12h2 4L10 13h2 2L9 24h2L10 25h2 2" fill="none" marker-start="url(#k15)" marker-mid="url(#k15)" marker-end="url(#k15)"/><path d="M13 0L10 1h2 4 2 2L11 2h2 2 2 4 10 10L6 3h6 2 6 2L11 4h2 4 2L12 5h2L9 6h4 2L12 7L19 10L12 11L11 12L50 21h2L13 24L48 25" fill="none" marker-start="url(#k16)" marker-mid="url(#k16)" marker-end="url(#k16)"/><path d="M15 0L19 2L4 3L11 6h6L17 8L46 25" fill="none" marker-start="url(#k17)" marker-mid="url(#k17)" marker-end="url(#k17)"/><path d="M10 5h6L19 8" fill="none" marker-start="url(#k18)" marker-mid="url(#k18)" marker-end="url(#k18)"/></g></g><text x="568.05" y="1546.5" font-size="31.51" textLength="73.28" lengthAdjust="spacingAndGlyphs" font-family="Liberation Sans, Arial, sans-serif">SCAT</text><path d="M1283.2 127V298.6M1276.2 157.1H1283.2M1276.2 213.1H1283.2M1276.2 269.5H1283.2" stroke="#000" stroke-width="2.2" fill="none"/><rect x="1288.2" y="127.2" width="15" height="9.25" fill="#3f86c0"/><rect x="1288.2" y="135.85" width="15" height="9.25" fill="#57a8bb"/><rect x="1288.2" y="144.5" width="15" height="9.25" fill="#78ccbb"/><rect x="1288.2" y="153.15" width="15" height="9.25" fill="#98dcb0"/><rect x="1288.2" y="161.8" width="15" height="9.25" fill="#b5e5a6"/><rect x="1288.2" y="170.45" width="15" height="9.25" fill="#d0eca0"/><rect x="1288.2" y="179.1" width="15" height="9.25" fill="#e6f29d"/><rect x="1288.2" y="187.75" width="15" height="9.25" fill="#f4f2a2"/><rect x="1288.2" y="196.4" width="15" height="9.25" fill="#fcf6bc"/><rect x="1288.2" y="205.05" width="15" height="9.25" fill="#fef7c2"/><rect x="1288.2" y="213.7" width="15" height="9.25" fill="#fef0ad"/><rect x="1288.2" y="222.35" width="15" height="9.25" fill="#fee596"/><rect x="1288.2" y="231" width="15" height="9.25" fill="#fdd683"/><rect x="1288.2" y="239.65" width="15" height="9.25" fill="#fdc473"/><rect x="1288.2" y="248.3" width="15" height="9.25" fill="#fcb062"/><rect x="1288.2" y="256.95" width="15" height="9.25" fill="#f99b56"/><rect x="1288.2" y="265.6" width="15" height="9.25" fill="#f67f4b"/><rect x="1288.2" y="274.25" width="15" height="9.25" fill="#ef6645"/><rect x="1288.2" y="282.9" width="15" height="9.25" fill="#e4544a"/><rect x="1288.2" y="291.55" width="15" height="9.25" fill="#d53e4f"/><text transform="translate(1162 289.39) rotate(-90)" font-size="32.37" textLength="141.38" lengthAdjust="spacingAndGlyphs" font-family="Liberation Sans, Arial, sans-serif">Spearman</text><text transform="translate(1202.2 291.08) rotate(-90)" font-size="32.71" textLength="151.69" lengthAdjust="spacingAndGlyphs" font-family="Liberation Sans, Arial, sans-serif">correlation</text><text x="1223.32" y="165.6" font-size="30.93" textLength="38.44" lengthAdjust="spacingAndGlyphs" font-family="Liberation Sans, Arial, sans-serif">0.5</text><text x="1225.1" y="223.4" font-size="31.51" textLength="39.2" lengthAdjust="spacingAndGlyphs" font-family="Liberation Sans, Arial, sans-serif">0.0</text><text x="1219.93" y="282.2" font-size="31.51" textLength="49.27" lengthAdjust="spacingAndGlyphs" font-family="Liberation Sans, Arial, sans-serif">-0.5</text><g filter="url(#bs)"><g transform="translate(1317.7 129.15) scale(3.79 6.53)"><path d="M52 13" fill="none" marker-start="url(#k2)" marker-mid="url(#k2)" marker-end="url(#k2)"/><path d="M18 21h2 2 12 2L17 22h2 2 2 10 2L18 23h2 2 2 2 2 2 2 2" fill="none" marker-start="url(#k9)" marker-mid="url(#k9)" marker-end="url(#k9)"/><path d="M17 20h2 2 2 10 2 2L16 21h8 8 6L15 22h10 2 2 2 6L16 23h20 2L17 24h2 2 2 2 2 2 2 2 2 2" fill="none" marker-start="url(#k10)" marker-mid="url(#k10)" marker-end="url(#k10)"/><path d="M1 0h2 2 2 2 2 2 2 2 2 2 2 2 2 2 2 2 2 2 2 2 2 2 2 2 2L2 1h2 2 2 2 2 2 2 2 2 2 2 2 2 2 2 2 2 2 2 2 2 2 2 2 2L1 2h2 2 2 2 2 2 2 2 2 2 2 2 2 2 2 2 2 2 2 2 2 2 2 2 2L2 3h2 2 2 2 2 2 2 2 2 2 2 2 2 2 2 2 2 2 2 2 2 2 2 2 2L1 4h2 2 2 2 2 2 2 2 2 2 2 2 2 2 2 2 2 2 2 2 2 2 2 2 2L2 5h2 2 2 2 2 2 2 2 2 2 2 2 2 2 2 2 2 2 2 2 2 2 2 2 2L1 6h2 2 2 2 2 2 2 2 2 2 2 2 2 2 2 2 2 2 2 2 2 2 2 2 2L2 7h2 2 2 2 2 2 2 2 2 2 2 2 2 2 2 2 2 2 2 2 2 2 2 2 2L1 8h2 2 2 2 2 2 2 2 2 2 2 2 2 2 2 2 2 2 2 2 2 2 2 2 2L2 9h2 2 2 2 2 2 2 2 2 2 2 2 2 2 2 2 2 2 2 2 2 2 2 2 2L1 10h2 2 2 2 2 2 2 2 2 2 2 2 2 2 2 2 2 2 2 2 2 2 2 2 2L2 11h2 2 2 2 2 2 2 2 2 2 2 2 2 2 2 2 2 2 2 2 2 2 2 2 2L5 12h2 2 2 2 2 2 2 2 2 2 2 2 2 2 2 2 2 2 2 2 2 2 2L6 13h2 2 2 2 2 2 2 2 2 2 2 2 2 2 2 2 2 2 2 2 2 2L7 14h2 2 2 2 2 2 2 2 2 2 2 2 2 2 2 2 2 2 2 2 2 2L8 15h2 2 2 2 2 2 2 2 2 2 2 2 2 2 2 2 2 2 2 2 2 2L5 16h2 2 2 2 2 2 2 2 2 2 2 2 2 2 2 2 2 2 2 2 2 2 2L4 17h2 2 2 2 2 2 2 2 2 2 2 2 2 2 2 2 2 2 2 2 2 2 2 2L1 18h2 2 2 2 2 2 2 2 2 2 2 2 2 2 2 2 2 2 2 2 2 2 2 2 2L2 19h2 2 2 2 2 2 2 2 2 2 2 2 2 2 2 2 2 2 2 2 2 2 2 2 2L1 20h2 2 2 2 2 2 2 10 2 2 2 8 2 2 2 2 2 2L2 21h2 2 2 2 2 2 12 2 2 10 2 2 2 2 2 2L1 22h2 2 2 2 2 2 26 2 2 2 2 2 2L2 23h2 2 2 2 2 2 26 2 2 2 2 2 2L1 24h2 2 2 2 2 2 2 24 2 2 2 2 2 2L2 25h2 2 2 2 2 2 2 2 2 2 2 2 2 2 2 2 2 2 2 2 2 2 2 2 2" fill="none" marker-start="url(#k11)" marker-mid="url(#k11)" marker-end="url(#k11)"/><path d="M3 12L4 13L3 14h2L4 15h2L1 16h2L2 17" fill="none" marker-start="url(#k12)" marker-mid="url(#k12)" marker-end="url(#k12)"/><path d="M1 12L2 13L2 15" fill="none" marker-start="url(#k13)" marker-mid="url(#k13)" marker-end="url(#k13)"/><path d="M1 14" fill="none" marker-start="url(#k18)" marker-mid="url(#k18)" marker-end="url(#k18)"/></g></g><text x="1368.46" y="113.4" font-size="30.91" textLength="75.13" lengthAdjust="spacingAndGlyphs" font-family="Liberation Sans, Arial, sans-serif">Brain</text><g filter="url(#bs)"><g transform="translate(1576 129.15) scale(3.79 6.53)"><path d="M50 13" fill="none" marker-start="url(#k0)" marker-mid="url(#k0)" marker-end="url(#k0)"/><path d="M29 12L43 14h8L48 15h2" fill="none" marker-start="url(#k2)" marker-mid="url(#k2)" marker-end="url(#k2)"/><path d="M38 5h2L44 11L25 12h18L42 13h2L39 14h2 4 2L40 15h2 2L39 16h4 2 6L47 20L6 21L5 22" fill="none" marker-start="url(#k3)" marker-mid="url(#k3)" marker-end="url(#k3)"/><path d="M39 0h2 2 4 2L30 5h12L23 6h14 2L38 7h6L7 8L38 9h6 2L25 10h20L26 11h2 14 4 2L27 12h4 8 2 4 4L28 13h2 6 2 2 6L27 14h2 8 12L28 15h8 2 8 6L31 16h6 4 6 2L38 17h2 6L39 18h2L50 19h2L9 20L30 23L1 24h2 2 24L6 25" fill="none" marker-start="url(#k6)" marker-mid="url(#k6)" marker-end="url(#k6)"/><path d="M52 1L32 3h6 2L29 4h2 6 2 2L36 5L5 6h16 14 6 2 6L22 7h12 2 4 2L5 8h26 4 8 2L34 9h14L27 10h8 6 2 4L24 11h6 2 6 2 10L23 12h14 10 4L26 13h6 16 4L31 14L30 15L27 16h2L28 17h8 6 2 4 2L1 18h26 16 2 2 2L38 19h2 6 2L1 20h38 2 2 2 4 2L40 21h6 2 2L1 22h6 12 12L2 23h2 2 4 18L7 24h2 10L2 25h2" fill="none" marker-start="url(#k8)" marker-mid="url(#k8)" marker-end="url(#k8)"/><path d="M7 0h2 2 2 2 2 2 2 2 8 2 2 2 8 6L6 1h2 2 2 2 2 4 2 6 2 2 2 2 2 2 2 2 2 2L1 2h2 2 2 2 2 10 4 2 2 2 2 2 2 2 2 2 2 2 2 2L2 3h2 2 2 2 2 8 2 2 2 2 2 4 2 6 2 2 4 2L1 4h2 2 2 2 2 8 2 2 2 2 6 2 8 2 2 2 2L2 5h2 2 2 10 2 2 2 2 2 4 2 10 2 2 2 2L1 6h2 4 2 6 2 2 6 2 2 2 2 12 2 4L2 7h2 2 2 2 2 4 2 2 4 2 2 2 2 14 2 2 2L1 8h2 6 2 2 2 2 2 2 2 2 4 4 4 2 2 6 2 2L2 9h2 2 2 2 4 2 2 2 2 2 2 2 2 2 4 4 2 8 2L23 10h6 2 2 4 2 10 2L22 11h12 2 16L21 12h12 2L18 13h2 2 2 10L5 14h2 12 2 2 2 8 2L4 15h2 2 12 2 2 2 6 2L3 16h2 16 2 2 8 2L2 17h2 2 2 12 2 2 2 4 2 2 18L3 18h2 2 2 2 10 2 2 4 2 2 2 2 14L2 19h2 2 2 2 2 4 2 2 2 2 2 2 2 2 2 2 6 2L3 20h2 2 4 2 2 2 2 2 2 2 2 2 2 2 2 2L2 21h2 4 2 2 2 2 2 2 2 2 2 2 2 2 2 2 2 4 2 8L3 22h6 2 2 2 2 4 2 2 2 2 4 2 2 2 2 2 2 2 2 2L8 23h4 2 2 2 2 2 2 2 6 2 2 2 6 2 2 2 2L11 24h2 2 2 4 2 2 2 4 2 2 2 8 2 2 2L8 25h2 2 2 2 2 2 2 2 2 2 2 2 2 2 2 6 2 2 2 2" fill="none" marker-start="url(#k11)" marker-mid="url(#k11)" marker-end="url(#k11)"/><path d="M1 0h4 22 2L2 1h2 14 6 2 24L13 2h10L13 4L10 5h6L13 6L27 8L7 10h2 2 2L8 11h2 4 6L9 12h2L8 13h4 2 2L3 14h6L1 16h6 2L10 17L19 18L40 23h2L39 24h4" fill="none" marker-start="url(#k13)" marker-mid="url(#k13)" marker-end="url(#k13)"/><path d="M3 0h22L15 2h2 2L14 3h2 2L15 4h2L12 5L3 10h2 10 2 4L16 11h2L1 12h6 10L2 13h4 4L11 14h4 2L41 24L40 25h2" fill="none" marker-start="url(#k15)" marker-mid="url(#k15)" marker-end="url(#k15)"/><path d="M48 3L11 6L12 9L19 10L4 11h2 6L3 12h2 8L4 13L13 14L2 15h10 2 2 2L11 16h4 4L12 17h2 2 2L15 18h2L14 19" fill="none" marker-start="url(#k16)" marker-mid="url(#k16)" marker-end="url(#k16)"/><path d="M19 12L10 15L13 16h4" fill="none" marker-start="url(#k17)" marker-mid="url(#k17)" marker-end="url(#k17)"/><path d="M14 5L14 7L1 10L2 11L15 12L1 14L13 18" fill="none" marker-start="url(#k18)" marker-mid="url(#k18)" marker-end="url(#k18)"/></g></g><text x="1636.34" y="113.4" font-size="32.08" textLength="59.83" lengthAdjust="spacingAndGlyphs" font-family="Liberation Sans, Arial, sans-serif">GAT</text><g filter="url(#bs)"><g transform="translate(1832.5 129.15) scale(3.79 6.53)"><path d="M52 13" fill="none" marker-start="url(#k2)" marker-mid="url(#k2)" marker-end="url(#k2)"/><path d="M18 15L47 18" fill="none" marker-start="url(#k3)" marker-mid="url(#k3)" marker-end="url(#k3)"/><path d="M48 17L48 19" fill="none" marker-start="url(#k6)" marker-mid="url(#k6)" marker-end="url(#k6)"/><path d="M46 17h4L49 18" fill="none" marker-start="url(#k7)" marker-mid="url(#k7)" marker-end="url(#k7)"/><path d="M52 11L45 16h2 2L44 17h8L51 18L46 19h4L45 20h2 2 2L44 21h2 2 2 2L43 22h8L44 23h8" fill="none" marker-start="url(#k8)" marker-mid="url(#k8)" marker-end="url(#k8)"/><path d="M21 2h2L22 3L51 10L50 11L17 12h2 32L18 13L43 16h8L42 17L45 18L52 19L43 20L42 21L45 22h2 2L42 23h8L41 24L38 25h2" fill="none" marker-start="url(#k9)" marker-mid="url(#k9)" marker-end="url(#k9)"/><path d="M20 1h2 2L19 2h6L20 3h4L50 9h2L49 10L18 11L15 12h6 28L16 13h4 30L17 14h2 32L44 15h2 2 2 2L41 16L43 18L44 19L41 20L40 21L41 22L40 23h6L37 24h2 4 2 6L36 25h6" fill="none" marker-start="url(#k10)" marker-mid="url(#k10)" marker-end="url(#k10)"/><path d="M1 0h2 2 2 2 2 2 2 2 2 2 2 2 2 2 2 2 2 2 2 2 2 2 2 2 2L2 1h2 2 2 2 2 2 2 2 8 2 2 2 2 2 2 2 2 2 2 2 2 2L1 2h2 2 2 2 2 2 2 2 10 2 2 2 2 2 2 2 2 2 2 2 2L2 3h2 2 2 2 2 2 2 2 8 2 2 2 2 2 2 2 2 2 2 2 2 2L1 4h2 2 2 2 2 2 2 2 2 2 2 2 2 2 2 2 2 2 2 2 2 2 2 2 2L2 5h2 2 2 2 2 2 2 2 2 2 2 2 2 2 2 2 2 2 2 2 2 2 2 2 2L1 6h2 2 2 2 2 2 2 2 2 2 2 2 2 2 2 2 2 2 2 2 2 2 2 2 2L2 7h2 2 2 2 2 2 2 2 2 2 2 2 2 2 2 2 2 2 2 2 2 2 2 2 2L1 8h2 2 2 2 2 2 2 2 2 2 2 2 2 2 2 2 2 2 2 2 2 2 2 2 2L2 9h2 2 2 2 2 2 2 2 2 2 2 2 2 2 2 2 2 2 2 2 2 2 2L1 10h2 2 2 2 2 2 2 2 2 2 2 2 2 2 2 2 2 2 2 2 2 2 2L2 11h2 2 2 2 2 2 2 4 2 2 2 2 2 2 2 2 2 2 2 2 2 2L5 12h2 2 2 2 10 2 2 2 2 2 2 2 2 2 2 2 2L6 13h2 2 2 2 8 2 2 2 2 2 2 2 2 2 2 2 2 2L5 14h2 2 2 2 2 6 2 2 2 2 2 2 2 2 2 2 2 2 2 2L6 15h2 2 2 2 2 4 2 2 2 2 2 2 2 2 2 2 2L5 16h2 2 2 2 2 2 2 2 2 2 2 2 2 2 2 2 2L4 17h2 2 2 2 2 2 2 2 2 2 2 2 2 2 2 2 2 2L1 18h2 2 2 2 2 2 2 2 2 2 2 2 2 2 2 2 2 2 2 2L2 19h2 2 2 2 2 2 2 2 2 2 2 2 2 2 2 2 2 2 2 2L1 20h2 2 2 2 2 2 2 2 2 2 2 2 2 2 2 2 2 2 2L2 21h2 2 2 2 2 2 2 2 2 2 2 2 2 2 2 2 2 2L1 22h2 2 2 2 2 2 2 2 2 2 2 2 2 2 2 2 2 2 2L2 23h2 2 2 2 2 2 2 2 2 2 2 2 2 2 2 2 2 2 10L1 24h2 2 2 2 2 2 2 2 2 2 2 2 2 2 2 2 2 12 2L2 25h2 2 2 2 2 2 2 2 2 2 2 2 2 2 2 2 10 2 2 2 2" fill="none" marker-start="url(#k11)" marker-mid="url(#k11)" marker-end="url(#k11)"/><path d="M3 12L4 13L3 14L2 15h2L1 16h2L2 17" fill="none" marker-start="url(#k12)" marker-mid="url(#k12)" marker-end="url(#k12)"/><path d="M1 12L2 13" fill="none" marker-start="url(#k13)" marker-mid="url(#k13)" marker-end="url(#k13)"/><path d="M1 14" fill="none" marker-start="url(#k18)" marker-mid="url(#k18)" marker-end="url(#k18)"/></g></g><text x="1889.02" y="113.4" font-size="32.56" textLength="75.36" lengthAdjust="spacingAndGlyphs" font-family="Liberation Sans, Arial, sans-serif">Lung</text><path d="M1283.2 406V577.6M1276.2 436.1H1283.2M1276.2 492.1H1283.2M1276.2 548.5H1283.2" stroke="#000" stroke-width="2.2" fill="none"/><rect x="1288.2" y="406.2" width="15" height="9.25" fill="#3f86c0"/><rect x="1288.2" y="414.85" width="15" height="9.25" fill="#57a8bb"/><rect x="1288.2" y="423.5" width="15" height="9.25" fill="#78ccbb"/><rect x="1288.2" y="432.15" width="15" height="9.25" fill="#98dcb0"/><rect x="1288.2" y="440.8" width="15" height="9.25" fill="#b5e5a6"/><rect x="1288.2" y="449.45" width="15" height="9.25" fill="#d0eca0"/><rect x="1288.2" y="458.1" width="15" height="9.25" fill="#e6f29d"/><rect x="1288.2" y="466.75" width="15" height="9.25" fill="#f4f2a2"/><rect x="1288.2" y="475.4" width="15" height="9.25" fill="#fcf6bc"/><rect x="1288.2" y="484.05" width="15" height="9.25" fill="#fef7c2"/><rect x="1288.2" y="492.7" width="15" height="9.25" fill="#fef0ad"/><rect x="1288.2" y="501.35" width="15" height="9.25" fill="#fee596"/><rect x="1288.2" y="510" width="15" height="9.25" fill="#fdd683"/><rect x="1288.2" y="518.65" width="15" height="9.25" fill="#fdc473"/><rect x="1288.2" y="527.3" width="15" height="9.25" fill="#fcb062"/><rect x="1288.2" y="535.95" width="15" height="9.25" fill="#f99b56"/><rect x="1288.2" y="544.6" width="15" height="9.25" fill="#f67f4b"/><rect x="1288.2" y="553.25" width="15" height="9.25" fill="#ef6645"/><rect x="1288.2" y="561.9" width="15" height="9.25" fill="#e4544a"/><rect x="1288.2" y="570.55" width="15" height="9.25" fill="#d53e4f"/><text transform="translate(1162 568.39) rotate(-90)" font-size="32.37" textLength="141.38" lengthAdjust="spacingAndGlyphs" font-family="Liberation Sans, Arial, sans-serif">Spearman</text><text transform="translate(1202.2 570.08) rotate(-90)" font-size="32.71" textLength="151.69" lengthAdjust="spacingAndGlyphs" font-family="Liberation Sans, Arial, sans-serif">correlation</text><text x="1223.32" y="444.6" font-size="30.93" textLength="38.44" lengthAdjust="spacingAndGlyphs" font-family="Liberation Sans, Arial, sans-serif">0.5</text><text x="1225.1" y="502.4" font-size="31.51" textLength="39.2" lengthAdjust="spacingAndGlyphs" font-family="Liberation Sans, Arial, sans-serif">0.0</text><text x="1219.93" y="561.2" font-size="31.51" textLength="49.27" lengthAdjust="spacingAndGlyphs" font-family="Liberation Sans, Arial, sans-serif">-0.5</text><g filter="url(#bs)"><g transform="translate(1317.7 415.95) scale(3.79 6.53)"><path d="M47 18" fill="none" marker-start="url(#k3)" marker-mid="url(#k3)" marker-end="url(#k3)"/><path d="M48 17" fill="none" marker-start="url(#k5)" marker-mid="url(#k5)" marker-end="url(#k5)"/><path d="M39 8h2L12 19L8 23" fill="none" marker-start="url(#k6)" marker-mid="url(#k6)" marker-end="url(#k6)"/><path d="M23 4L39 6L38 7h2L43 8L25 14h2L26 15L47 16h2L46 17" fill="none" marker-start="url(#k7)" marker-mid="url(#k7)" marker-end="url(#k7)"/><path d="M27 0h16L39 2L21 4L22 5L41 6L42 7L1 8h44L40 9h2 2L26 13L23 14L24 15h4L50 17L10 23" fill="none" marker-start="url(#k8)" marker-mid="url(#k8)" marker-end="url(#k8)"/><path d="M13 0h2 10 20L42 1L41 2L22 3L25 4L20 5h4 16L17 6h2 18L18 7h26L37 8L2 9h36L27 12L24 13h4L21 14h8L22 15h26L45 16L13 18h30 2 4L14 19h28 2" fill="none" marker-start="url(#k9)" marker-mid="url(#k9)" marker-end="url(#k9)"/><path d="M11 0h6 6 6 12 6L12 1h2 2 8 2 2 10 2 4 2L37 2L20 3h4 14 2 2L19 4L16 5h2 20 4L15 6h6 22L2 7h14 4 16 10L3 8h44L4 9h32 10L1 10h38 2 2 2L26 11h2L25 12h4L22 13h8L19 14L20 15h10 16 4L21 16h2 2 2 2 22L44 17L11 18h4 26 10L16 19h30L13 20h2 28 2L7 22h2 2L6 23h6L7 24h2 2" fill="none" marker-start="url(#k10)" marker-mid="url(#k10)" marker-end="url(#k10)"/><path d="M1 0h2 2 2 2 10 2 10 2 2 2 2 10 2L2 1h2 2 2 2 8 2 2 8 2 2 2 12 2 2L1 2h2 2 2 2 2 2 2 2 2 2 2 2 2 2 2 2 2 8 2 2 2 2L2 3h2 2 2 2 2 2 2 2 8 2 2 2 2 2 8 2 2 2 2L1 4h2 2 2 2 2 2 2 2 10 2 2 2 2 2 2 2 2 2 2 2 2L2 5h2 2 2 2 2 2 12 2 2 2 2 2 8 2 2 2 2L1 6h2 2 2 2 2 2 10 2 2 2 2 2 2 10 2 2 2L4 7h2 2 2 2 2 8 2 2 2 2 2 2 14 2 2L5 8h2 2 2 2 2 2 2 2 2 2 2 2 2 2 2 14 2L6 9h2 2 2 2 2 2 2 2 2 2 2 2 2 2 14 2 2L3 10h2 2 2 2 2 2 2 2 2 2 2 2 2 2 2 2 2 10 2 2L4 11h2 2 2 2 2 2 2 2 2 2 6 2 2 2 2 2 2 2 2 2 2 2L5 12h2 2 2 2 2 2 2 2 2 8 2 2 2 2 2 2 2 2 2 2L6 13h2 2 2 2 2 2 2 12 2 2 2 2 2 2 2 2 2 2L5 14h2 2 2 2 2 2 14 2 2 2 2 2 2 2 2 2 2L2 15h2 2 2 2 2 2 2 2 14 2 2 2 2 2 2 8L1 16h2 2 2 2 2 2 2 2 2 12 2 2 2 2 2 2L2 17h2 2 2 2 2 2 2 2 2 2 2 2 2 2 2 2 2 2 2 2 10L1 18h2 2 2 2 8 2 2 2 2 2 2 2 2 2 2 2L2 19h2 2 2 2 8 2 2 2 2 2 2 2 2 2 2 2 8 2 2L1 20h2 2 2 2 2 6 2 2 2 2 2 2 4 2 2 2 2 6 2 2L2 21h2 2 2 2 2 2 2 2 2 2 2 2 2 6 2 2 2 2 2 2 2 2 2L1 22h2 2 8 2 2 2 2 2 2 2 2 2 2 2 2 2 2 2 2 2 2 2L2 23h2 10 2 2 2 2 2 2 2 2 2 2 2 2 2 2 2 2 2 2 2L1 24h2 2 8 2 2 2 2 2 2 2 2 2 2 2 2 2 2 2 2 2 2 2L2 25h2 2 2 2 2 2 2 2 2 2 2 2 2 6 2 2 2 2 2 2 2 2 2" fill="none" marker-start="url(#k11)" marker-mid="url(#k11)" marker-end="url(#k11)"/><path d="M2 11L4 13L3 14L31 20L30 21h2L30 25h2" fill="none" marker-start="url(#k12)" marker-mid="url(#k12)" marker-end="url(#k12)"/><path d="M3 12L2 13" fill="none" marker-start="url(#k13)" marker-mid="url(#k13)" marker-end="url(#k13)"/><path d="M1 12" fill="none" marker-start="url(#k14)" marker-mid="url(#k14)" marker-end="url(#k14)"/><path d="M1 14" fill="none" marker-start="url(#k15)" marker-mid="url(#k15)" marker-end="url(#k15)"/></g></g><text x="1358.98" y="405" font-size="31.94" textLength="65.29" lengthAdjust="spacingAndGlyphs" font-family="Liberation Sans, Arial, sans-serif">WBC</text><g filter="url(#bs)"><g transform="translate(1576 415.95) scale(3.79 6.53)"><path d="M52 13" fill="none" marker-start="url(#k3)" marker-mid="url(#k3)" marker-end="url(#k3)"/><path d="M9 2h2 2" fill="none" marker-start="url(#k8)" marker-mid="url(#k8)" marker-end="url(#k8)"/><path d="M15 2L10 3h2 2L25 4h2L26 5" fill="none" marker-start="url(#k9)" marker-mid="url(#k9)" marker-end="url(#k9)"/><path d="M8 1h2 2 2 2L7 2h10L8 3h8 8 2 2L29 4L24 5h4" fill="none" marker-start="url(#k10)" marker-mid="url(#k10)" marker-end="url(#k10)"/><path d="M1 0h2 2 2 2 2 2 2 2 2 2 2 2 2 2 2 2 2 2 2 2 2 2 2 2 2L2 1h2 2 12 2 2 2 2 2 2 2 2 2 2 2 2 2 2 2 2 2L1 2h2 2 14 2 2 2 2 2 2 2 2 2 2 2 2 2 2 2 2L2 3h2 2 12 2 2 8 2 2 2 2 2 2 2 2 2 2 2L1 4h2 2 2 2 2 2 2 2 2 2 2 8 2 2 2 2 2 2 2 2 2 2L2 5h2 2 2 2 2 2 2 2 2 2 8 2 2 2 2 2 2 2 2 2 2 2L1 6h2 2 2 2 2 2 2 2 2 2 2 2 2 2 2 2 2 2 2 2 2 2 2 2 2L2 7h2 2 2 2 2 2 2 2 2 2 2 2 2 2 2 2 2 2 2 2 2 2 2 2 2L1 8h2 2 2 2 2 2 2 2 2 2 2 2 2 2 2 2 2 2 2 2 2 2 2 2 2L2 9h2 2 2 2 2 2 2 2 2 2 2 2 2 2 2 2 2 2 2 2 2 2 2 2 2L1 10h2 2 2 2 2 2 2 2 2 2 2 2 2 2 2 2 2 2 2 2 2 2 2 2 2L2 11h2 2 2 2 2 2 2 2 2 2 2 2 2 2 2 2 2 2 2 2 2 2 2 2 2L5 12h2 2 2 2 2 2 2 2 2 2 2 2 2 2 2 2 2 2 2 2 2 2 2L4 13h2 2 2 2 2 2 2 2 2 2 2 2 2 2 2 2 2 2 2 2 2 2 2L3 14h2 2 2 2 2 2 2 2 2 2 2 2 2 2 2 2 2 2 2 2 2 2 2 2L2 15h2 2 2 2 2 2 2 2 2 2 2 2 2 2 2 2 2 2 2 2 2 2 2 2 2L1 16h2 2 2 2 2 2 2 2 2 2 2 2 2 2 2 2 2 2 2 2 2 2 2 2 2L2 17h2 2 2 2 2 2 2 2 2 2 2 2 2 2 2 2 2 2 2 2 2 2 2 2 2L1 18h2 2 2 2 2 2 2 2 2 2 2 2 2 2 2 2 2 2 2 2 2 2 2 2 2L2 19h2 2 2 2 2 2 2 2 2 2 2 2 2 2 2 2 2 2 2 2 2 2 2 2 2L1 20h2 2 2 2 2 2 2 2 2 2 2 2 2 2 2 2 2 2 2 2 2 2 2 2 2L2 21h2 2 2 2 2 2 2 2 2 2 2 2 2 2 2 2 2 2 2 2 2 2 2 2 2L1 22h2 2 2 2 2 2 2 2 2 2 2 2 2 2 2 2 2 2 2 2 2 2 2 2 2L2 23h2 2 2 2 2 2 2 2 2 2 2 2 2 2 2 2 2 2 2 2 2 2 2 2 2L1 24h2 2 2 2 2 2 2 2 2 2 2 2 2 2 2 2 2 2 2 2 2 2 2 2 2L2 25h2 2 2 2 2 2 2 2 2 2 2 2 2 2 2 2 2 2 2 2 2 2 2 2 2" fill="none" marker-start="url(#k11)" marker-mid="url(#k11)" marker-end="url(#k11)"/><path d="M3 12L2 13" fill="none" marker-start="url(#k12)" marker-mid="url(#k12)" marker-end="url(#k12)"/><path d="M1 12" fill="none" marker-start="url(#k13)" marker-mid="url(#k13)" marker-end="url(#k13)"/><path d="M1 14" fill="none" marker-start="url(#k15)" marker-mid="url(#k15)" marker-end="url(#k15)"/></g></g><text x="1589.15" y="405" font-size="30.78" textLength="124.81" lengthAdjust="spacingAndGlyphs" font-family="Liberation Sans, Arial, sans-serif">Intestine</text><g filter="url(#bs)"><g transform="translate(1832.5 415.95) scale(3.79 6.53)"><path d="M13 0h26L34 1h2L39 2L35 6L50 9h2L49 10h2L37 24L36 25" fill="none" marker-start="url(#k2)" marker-mid="url(#k2)" marker-end="url(#k2)"/><path d="M17 0h14 2 2 2 4L32 1h6 2 2 10L33 2h2 2L36 3h2L35 4h2L36 5L50 11h2L51 12L14 13h38L38 23L35 24h4L38 25" fill="none" marker-start="url(#k3)" marker-mid="url(#k3)" marker-end="url(#k3)"/><path d="M9 0h6 6 8 22L8 1h2 4 4 12L5 2h14L2 3h18 14L1 4L26 5h8 4L21 6L38 7L33 8h4 2L36 9h2L37 10h8 2L30 13L44 15h2L22 21" fill="none" marker-start="url(#k6)" marker-mid="url(#k6)" marker-end="url(#k6)"/><path d="M7 0h4 8 24L6 1h6 4 4L7 2h6 2 2 4 10 10L4 3h14L24 5L5 6h14 4 4 10L6 7h4 2 8 2L11 8h24 16L12 9h22 12 2L2 11h12L13 12h6L50 13L43 14h6L48 15L28 17h2L22 19h6L23 20L10 21L17 22L18 23h18L4 25h28 2" fill="none" marker-start="url(#k8)" marker-mid="url(#k8)" marker-end="url(#k8)"/><path d="M1 0h2 2 18 22 2 2L2 1h2 18 2 4 16 2 2 2L1 2h2 6 2 12 2 2 2 14 2 2 2 2L6 3h2 2 2 2 2 6 2 2 2 2 2 8 2L3 4h2 2 2 2 2 4 2 2 2 2 2 2 2 2 6 2L2 5h2 2 2 2 2 2 4 2 2 6 2 2 8 2L1 6h2 4 2 2 2 2 2 8 4 2 2 6 2L2 7h2 4 6 2 2 6 2 2 2 2 2 2 4 2 8 2L1 8h2 2 2 2 4 4 2 2 2 2 2 2 2 10 2 2 2 2L2 9h2 2 2 2 4 2 2 2 2 18 2 2L1 10h2 2 6 2 2 2 2 2 14 4 2 2L4 11h8 4 2 2 2 14 2 2 2 2 2 2L1 12h2 8 4 2 4 14 2 2 2 2 2 2 2L2 13h2 6 2 4 2 2 2 2 2 2 4 2 2 2 2 2 2 2 2L3 14h2 2 2 2 2 2 2 2 2 2 2 2 2 16 2 4L2 15h2 2 2 2 2 2 2 2 2 2 2 2 2 2 20 2L9 16h2 2 2 2 2 2 2 2 2 2 14 2 2 2 2L10 17h2 2 2 2 2 2 2 2 18 2 2 2 2L9 18h2 2 2 2 2 2 2 2 2 2 2 2 2 2 2 2 2 2 2 2 2L10 19h2 2 2 2 2 4 2 4 2 2 2 2 2 2 2 2 2 2 2L9 20h2 2 2 2 2 2 4 2 2 2 2 2 2L12 21h2 2 2 2 4 2 2 2 2 2 2 2L9 22h2 2 2 4 2 2 2 2 2 2 2 2 2L10 23h2 2 2 4 2 2 2 2 2 2 2L11 24h2 2 2 2 10 2 2L10 25h2 4 12 2" fill="none" marker-start="url(#k11)" marker-mid="url(#k11)" marker-end="url(#k11)"/><path d="M46 3h2 2 2L43 4h2 2 2 2L44 5h2 2 4L49 6L26 9h2 2 2L25 10h2 2 2 2L26 11h2 2 4L23 12h2 2 2 2L31 14h2 4 4L32 15h4 6L3 16h2 2 24 2 2 2 2 2L4 17h2 2 24 2 2 2 2 2L3 18h2 2L2 19h2 2 2L1 20h2 2 2 32 2 2 2 2 2 2L2 21h2 2 2 32 2 2 2 2 2 2L1 22h2 2 2 32 2 2 2 2 2 2L2 23h2 2 2 32 2 2 2 2 2 2L1 24h2 2 2 34 2 4 2 2L2 25h4 2 32 2 2 2 2 2 2" fill="none" marker-start="url(#k12)" marker-mid="url(#k12)" marker-end="url(#k12)"/><path d="M25 0h2L44 3L16 5h34L47 6h4L24 9L24 11h8L35 14L34 15L1 16L2 17L1 18L9 24h18 18L14 25" fill="none" marker-start="url(#k13)" marker-mid="url(#k13)" marker-end="url(#k13)"/><path d="M26 1L15 4L45 6L18 25" fill="none" marker-start="url(#k15)" marker-mid="url(#k15)" marker-end="url(#k15)"/><path d="M43 6L46 7h2L9 10h14L6 11L5 12h4 24L38 15L22 25" fill="none" marker-start="url(#k16)" marker-mid="url(#k16)" marker-end="url(#k16)"/><path d="M44 7L15 8L7 10L8 11h2L7 12L6 13h2L1 14h38L40 15L23 24h2" fill="none" marker-start="url(#k17)" marker-mid="url(#k17)" marker-end="url(#k17)"/><path d="M21 24L20 25h6" fill="none" marker-start="url(#k18)" marker-mid="url(#k18)" marker-end="url(#k18)"/><path d="M24 25" fill="none" marker-start="url(#k19)" marker-mid="url(#k19)" marker-end="url(#k19)"/></g></g><text x="1889.18" y="405" font-size="30.78" textLength="69.36" lengthAdjust="spacingAndGlyphs" font-family="Liberation Sans, Arial, sans-serif">Liver</text><path d="M1283.2 696.9V868.5M1276.2 727H1283.2M1276.2 783H1283.2M1276.2 839.4H1283.2" stroke="#000" stroke-width="2.2" fill="none"/><rect x="1288.2" y="697.1" width="15" height="9.25" fill="#3f86c0"/><rect x="1288.2" y="705.75" width="15" height="9.25" fill="#57a8bb"/><rect x="1288.2" y="714.4" width="15" height="9.25" fill="#78ccbb"/><rect x="1288.2" y="723.05" width="15" height="9.25" fill="#98dcb0"/><rect x="1288.2" y="731.7" width="15" height="9.25" fill="#b5e5a6"/><rect x="1288.2" y="740.35" width="15" height="9.25" fill="#d0eca0"/><rect x="1288.2" y="749" width="15" height="9.25" fill="#e6f29d"/><rect x="1288.2" y="757.65" width="15" height="9.25" fill="#f4f2a2"/><rect x="1288.2" y="766.3" width="15" height="9.25" fill="#fcf6bc"/><rect x="1288.2" y="774.95" width="15" height="9.25" fill="#fef7c2"/><rect x="1288.2" y="783.6" width="15" height="9.25" fill="#fef0ad"/><rect x="1288.2" y="792.25" width="15" height="9.25" fill="#fee596"/><rect x="1288.2" y="800.9" width="15" height="9.25" fill="#fdd683"/><rect x="1288.2" y="809.55" width="15" height="9.25" fill="#fdc473"/><rect x="1288.2" y="818.2" width="15" height="9.25" fill="#fcb062"/><rect x="1288.2" y="826.85" width="15" height="9.25" fill="#f99b56"/><rect x="1288.2" y="835.5" width="15" height="9.25" fill="#f67f4b"/><rect x="1288.2" y="844.15" width="15" height="9.25" fill="#ef6645"/><rect x="1288.2" y="852.8" width="15" height="9.25" fill="#e4544a"/><rect x="1288.2" y="861.45" width="15" height="9.25" fill="#d53e4f"/><text transform="translate(1162 859.29) rotate(-90)" font-size="32.37" textLength="141.38" lengthAdjust="spacingAndGlyphs" font-family="Liberation Sans, Arial, sans-serif">Spearman</text><text transform="translate(1202.2 860.98) rotate(-90)" font-size="32.71" textLength="151.69" lengthAdjust="spacingAndGlyphs" font-family="Liberation Sans, Arial, sans-serif">correlation</text><text x="1223.32" y="735.5" font-size="30.93" textLength="38.44" lengthAdjust="spacingAndGlyphs" font-family="Liberation Sans, Arial, sans-serif">0.5</text><text x="1225.1" y="793.3" font-size="31.51" textLength="39.2" lengthAdjust="spacingAndGlyphs" font-family="Liberation Sans, Arial, sans-serif">0.0</text><text x="1219.93" y="852.1" font-size="31.51" textLength="49.27" lengthAdjust="spacingAndGlyphs" font-family="Liberation Sans, Arial, sans-serif">-0.5</text><g filter="url(#bs)"><g transform="translate(1317.7 702.75) scale(3.79 6.53)"><path d="M52 13" fill="none" marker-start="url(#k6)" marker-mid="url(#k6)" marker-end="url(#k6)"/><path d="M1 0h2 2 2 2 2 2 2 2 2 2 2 2 2 2 2 2 2 2 2 2 2 2 2 2 2L2 1h2 2 2 2 2 2 2 2 2 2 2 2 2 2 2 2 2 2 2 2 2 2 2 2 2L1 2h2 2 2 2 2 2 2 2 2 2 2 2 2 2 2 2 2 2 2 2 2 2 2 2 2L2 3h2 2 2 2 2 2 2 2 2 2 2 2 2 2 2 2 2 2 2 2 2 2 2 2 2L1 4h2 2 2 2 2 2 2 2 2 2 2 2 2 2 2 2 2 2 2 2 2 2 2 2 2L2 5h2 2 2 2 2 2 2 2 2 2 2 2 2 2 2 2 2 2 2 2 2 2 2 2 2L1 6h2 2 2 2 2 2 2 2 2 2 2 2 2 2 2 2 2 2 2 2 2 2 2 2 2L2 7h2 2 2 2 2 2 2 2 2 2 2 2 2 2 2 2 2 2 2 2 2 2 2 2 2L1 8h2 2 2 2 2 2 2 2 2 2 2 2 2 2 2 2 2 2 2 2 2 2 2 2 2L2 9h2 2 2 2 2 2 2 2 2 2 2 2 2 2 2 2 2 2 2 2 2 2 2 2 2L1 10h2 2 2 2 2 2 2 2 2 2 2 2 2 2 2 2 2 2 2 2 2 2 2 2 2L2 11h2 2 2 2 2 2 2 2 2 2 2 2 2 2 2 2 2 2 2 2 2 2 2 2 2L5 12h2 2 2 2 2 2 2 2 2 2 2 2 2 2 2 2 2 2 2 2 2 2 2L6 13h2 2 2 2 2 2 2 2 2 2 2 2 2 2 2 2 2 2 2 2 2 2L7 14h2 2 2 2 2 2 2 2 2 2 2 2 2 2 2 2 2 2 2 2 2 2L8 15h2 2 2 2 2 2 2 2 2 2 2 2 2 2 2 2 2 2 2 2 2 2L5 16h2 2 2 2 2 2 2 2 2 2 2 2 2 2 2 2 2 2 2 2 2 2 2L4 17h2 2 2 2 2 2 2 2 2 2 2 2 2 2 2 2 2 2 2 2 2 2 2 2L1 18h2 2 2 2 2 2 2 2 2 2 2 2 2 2 2 2 2 2 2 2 2 2 2 2 2L2 19h2 2 2 2 2 2 2 2 2 2 2 2 2 2 2 2 2 2 2 2 2 2 2 2 2L1 20h2 2 2 2 2 2 2 2 2 2 2 2 2 2 2 2 2 2 2 2 2 2 2 2 2L2 21h2 2 2 2 2 2 2 2 2 2 2 2 2 2 2 2 2 2 2 2 2 2 2 2 2L1 22h2 2 2 2 2 2 2 2 2 2 2 2 2 2 2 2 2 2 2 2 2 2 2 2 2L2 23h2 2 2 2 2 2 2 2 2 2 2 2 2 2 2 2 2 2 2 2 2 2 2 2 2L1 24h2 2 2 2 2 2 2 2 2 2 2 2 2 2 2 2 2 2 2 2 2 2 2 2 2L2 25h2 2 2 2 2 2 2 2 2 2 2 2 2 2 2 2 2 2 2 2 2 2 2 2 2" fill="none" marker-start="url(#k11)" marker-mid="url(#k11)" marker-end="url(#k11)"/><path d="M3 12L4 13L3 14h2L4 15h2L1 16h2L2 17" fill="none" marker-start="url(#k12)" marker-mid="url(#k12)" marker-end="url(#k12)"/><path d="M1 12L2 13L1 14L2 15" fill="none" marker-start="url(#k13)" marker-mid="url(#k13)" marker-end="url(#k13)"/></g></g><text x="1344.35" y="687.8" font-size="32.27" textLength="126.02" lengthAdjust="spacingAndGlyphs" font-family="Liberation Sans, Arial, sans-serif">Pancreas</text><g filter="url(#bs)"><g transform="translate(1576 702.75) scale(3.79 6.53)"><path d="M52 13" fill="none" marker-start="url(#k2)" marker-mid="url(#k2)" marker-end="url(#k2)"/><path d="M47 18L46 19h2L47 20" fill="none" marker-start="url(#k7)" marker-mid="url(#k7)" marker-end="url(#k7)"/><path d="M48 17L45 18h4L44 19L43 20h2 4L44 21h2 2" fill="none" marker-start="url(#k8)" marker-mid="url(#k8)" marker-end="url(#k8)"/><path d="M47 4h2L48 5L47 16L46 17h4L43 18L42 19h8L42 21" fill="none" marker-start="url(#k9)" marker-mid="url(#k9)" marker-end="url(#k9)"/><path d="M46 3h2 2L45 4h6L46 5h4L48 15L45 16h4L44 17L41 18h10L40 19L41 20h10L50 21L41 22h2 2 2 2" fill="none" marker-start="url(#k10)" marker-mid="url(#k10)" marker-end="url(#k10)"/><path d="M1 0h2 2 2 2 2 2 2 2 2 2 2 2 2 2 2 2 2 2 2 2 2 2 2 2 2L2 1h2 2 2 2 2 2 2 2 2 2 2 2 2 2 2 2 2 2 2 2 2 2 2 2 2L1 2h2 2 2 2 2 2 2 2 2 2 2 2 2 2 2 2 2 2 2 2 2 2 2 2 2L2 3h2 2 2 2 2 2 2 4 2 2 2 2 2 2 2 2 2 2 2 2 8L1 4h2 2 2 2 2 2 10 2 2 2 2 2 2 2 2 2 2L2 5h2 2 2 2 2 2 10 2 2 2 2 2 2 2 2 2 2 8L1 6h2 2 2 2 2 2 14 2 2 2 2 2 2 2 2 2 2 2 2L2 7h2 2 2 2 2 2 12 2 2 2 2 2 2 2 2 2 2 2 2 2L1 8h2 2 2 2 2 2 2 2 10 2 2 2 2 2 2 2 2 2 2 2 2L2 9h2 2 2 2 2 2 2 2 8 2 2 2 2 2 2 2 2 2 2 2 2 2L1 10h2 2 2 2 2 2 2 2 2 2 2 2 2 2 2 2 2 2 2 2 2 2 2 2 2L6 11h2 2 2 2 2 2 2 2 2 2 2 2 2 2 2 2 2 2 2 2 2 2 2L9 12h2 2 2 2 2 2 2 2 2 2 2 2 2 2 2 2 2 2 2 2 2L10 13h2 2 2 2 2 2 2 2 2 2 2 2 2 2 2 2 2 2 2 2L7 14h2 2 2 2 2 2 2 2 2 2 2 2 2 2 2 2 2 2 2 2 2 2L4 15h2 2 2 2 2 2 2 2 2 2 2 2 2 2 2 2 2 2 2 2 2 4 2L3 16h2 2 2 2 2 2 2 2 2 2 2 2 2 2 2 2 2 2 2 2 8L2 17h2 2 2 2 2 2 2 2 2 2 2 2 2 2 2 2 2 2 2 2 10L1 18h2 2 2 2 2 2 2 2 2 2 2 2 2 2 2 2 2 2 2L2 19h2 2 2 2 2 2 2 2 2 2 2 2 2 2 2 2 2 2 14L1 20h2 2 2 2 2 2 2 2 2 2 2 2 2 2 2 2 2 2 2L2 21h2 2 2 2 2 2 2 2 2 2 2 2 2 2 2 2 2 2 2 12L1 22h2 2 2 2 2 2 2 2 2 2 2 2 2 2 2 2 2 2 2 12L2 23h2 2 2 2 2 2 2 2 2 2 2 2 2 2 2 2 2 2 2 2 2 2 2 2 2L1 24h2 2 2 2 2 2 2 2 2 2 2 2 2 2 2 2 2 2 2 2 2 2 2 2 2L2 25h2 2 2 2 2 2 2 2 2 2 2 2 2 2 2 2 2 2 2 2 2 2 2 2 2" fill="none" marker-start="url(#k11)" marker-mid="url(#k11)" marker-end="url(#k11)"/><path d="M18 3L15 4h2 2 2L16 5h4 2L15 6h8 2L16 7h2 6L19 8h6L20 9h2 2L2 11h2L7 12L6 13h2L3 14h2L2 15L1 16" fill="none" marker-start="url(#k12)" marker-mid="url(#k12)" marker-end="url(#k12)"/><path d="M18 5L17 6h2 2L20 7h2L21 8h2L1 12h2 2L2 13h2" fill="none" marker-start="url(#k13)" marker-mid="url(#k13)" marker-end="url(#k13)"/><path d="M1 14" fill="none" marker-start="url(#k18)" marker-mid="url(#k18)" marker-end="url(#k18)"/></g></g><text x="1633.09" y="687.8" font-size="32.27" textLength="74.43" lengthAdjust="spacingAndGlyphs" font-family="Liberation Sans, Arial, sans-serif">Bone</text><g filter="url(#bs)"><g transform="translate(1832.5 702.75) scale(3.79 6.53)"><path d="M29 12L50 13" fill="none" marker-start="url(#k0)" marker-mid="url(#k0)" marker-end="url(#k0)"/><path d="M36 5h2L43 6L44 7L31 8L27 10h4L30 11L31 12h20L42 13h2 2 6L41 14L40 15h2 6 2" fill="none" marker-start="url(#k2)" marker-mid="url(#k2)" marker-end="url(#k2)"/><path d="M23 0L37 4h2L40 5h2L35 6h2 4L28 7h2 2 2 2 4L27 8h2 4 2L26 9h4 2 2 2L25 10h4 4 2 10 2L26 11h2 4 12 2 2 2L27 12h6 10 2 2 2L28 13h2 18L29 14h14 2 2 2 2L44 15h2 6L41 16h2 2 2L20 17h22 2 2L39 18L40 19h10L47 20" fill="none" marker-start="url(#k3)" marker-mid="url(#k3)" marker-end="url(#k3)"/><path d="M39 6L42 7L37 8L20 15h2" fill="none" marker-start="url(#k4)" marker-mid="url(#k4)" marker-end="url(#k4)"/><path d="M21 0L22 1L40 3L23 4h18 2L22 5h4 18 4L21 6h2 4 4 2 12L20 7h4 2 12 8L25 8h14 4L16 9h22 2 6 4L11 10h10 16 2 4 6L34 11h6 2 10L11 12h14 16L26 13h14L21 14h10 8L12 15h18 2 4L21 16h10 8 10L36 17h4 8L35 18h6 2 2 4L52 19L49 20" fill="none" marker-start="url(#k6)" marker-mid="url(#k6)" marker-end="url(#k6)"/><path d="M19 0h6 6 4 2L20 1h4 4 2 4L21 2h2 6 4 2 2 2L20 3h2 2 4 4 2 2 2 4 2L21 4h4 2 4 2 12L24 5h6 2 2 12L25 6h4 18L22 7h26L21 8h2 18 4 2L22 9h2 24L23 10h18 10L24 11h12 2L23 12h12L12 13h8 12L33 14L34 15h4L19 16h14 4 14L22 17h12 4 12 2L1 18h20 30L20 19h2 24 2L51 20L48 21L11 24h24 4 2 4L16 25h6 20 2" fill="none" marker-start="url(#k8)" marker-mid="url(#k8)" marker-end="url(#k8)"/><path d="M38 1L44 9" fill="none" marker-start="url(#k9)" marker-mid="url(#k9)" marker-end="url(#k9)"/><path d="M28 9" fill="none" marker-start="url(#k10)" marker-mid="url(#k10)" marker-end="url(#k10)"/><path d="M13 0h2 2 10 2 4 6 2 2L14 1h2 2 8 6 4 4 2 2L9 2h2 2 2 2 2 6 2 4 10 2L8 3h2 2 2 2 2 8 4 16 2 2 2L7 4h6 2 2 2 10 6 12 2 2L16 5h2 2 8 22 2L15 6h2 2 30 2L16 7h2 32 2L11 8h2 2 2 2 30 2L10 9h2 2 4 2 22 10L9 10h4 6L10 11h2 2 6 2L7 12h2 4 6 2 16 2L6 13h2 2 4 2 2 4 2 10 2 2L9 14h2 2 2 2 2 4 2 2 8 2L10 15h4 2 2 6 2 2L11 16h2 2 2 6 2 2 2 6L16 17h8 2 2 2 2L17 18h2 4 2 2 2 2 2 4 10L18 19h6 2 2 4 2 2 2 4 2L17 20h2 2 2 2 2 2 2 2 2 2 2 2 2L18 21h2 2 2 2 2 2 2 2 2 2 2 2 4 4 2L15 22h2 2 2 2 2 2 2 2 2 2 2 2 2 2 2 2 2 2L10 23h2 2 2 2 2 2 2 2 2 2 2 2 2 2 2 2 2 2 2 2 2L9 24h4 2 2 2 2 2 2 2 2 2 2 4 6 4 2 2L8 25h2 2 2 4 2 4 2 2 2 2 2 2 2 2 6 2 2 2" fill="none" marker-start="url(#k11)" marker-mid="url(#k11)" marker-end="url(#k11)"/><path d="M12 1L7 2" fill="none" marker-start="url(#k12)" marker-mid="url(#k12)" marker-end="url(#k12)"/><path d="M7 0h38L8 1h2 36L5 2h40 2 4L6 3L5 4h4L6 5h2L7 6L8 7L9 8L15 10h2L16 11h2L15 12h2L2 13L5 14L8 15L1 16h8L2 17h12L16 19h14L15 20h30L14 21L13 22L8 23L7 24" fill="none" marker-start="url(#k13)" marker-mid="url(#k13)" marker-end="url(#k13)"/><path d="M9 0h2" fill="none" marker-start="url(#k14)" marker-mid="url(#k14)" marker-end="url(#k14)"/><path d="M1 0h4 42L6 1L1 2h2 46L4 3L3 4h8L4 5h6 2L3 6h2 4L4 7h6L1 8h6L8 9L1 10L5 12L4 13L7 14L2 15h2L3 16h2L4 17h2" fill="none" marker-start="url(#k15)" marker-mid="url(#k15)" marker-end="url(#k15)"/><path d="M2 1h46L2 3L11 6h2L2 7h4 6L3 8L8 11L3 12L3 14L6 15L7 16L12 17h6L13 18h2L14 19L10 21h6 28L7 22h2 2L6 23L6 25" fill="none" marker-start="url(#k16)" marker-mid="url(#k16)" marker-end="url(#k16)"/><path d="M3 0L4 1h48L1 4L2 5h12L1 12L8 17L10 19L5 20h4 4L8 21h4" fill="none" marker-start="url(#k17)" marker-mid="url(#k17)" marker-end="url(#k17)"/><path d="M1 6L14 7L5 8L2 9h4L3 10h4L2 11h2 2L1 14L10 17L3 18h4 2 2L2 19h2 2 2 4L1 20h2 8L2 21h4L1 22h4L5 24" fill="none" marker-start="url(#k18)" marker-mid="url(#k18)" marker-end="url(#k18)"/><path d="M49 0h2L50 1L4 9L5 10L5 18L7 20L4 21L3 22L2 23h2L1 24h2L2 25h2" fill="none" marker-start="url(#k19)" marker-mid="url(#k19)" marker-end="url(#k19)"/></g></g><text x="1882.85" y="687.8" font-size="31.79" textLength="73.59" lengthAdjust="spacingAndGlyphs" font-family="Liberation Sans, Arial, sans-serif">SCAT</text><path d="M1283.2 987V1158.6M1276.2 1017.1H1283.2M1276.2 1073.1H1283.2M1276.2 1129.5H1283.2" stroke="#000" stroke-width="2.2" fill="none"/><rect x="1288.2" y="987.2" width="15" height="9.25" fill="#3f86c0"/><rect x="1288.2" y="995.85" width="15" height="9.25" fill="#57a8bb"/><rect x="1288.2" y="1004.5" width="15" height="9.25" fill="#78ccbb"/><rect x="1288.2" y="1013.15" width="15" height="9.25" fill="#98dcb0"/><rect x="1288.2" y="1021.8" width="15" height="9.25" fill="#b5e5a6"/><rect x="1288.2" y="1030.45" width="15" height="9.25" fill="#d0eca0"/><rect x="1288.2" y="1039.1" width="15" height="9.25" fill="#e6f29d"/><rect x="1288.2" y="1047.75" width="15" height="9.25" fill="#f4f2a2"/><rect x="1288.2" y="1056.4" width="15" height="9.25" fill="#fcf6bc"/><rect x="1288.2" y="1065.05" width="15" height="9.25" fill="#fef7c2"/><rect x="1288.2" y="1073.7" width="15" height="9.25" fill="#fef0ad"/><rect x="1288.2" y="1082.35" width="15" height="9.25" fill="#fee596"/><rect x="1288.2" y="1091" width="15" height="9.25" fill="#fdd683"/><rect x="1288.2" y="1099.65" width="15" height="9.25" fill="#fdc473"/><rect x="1288.2" y="1108.3" width="15" height="9.25" fill="#fcb062"/><rect x="1288.2" y="1116.95" width="15" height="9.25" fill="#f99b56"/><rect x="1288.2" y="1125.6" width="15" height="9.25" fill="#f67f4b"/><rect x="1288.2" y="1134.25" width="15" height="9.25" fill="#ef6645"/><rect x="1288.2" y="1142.9" width="15" height="9.25" fill="#e4544a"/><rect x="1288.2" y="1151.55" width="15" height="9.25" fill="#d53e4f"/><text transform="translate(1162 1149.39) rotate(-90)" font-size="32.37" textLength="141.38" lengthAdjust="spacingAndGlyphs" font-family="Liberation Sans, Arial, sans-serif">Spearman</text><text transform="translate(1202.2 1151.08) rotate(-90)" font-size="32.71" textLength="151.69" lengthAdjust="spacingAndGlyphs" font-family="Liberation Sans, Arial, sans-serif">correlation</text><text x="1223.32" y="1025.6" font-size="30.93" textLength="38.44" lengthAdjust="spacingAndGlyphs" font-family="Liberation Sans, Arial, sans-serif">0.5</text><text x="1225.1" y="1083.4" font-size="31.51" textLength="39.2" lengthAdjust="spacingAndGlyphs" font-family="Liberation Sans, Arial, sans-serif">0.0</text><text x="1219.93" y="1142.2" font-size="31.51" textLength="49.27" lengthAdjust="spacingAndGlyphs" font-family="Liberation Sans, Arial, sans-serif">-0.5</text><g filter="url(#bs)"><g transform="translate(1317.7 991.05) scale(3.79 6.53)"><path d="M52 13" fill="none" marker-start="url(#k2)" marker-mid="url(#k2)" marker-end="url(#k2)"/><path d="M35 8" fill="none" marker-start="url(#k3)" marker-mid="url(#k3)" marker-end="url(#k3)"/><path d="M23 0h8L35 2L35 6L34 7h2L33 8h4L34 9h2L18 15" fill="none" marker-start="url(#k6)" marker-mid="url(#k6)" marker-end="url(#k6)"/><path d="M21 0h4 4 4L22 1h8 2 2L33 2L34 3L37 6L38 7L16 15L44 19" fill="none" marker-start="url(#k7)" marker-mid="url(#k7)" marker-end="url(#k7)"/><path d="M19 0h8 8 2 2L18 1h2 4 12L19 2h2 2 8 6L18 3h2 2 14L19 4h2 14L34 5h2L33 6h6 2 2L32 7h8 2 2L31 8h8 2 2L32 9h6L49 12h2L50 13L15 14h2 2 32L14 15L17 16h2L18 17L43 18L42 19" fill="none" marker-start="url(#k8)" marker-mid="url(#k8)" marker-end="url(#k8)"/><path d="M17 0h24L16 1h10 2 10L17 2h12L16 3h8 8L17 4h6 10 4L18 5h2 2 16L45 6L5 8h40L6 9h24 10 2 2L25 10h2 8L26 11L21 12h2 24L20 13h2 26L13 14h8 28L20 15h32L15 16L45 18L46 19L43 20" fill="none" marker-start="url(#k9)" marker-mid="url(#k9)" marker-end="url(#k9)"/><path d="M15 0L40 1h2L15 2h10L28 3h2 8L15 4h10L16 5h8 8 8 2 2L4 7h2 24 16L3 8h4 22 18L4 9h4 18 2 18L5 10h24 2 2 4 2 2 2L22 11h2 4 20 2 2L19 12h6 2 18L14 13h2 2 6 22L11 14h12 24L12 15h38L13 16h8 30L16 17h4 22 2L17 18h2 22 6L40 19L41 20h4" fill="none" marker-start="url(#k10)" marker-mid="url(#k10)" marker-end="url(#k10)"/><path d="M1 0h2 2 2 2 2 2 30 2 2 2 2L2 1h2 2 2 2 2 2 30 2 2 2 2L1 2h2 2 2 2 2 2 14 12 2 2 2 2 2 2L2 3h2 2 2 2 2 2 12 14 2 2 2 2 2 2L1 4h2 2 2 2 2 2 14 2 2 8 2 2 2 2 2 2L2 5h2 2 2 2 2 2 12 2 2 16 2 2 2L1 6h2 2 2 2 2 2 2 2 2 2 2 2 2 2 2 16 2 2L2 7h6 2 2 2 2 2 2 2 2 2 2 20 2 2L1 8h8 2 2 2 2 2 2 2 2 2 22 2L2 9h8 2 2 2 2 2 2 2 24 2 2L1 10h2 4 2 2 2 2 2 2 2 2 22 2 2 2L4 11h2 2 2 2 2 2 2 2 10 2 2 2 2 2 2 2 2L5 12h2 2 2 2 2 2 12 2 2 2 2 2 2 2L6 13h2 2 2 14 2 2 2 2 2 2 2 2 2L9 14h16 2 2 2 2 2 2 2 2 2 2L10 15h12 2 2 2 2 2 2 2 2 2 2 2 2 2L7 16h2 2 12 2 2 2 2 2 2 2 2 2 2 2 2 2L6 17h2 2 2 2 8 2 2 2 2 2 2 2 2 2 6 2 2 2L5 18h2 2 2 2 2 6 2 2 2 2 2 2 2 2 2 10 2L2 19h2 2 2 2 2 2 2 2 2 2 2 2 2 2 2 2 2 2 10 2 2L1 20h2 2 2 2 2 2 2 6 2 2 2 2 2 8 8 2 2L2 21h2 2 2 2 2 2 8 2 2 2 2 10 2 2 2 2 2 2L1 22h2 2 2 2 2 2 10 2 2 2 2 12 2 2 2 2L2 23h2 2 2 2 2 2 8 2 2 2 2 14 2 2 2 2L1 24h2 2 2 2 2 2 2 6 2 2 2 2 2 12 2 2 2 2L2 25h2 2 2 2 2 2 2 2 2 2 2 2 2 2 2 2 2 2 2 2 2 2 2 2 2" fill="none" marker-start="url(#k11)" marker-mid="url(#k11)" marker-end="url(#k11)"/><path d="M2 11L7 14L6 15h2L5 16L4 17L1 18h2L17 20h2 14 2 2L16 21h4 12 6L15 22h6 12 6 2L16 23h4 12 2 8L17 24h2 14 2 2 2 2" fill="none" marker-start="url(#k12)" marker-mid="url(#k12)" marker-end="url(#k12)"/><path d="M3 12L4 13L5 14L18 21h16 2L17 22h2 16 2L18 23h18 2 2" fill="none" marker-start="url(#k13)" marker-mid="url(#k13)" marker-end="url(#k13)"/><path d="M1 12L2 13L3 14L4 15L3 16L2 17" fill="none" marker-start="url(#k14)" marker-mid="url(#k14)" marker-end="url(#k14)"/><path d="M2 15L1 16" fill="none" marker-start="url(#k15)" marker-mid="url(#k15)" marker-end="url(#k15)"/><path d="M1 14" fill="none" marker-start="url(#k18)" marker-mid="url(#k18)" marker-end="url(#k18)"/></g></g><text x="1368.5" y="975.7" font-size="32.27" textLength="77.53" lengthAdjust="spacingAndGlyphs" font-family="Liberation Sans, Arial, sans-serif">Heart</text><g filter="url(#bs)"><g transform="translate(1576 991.05) scale(3.79 6.53)"><path d="M41 16h2L42 17" fill="none" marker-start="url(#k6)" marker-mid="url(#k6)" marker-end="url(#k6)"/><path d="M47 12h2 2L44 13h2 2 2 2L41 14h2L40 15h2 2L39 16L40 17h4" fill="none" marker-start="url(#k7)" marker-mid="url(#k7)" marker-end="url(#k7)"/><path d="M44 9L43 10L24 11h2 2 16L27 12h14 2 2L40 13h2L39 14h6L45 16L38 17L41 18h2" fill="none" marker-start="url(#k8)" marker-mid="url(#k8)" marker-end="url(#k8)"/><path d="M39 6h2L40 7L43 8h2L42 9L21 10h2 2 2 2 2 14L22 11h8 2 10 4L17 12h2 6 4 10L18 13h8 12L47 14L38 15h8L37 16L46 17L39 18h6L42 19h2L27 20L26 21h2L5 22L4 23h2" fill="none" marker-start="url(#k9)" marker-mid="url(#k9)" marker-end="url(#k9)"/><path d="M38 5h2L37 6L38 7h4 2L41 8L22 9h2 2 2 2 2 8 6L19 10h14 8 6L18 11h2 14 4 2 8 2 2L15 12h6 2 8 6L16 13h4 4 4 8L17 14h2 6 2 10 12 2L36 15L47 16L36 17L37 18h10L46 19L25 20h4 14 2L24 21L3 22h4 18 2 2L2 23h6L3 24h2 2" fill="none" marker-start="url(#k10)" marker-mid="url(#k10)" marker-end="url(#k10)"/><path d="M1 0h2 2 2 2 14 6 2 2 2 2 2 2 2 2 2 2 2L2 1h2 2 2 2 12 2 2 2 2 2 2 2 2 2 2 2 2 2 2 2L1 2h2 2 2 2 2 2 10 2 2 2 2 2 2 2 2 2 2 2 2 2 2L2 3h2 2 2 2 2 2 8 2 2 2 2 2 2 2 2 2 2 2 2 2 2 2L1 4h2 2 2 2 2 2 10 2 2 2 2 2 2 2 2 2 2 2 2 2 2L2 5h2 2 2 2 2 2 8 2 2 2 2 2 2 2 6 2 2 2 2 2L1 6h2 2 2 2 2 2 2 2 2 2 2 2 2 2 2 2 2 8 2 2 2 2L2 7h2 2 2 2 2 2 2 2 2 2 2 2 2 2 2 2 2 10 2 2 2L1 8h2 2 2 2 2 2 2 2 2 2 2 2 2 2 2 2 2 2 2 8 2 2L2 9h2 2 2 2 2 2 2 2 2 14 2 2 10 2 2L1 10h2 2 2 2 2 2 2 2 18 2 2 10 2L2 11h2 2 2 2 2 2 2 20L1 12h2 2 2 2 2 2 20 2L2 13h2 2 2 2 2 2 8 8 2 2L5 14h2 2 2 2 2 6 2 6 2 2 2L4 15h2 2 2 2 2 2 2 2 2 2 2 2 2 2 2 14 2 2L3 16h2 2 2 2 2 2 6 2 2 2 2 2 2 2 14 2L2 17h2 2 2 2 2 2 8 2 2 2 2 2 2 14 2 2L1 18h2 2 2 2 2 2 2 6 2 2 2 2 2 2 2 14 2L2 19h2 2 2 2 2 2 2 2 2 2 2 2 2 2 2 2 2 2 2 8 2 2L1 20h2 2 2 2 2 2 2 2 2 2 2 8 2 2 2 2 2 6 2 2L2 21h2 2 2 2 2 2 2 2 2 2 8 2 2 2 2 2 2 2 2 2 2 2L1 22h8 2 2 2 2 2 2 2 8 2 2 2 2 2 2 2 2 2 2L10 23h2 2 2 2 2 2 2 2 2 2 2 2 2 2 2 2 2 2 2 2 2L1 24h8 2 2 2 2 2 2 2 2 2 2 2 2 2 2 2 2 2 2 2 2 2L2 25h2 2 2 2 2 2 2 2 2 2 2 2 2 2 2 2 2 2 2 2 2 2 2 2 2" fill="none" marker-start="url(#k11)" marker-mid="url(#k11)" marker-end="url(#k11)"/><path d="M11 0h10 4 2L12 1h2 6L15 2h6L15 4h6L16 5h4L3 14L2 15L1 16h16 2L16 17h4L17 18h2" fill="none" marker-start="url(#k12)" marker-mid="url(#k12)" marker-end="url(#k12)"/><path d="M13 0h2 2 2L16 1h2L17 2h2L16 3h4L18 5L18 17" fill="none" marker-start="url(#k13)" marker-mid="url(#k13)" marker-end="url(#k13)"/><path d="M18 3L17 4h2" fill="none" marker-start="url(#k14)" marker-mid="url(#k14)" marker-end="url(#k14)"/><path d="M1 14" fill="none" marker-start="url(#k18)" marker-mid="url(#k18)" marker-end="url(#k18)"/></g></g><text x="1637.62" y="975.7" font-size="32.27" textLength="56.34" lengthAdjust="spacingAndGlyphs" font-family="Liberation Sans, Arial, sans-serif">BAT</text><g filter="url(#bs)"><g transform="translate(1832.5 991.05) scale(3.79 6.53)"><path d="M18 9L52 13" fill="none" marker-start="url(#k3)" marker-mid="url(#k3)" marker-end="url(#k3)"/><path d="M16 9L17 10h2L18 11L51 14L52 15L52 21" fill="none" marker-start="url(#k4)" marker-mid="url(#k4)" marker-end="url(#k4)"/><path d="M17 8h2L20 9L15 10h6L16 11L17 12L50 15L50 21" fill="none" marker-start="url(#k5)" marker-mid="url(#k5)" marker-end="url(#k5)"/><path d="M18 7L15 8L14 9L14 11h6L15 12h4 32L14 13h2 2 32L15 14h34L14 15L51 16L48 21" fill="none" marker-start="url(#k6)" marker-mid="url(#k6)" marker-end="url(#k6)"/><path d="M21 8L22 9L13 10h10L22 11L13 12L13 14h4L16 15h32L52 17L49 20h2L42 25h2" fill="none" marker-start="url(#k7)" marker-mid="url(#k7)" marker-end="url(#k7)"/><path d="M31 0h2 2 2 2L18 1h14L31 2L39 4L16 7h4L13 8L12 9L12 11L21 12L12 13L19 14h26 2L12 15h6 26 2L13 16h2 2 32L14 17h2 2L46 21L49 22h2L40 25" fill="none" marker-start="url(#k8)" marker-mid="url(#k8)" marker-end="url(#k8)"/><path d="M17 0h2 10 12L16 1h4 10 4 2 2L17 2h2 10L18 3L41 4L17 6h2L14 7L23 8L24 9L11 10h14L24 11h28L11 12h38L20 13h28L11 14h32L20 15h22L19 16L50 17L31 20h16L30 21h2L47 22L41 24h2 2L38 25h8" fill="none" marker-start="url(#k9)" marker-mid="url(#k9)" marker-end="url(#k9)"/><path d="M15 0h6L28 1h12 2L15 2h6 12L16 3h4 8 2 2 6 2L37 4L16 5h2 2 18 2 2L15 6h6L12 7h10 2L11 8h14L10 9L10 11h40L23 12L10 13h34 2L21 14h20L10 15L11 16h10 22 2 2L12 17h8L13 18h2 2 2 30 2L48 19h2 2L29 20h4 12L28 21h6 10L29 22h2 2 12L37 24h2L36 25" fill="none" marker-start="url(#k10)" marker-mid="url(#k10)" marker-end="url(#k10)"/><path d="M1 0h2 2 2 2 2 2 10 2 2 16 2 2L2 1h2 2 2 2 2 2 8 2 2 18 2 2L1 2h2 2 2 2 2 2 10 2 2 8 2 2 2 2 2 2 2 2L2 3h2 2 2 2 2 2 8 2 2 8 2 6 2 2 2 2 2L1 4h2 2 2 2 2 2 2 2 2 2 2 2 2 2 2 2 2 8 2 2 2 2L2 5h2 2 2 2 2 2 8 2 2 2 2 2 4 8 2 2 2 2L1 6h2 2 2 2 2 2 10 2 2 2 2 8 2 2 2 2 2 2L2 7h2 2 2 2 16 2 2 2 6 2 2 2 2 2 2 2L1 8h2 2 2 2 18 2 2 2 2 2 2 2 2 2 2 2 2L2 9h2 2 2 18 2 8 2 2 2 2 2 2 2 2L1 10h2 2 2 2 18 12 2 2 2 2 2 2L6 11h2 18 14 2 2 2 2L9 12h16 2 2 10 2 2 2 2L22 13h2 2 2 2 2 6 2 2L7 14h2 14 2 2 2 2 2 4 2L4 15h2 2 14 2 2 2 2 2 2 2 2 2L3 16h2 2 2 14 2 2 2 2 2 2 2 2 2L2 17h2 2 2 2 12 2 2 2 2 2 2 2 2 2 2 2 2 2L1 18h2 2 2 2 2 10 2 2 2 2 2 2 2 2 2 2 2 2 2L2 19h2 2 2 2 2 2 2 2 2 2 2 2 2 2 2 2 2 2 2 2 2 2L5 20h2 2 2 2 2 2 2 2 2 2 2 8 2 2 2 2L6 21h2 2 2 2 2 2 2 2 2 2 10 2 2 2L5 22h2 2 2 2 2 2 2 2 2 2 2 8 2 2 2 2L6 23h2 2 2 2 2 2 2 2 2 2 2 2 2 2 2 2 2 2 2 2 2 2 2L5 24h2 2 2 2 2 2 2 2 2 2 2 2 2 2 2 12 2 2L2 25h2 2 2 2 2 2 2 2 2 2 2 2 2 2 2 2 14 2 2" fill="none" marker-start="url(#k11)" marker-mid="url(#k11)" marker-end="url(#k11)"/><path d="M49 0L50 1h2L34 5L33 6h4L34 7h2L30 9h2 2L29 10h8L2 11h2 24 2 8L7 12h24 2 4L6 13h2 26 2L3 14h2 30L2 15L1 16L1 20h2L4 21L3 22L2 23h2L1 24h2" fill="none" marker-start="url(#k12)" marker-mid="url(#k12)" marker-end="url(#k12)"/><path d="M51 0L35 6L31 10h2 2L32 11h2 2L1 12h2 2 30L2 13h2L2 21L1 22" fill="none" marker-start="url(#k13)" marker-mid="url(#k13)" marker-end="url(#k13)"/><path d="M1 14" fill="none" marker-start="url(#k18)" marker-mid="url(#k18)" marker-end="url(#k18)"/></g></g><text x="1903.19" y="975.7" font-size="30.64" textLength="60.22" lengthAdjust="spacingAndGlyphs" font-family="Liberation Sans, Arial, sans-serif">Skin</text><path d="M1283.2 1274V1445.6M1276.2 1304.1H1283.2M1276.2 1360.1H1283.2M1276.2 1416.5H1283.2" stroke="#000" stroke-width="2.2" fill="none"/><rect x="1288.2" y="1274.2" width="15" height="9.25" fill="#3f86c0"/><rect x="1288.2" y="1282.85" width="15" height="9.25" fill="#57a8bb"/><rect x="1288.2" y="1291.5" width="15" height="9.25" fill="#78ccbb"/><rect x="1288.2" y="1300.15" width="15" height="9.25" fill="#98dcb0"/><rect x="1288.2" y="1308.8" width="15" height="9.25" fill="#b5e5a6"/><rect x="1288.2" y="1317.45" width="15" height="9.25" fill="#d0eca0"/><rect x="1288.2" y="1326.1" width="15" height="9.25" fill="#e6f29d"/><rect x="1288.2" y="1334.75" width="15" height="9.25" fill="#f4f2a2"/><rect x="1288.2" y="1343.4" width="15" height="9.25" fill="#fcf6bc"/><rect x="1288.2" y="1352.05" width="15" height="9.25" fill="#fef7c2"/><rect x="1288.2" y="1360.7" width="15" height="9.25" fill="#fef0ad"/><rect x="1288.2" y="1369.35" width="15" height="9.25" fill="#fee596"/><rect x="1288.2" y="1378" width="15" height="9.25" fill="#fdd683"/><rect x="1288.2" y="1386.65" width="15" height="9.25" fill="#fdc473"/><rect x="1288.2" y="1395.3" width="15" height="9.25" fill="#fcb062"/><rect x="1288.2" y="1403.95" width="15" height="9.25" fill="#f99b56"/><rect x="1288.2" y="1412.6" width="15" height="9.25" fill="#f67f4b"/><rect x="1288.2" y="1421.25" width="15" height="9.25" fill="#ef6645"/><rect x="1288.2" y="1429.9" width="15" height="9.25" fill="#e4544a"/><rect x="1288.2" y="1438.55" width="15" height="9.25" fill="#d53e4f"/><text transform="translate(1162 1436.39) rotate(-90)" font-size="32.37" textLength="141.38" lengthAdjust="spacingAndGlyphs" font-family="Liberation Sans, Arial, sans-serif">Spearman</text><text transform="translate(1202.2 1438.08) rotate(-90)" font-size="32.71" textLength="151.69" lengthAdjust="spacingAndGlyphs" font-family="Liberation Sans, Arial, sans-serif">correlation</text><text x="1223.32" y="1312.6" font-size="30.93" textLength="38.44" lengthAdjust="spacingAndGlyphs" font-family="Liberation Sans, Arial, sans-serif">0.5</text><text x="1225.1" y="1370.4" font-size="31.51" textLength="39.2" lengthAdjust="spacingAndGlyphs" font-family="Liberation Sans, Arial, sans-serif">0.0</text><text x="1219.93" y="1429.2" font-size="31.51" textLength="49.27" lengthAdjust="spacingAndGlyphs" font-family="Liberation Sans, Arial, sans-serif">-0.5</text><g filter="url(#bs)"><g transform="translate(1317.7 1277.65) scale(3.79 6.53)"><path d="M51 8L50 9" fill="none" marker-start="url(#k0)" marker-mid="url(#k0)" marker-end="url(#k0)"/><path d="M9 0h2 4 2 6 2 2 2 2 6 2 8 2L14 1h2 10 2 2 2 12 2 2 2 2L15 2h16 2 2 10 2 2 2L32 3h2 6 4 2 2 4L33 4h2 10 2 2 2L34 5h2 2 6 2 2 2 2L39 6h2 2 4 2 2L40 7h8 2 2L39 8h2 6 2L48 9h4L47 10h2 2L48 11h4L49 12L50 13" fill="none" marker-start="url(#k2)" marker-mid="url(#k2)" marker-end="url(#k2)"/><path d="M13 0h6 22 10L12 1h6 6 14 4L13 2h4 12 8 2 4L14 3h16 8 4L31 4h6 6L32 5L37 6L38 7h4 4L43 8h2L42 9h2 2L45 10L46 11h4L47 12L52 13" fill="none" marker-start="url(#k3)" marker-mid="url(#k3)" marker-end="url(#k3)"/><path d="M21 0h22L8 1h12 2 12 2L7 2h20L8 3h8 34L39 4L40 5L45 6L44 7L27 16" fill="none" marker-start="url(#k4)" marker-mid="url(#k4)" marker-end="url(#k4)"/><path d="M33 0h2 10L6 1h4 30L5 2L12 3h16L7 4h6 16L14 5h28L1 6h30L40 9L43 10L42 11h2L51 12L48 13L51 14L44 19" fill="none" marker-start="url(#k6)" marker-mid="url(#k6)" marker-end="url(#k6)"/><path d="M9 2h2 8 2 4 16L10 3h16 10L9 4h6 12 14L30 5L29 6h4 2L30 7h4 2L41 10L45 12L8 13L7 14L6 15L30 23h16L27 24" fill="none" marker-start="url(#k8)" marker-mid="url(#k8)" marker-end="url(#k8)"/><path d="M1 0h2 2 2L2 1h2L1 2h2 20L2 3h2 2 12 2 2 2L1 4h2 2 6 6 2 2 2 2L2 5h2 2 2 2 2 4 2 2 2 2 2 2L3 6h2 2 4 2 2 2 2 2 2 2 2L2 7h4 14 2 2 2 2 4L19 8h2 8 2 2 2 2L20 9h8 10L17 10h2 2 18L16 11h2 2 2 4 12 2L7 12h2 8 2 2 2 10 6 2 2L6 13h4 2 2 2 2 14 2 10 2L5 14h4 2 2 2 2 2 12 2 12 2 2L8 15h2 2 2 2 12 2 2 14 2 2 2L5 16h2 2 2 2 2 14 2 2L6 17h2 2 2 2 2 6 2 2 2 2 2 8 2 2L5 18h2 2 2 8 2 2 2 2 2 2 2 2 2 2 2 2 2 2 2 2L2 19h2 2 2 14 2 2 2 2 2 2 2 2 2 2 4 2 2 2L1 20h2 2 2 16 2 2 2 2 2 2 2 2 2 2 2 2 2 2L2 21h2 2 2 16 2 2 2 2 2 2 2 2 2 2 2 2 2 2L3 22h2 2 2 16 2 2 2 2 2 2 2 2 2 2 2 2 2L4 23h2 4 14 2 2 4 2 2 2 2 2 2 4 2 2L7 24h2 2 12 2 4 2 2 2 2 2 2 2 2 2 2 2L4 25h2 2 2 2 12 2 2 2 2 2 2 2 2 2 2 2 2 2 2" fill="none" marker-start="url(#k11)" marker-mid="url(#k11)" marker-end="url(#k11)"/><path d="M4 7h4L1 8h26L2 9h16 4 4 10L1 10h10 4 10 2 10L10 11h14 4 6 2L11 12h4 10 2 4 6L2 13h2 16 8 10 4L3 14h26L2 15h2 14 4 12 10L3 16h14 2 4 12 2 2 2 4 2 2 2L2 17h2 16 14 12 4 2L1 18h16L20 19L9 20h12L23 22L12 23h10L5 24h8L14 25h8" fill="none" marker-start="url(#k13)" marker-mid="url(#k13)" marker-end="url(#k13)"/><path d="M9 6L10 7h2 2 2 2L5 8h2 4 6 8L30 9h4L3 10h6 4 16 6L2 11h10 2L1 12h28L26 13L20 15h6 10 4L1 16h24L18 17L13 18h2L10 19h8L15 24L16 25" fill="none" marker-start="url(#k15)" marker-mid="url(#k15)" marker-end="url(#k15)"/><path d="M9 8h4 2 8L6 9h2 8 8 8L7 10h16 10L4 11h2 26L3 12h2 30L22 13h2 6 6 4L21 14h2 2 12 2 2 2L42 15L21 16h22L36 17h2 10L3 18L11 20h8L10 21h12L1 22h20L8 23h6L1 24h2" fill="none" marker-start="url(#k16)" marker-mid="url(#k16)" marker-end="url(#k16)"/><path d="M4 9h8 2L5 10h26L30 11L13 12L27 14h8L12 19h2 2L13 20h2 2L12 21h2 4L11 22h2 4L16 23h4L17 24" fill="none" marker-start="url(#k17)" marker-mid="url(#k17)" marker-end="url(#k17)"/><path d="M3 8L10 9L8 11L1 14L24 15h14L16 21h4L15 22h4L2 23L2 25" fill="none" marker-start="url(#k18)" marker-mid="url(#k18)" marker-end="url(#k18)"/><path d="M18 23L19 24h2L18 25h2" fill="none" marker-start="url(#k19)" marker-mid="url(#k19)" marker-end="url(#k19)"/></g></g><text x="1356.5" y="1257.7" font-size="30.64" textLength="97.07" lengthAdjust="spacingAndGlyphs" font-family="Liberation Sans, Arial, sans-serif">Kidney</text><g filter="url(#bs)"><g transform="translate(1576 1277.65) scale(3.79 6.53)"><path d="M52 13" fill="none" marker-start="url(#k0)" marker-mid="url(#k0)" marker-end="url(#k0)"/><path d="M48 17" fill="none" marker-start="url(#k8)" marker-mid="url(#k8)" marker-end="url(#k8)"/><path d="M47 16L46 17L47 18h2L46 19h2L43 20h2L42 21h2" fill="none" marker-start="url(#k9)" marker-mid="url(#k9)" marker-end="url(#k9)"/><path d="M48 15L45 16h4L50 17L45 18h6L44 19h6L41 20h6 2L46 21L41 22h2 2" fill="none" marker-start="url(#k10)" marker-mid="url(#k10)" marker-end="url(#k10)"/><path d="M1 0h2 2 2 2 2 2 2 2 2 2 2 2 2 2 2 2 2 2 2 2 2 2 2 2 2L2 1h2 2 2 2 2 2 2 2 2 2 2 2 2 2 2 2 2 2 2 2 2 2 2 2 2L1 2h2 2 2 2 2 2 2 2 2 2 2 2 2 2 2 2 2 2 2 2 2 2 2 2 2L2 3h2 2 2 2 2 2 2 2 2 2 2 2 2 2 2 2 2 2 2 2 2 2 2 2 2L1 4h2 2 2 2 2 2 2 2 2 2 2 2 2 2 2 2 2 2 2 2 2 2 2 2 2L2 5h2 2 2 2 2 2 2 2 2 2 2 2 2 2 2 2 2 2 2 2 2 2 2 2 2L1 6h2 2 2 2 2 2 2 2 2 2 2 2 2 2 2 2 2 2 2 2 2 2 2 2 2L2 7h2 2 2 2 2 2 2 2 2 2 2 2 2 2 2 2 2 2 2 2 2 2 2 2 2L1 8h2 2 2 2 2 2 2 2 2 2 2 2 2 2 2 2 2 2 2 2 2 2 2 2 2L2 9h2 2 2 2 2 2 2 2 2 2 2 2 2 2 2 2 2 2 2 2 2 2 2 2 2L1 10h2 2 2 2 2 2 2 2 2 2 2 2 2 2 2 2 2 2 2 2 2 2 2 2 2L6 11h2 2 2 2 2 2 2 2 2 2 2 2 2 2 2 2 2 2 2 2 2 2 2L9 12h2 2 2 2 2 2 2 2 2 2 2 2 2 2 2 2 2 2 2 2 2L10 13h2 2 2 2 2 2 2 2 2 2 2 2 2 2 2 2 2 2 2 2L9 14h2 2 2 2 2 2 2 2 2 2 2 2 2 2 2 2 2 2 2 2 2L10 15h2 2 2 2 2 2 2 2 2 2 2 2 2 2 2 2 2 2 4 2L7 16h2 2 2 2 2 2 2 2 2 2 2 2 2 2 2 2 2 2 8L4 17h2 2 2 2 2 2 2 2 2 2 2 2 2 2 2 2 2 2 2 2 8L3 18h2 2 2 2 2 2 2 2 2 2 2 2 2 2 2 2 2 2 2 2L2 19h2 2 2 2 2 2 2 2 2 2 2 2 2 2 2 2 2 2 2 2 10L1 20h2 2 2 2 2 2 2 2 2 2 2 2 2 2 2 2 2 2 2 12L2 21h2 2 2 2 2 2 2 2 2 2 2 2 2 2 2 2 2 2 2 8 2 2L1 22h2 2 2 2 2 2 2 2 2 2 2 2 2 2 2 2 2 2 2 8 2 2L2 23h2 2 2 2 2 2 2 2 2 2 2 2 2 2 2 2 2 2 2 2 2 2 2 2 2L1 24h2 2 2 2 2 2 2 2 2 2 2 2 2 2 2 2 2 2 2 2 2 2 2 2 2L2 25h2 2 2 2 2 2 2 2 2 2 2 2 2 2 2 2 2 2 2 2 2 2 2 2 2" fill="none" marker-start="url(#k11)" marker-mid="url(#k11)" marker-end="url(#k11)"/><path d="M2 11h2L7 12L8 13L7 14L6 15h2L3 16h2L2 17L1 18" fill="none" marker-start="url(#k12)" marker-mid="url(#k12)" marker-end="url(#k12)"/><path d="M1 12h2 2L2 13h2 2L3 14h2L2 15h2L1 16" fill="none" marker-start="url(#k13)" marker-mid="url(#k13)" marker-end="url(#k13)"/><path d="M1 14" fill="none" marker-start="url(#k18)" marker-mid="url(#k18)" marker-end="url(#k18)"/></g></g><text x="1622.36" y="1262.8" font-size="32.27" textLength="107.16" lengthAdjust="spacingAndGlyphs" font-family="Liberation Sans, Arial, sans-serif">Marrow</text><g filter="url(#bs)"><g transform="translate(1832.5 1277.65) scale(3.79 6.53)"><path d="M52 13L22 17" fill="none" marker-start="url(#k4)" marker-mid="url(#k4)" marker-end="url(#k4)"/><path d="M20 17" fill="none" marker-start="url(#k5)" marker-mid="url(#k5)" marker-end="url(#k5)"/><path d="M39 8L39 10L39 12h12L19 16h2L18 17L28 21h2L48 23" fill="none" marker-start="url(#k6)" marker-mid="url(#k6)" marker-end="url(#k6)"/><path d="M39 6L38 7h2L38 9h2L49 10L38 11h2 8 2 2L41 12L40 13h10L15 16h2 6L12 17h2 2 8L19 18L46 19h2L26 21L31 22L46 23" fill="none" marker-start="url(#k7)" marker-mid="url(#k7)" marker-end="url(#k7)"/><path d="M1 0L27 2h2 2L1 4L35 6h2 4L36 7L37 8h4L41 10h6 4L43 12h6L38 13h4L51 14L18 15h2L11 16h2L10 17L17 18h4 26 2L18 19h26 6 2L27 20h2 2L18 21h14L29 22h18L10 23h8 26" fill="none" marker-start="url(#k8)" marker-mid="url(#k8)" marker-end="url(#k8)"/><path d="M3 0h44 2L25 2L28 3h2L42 7L42 9h6L37 10L42 11h4L37 12h8L44 13L16 15h6 30L9 16h16L8 17L13 18h2 8 20 2 6L16 19h4 22L17 20h2 6 22 2L16 21h4 4L17 22h2 8 6 12 4L8 23h8 4 10 2 10 8L41 24h4 2 2L38 25h2" fill="none" marker-start="url(#k9)" marker-mid="url(#k9)" marker-end="url(#k9)"/><path d="M45 0h6L2 1h24 2 2 2 14 2 2L33 2L2 3h24 6L3 4L2 5h32 2 2 2L33 6h10L32 7h2L43 8L36 9h10 4 2L43 10h2L36 11h8L47 12L36 13h10L17 14h2 2 16 2 2 2 2 4L10 15h2 2 10 26L51 16L26 17h18 2 2 2L9 18h2 14 16L26 19h2 2L15 20h6 2 10 10 2 6L34 21L7 22h2 2 4 6 4 16 2 8L6 23h6 16 6 6L7 24h2 2 6 2 10 2 2 4 2 4 8L36 25h6" fill="none" marker-start="url(#k10)" marker-mid="url(#k10)" marker-end="url(#k10)"/><path d="M5 0h2 2 2 2 2 10 2 2 2 2 2 2 2 2 2L4 1h2 2 2 2 12 10 2 2 2 2 2 8L1 2h2 2 2 2 2 12 12 2 2 2 2 2 2 2 2L4 3h2 2 2 14 10 2 2 2 2 2 2 2 2 2L9 4h2 6 2 2 2 2 2 2 2 2 2 2 6 2 2 2 2L4 5h4 12 2 2 2 2 2 2 10 2 2 2 2 2L1 6h2 2 2 16 2 2 2 2 14 2 2L2 7h2 2 16 2 2 2 2 14 2 2 2L1 8h2 2 2 14 2 6 2 2 2 10 2 2 2L2 9h2 2 2 14 2 4 2 2 2 10L1 10h2 2 2 2 2 2 8 2 2 2 2 2 2 2L2 11h2 2 2 2 2 10 2 2 2 2 2 2L5 12h2 2 12 2 2 2 2 4 2L6 13h2 2 8 2 2 2 2 2 6 14L9 14h2 2 2 8 2 2 2 2 2 2 12L2 15h6 18 2 2 2 2 2 2 2 2 2 2 2L1 16h2 4 20 2 2 2 2 2 2 2 2 2 2 2L2 17h2 2 22 2 2 2 2 2 2 2 10L1 18h2 2 2 20 2 2 2 2 2 2L2 19h2 2 2 2 2 2 8 2 8 2 2 2 2L1 20h2 2 2 2 2 2 22 2 2 2L2 21h2 2 2 2 2 2 8 14 2 2 2 2 2 2 2 2L1 22h2 2 8 10 12 2 2L2 23h2 10 8 2 2 10 2 14L1 24h2 2 8 2 6 2 2 2 8L2 25h2 2 2 2 2 2 2 2 2 2 2 2 2 2 2 2 10 2 2 2 2" fill="none" marker-start="url(#k11)" marker-mid="url(#k11)" marker-end="url(#k11)"/><path d="M17 0h2 2 2L14 1h2 2 2 2L13 2h2 6L12 3h2 2 2 2 2L5 4h2 6 2 24 2L6 5h4 2 2 2 2L9 6h2 8 2 30L8 7h2 10 32L9 8h2 6 2 6 2L10 9h2 2 2 2 2 6L15 10h2 2L14 11h2 2 2L3 12h8 2 2 2 2 12L2 13h2 8 2 2 14 2L3 14h2 2L4 15h2L5 16" fill="none" marker-start="url(#k12)" marker-mid="url(#k12)" marker-end="url(#k12)"/><path d="M17 2h2L13 6h2 2L12 7h2 2 2L13 8h2L1 12" fill="none" marker-start="url(#k13)" marker-mid="url(#k13)" marker-end="url(#k13)"/><path d="M1 14" fill="none" marker-start="url(#k18)" marker-mid="url(#k18)" marker-end="url(#k18)"/></g></g><text x="1882.81" y="1262" font-size="30.64" textLength="99.99" lengthAdjust="spacingAndGlyphs" font-family="Liberation Sans, Arial, sans-serif">Muscle</text><path d="M1283.2 1561.1V1732.7M1276.2 1591.2H1283.2M1276.2 1647.2H1283.2M1276.2 1703.6H1283.2" stroke="#000" stroke-width="2.2" fill="none"/><rect x="1288.2" y="1561.3" width="15" height="9.25" fill="#3f86c0"/><rect x="1288.2" y="1569.95" width="15" height="9.25" fill="#57a8bb"/><rect x="1288.2" y="1578.6" width="15" height="9.25" fill="#78ccbb"/><rect x="1288.2" y="1587.25" width="15" height="9.25" fill="#98dcb0"/><rect x="1288.2" y="1595.9" width="15" height="9.25" fill="#b5e5a6"/><rect x="1288.2" y="1604.55" width="15" height="9.25" fill="#d0eca0"/><rect x="1288.2" y="1613.2" width="15" height="9.25" fill="#e6f29d"/><rect x="1288.2" y="1621.85" width="15" height="9.25" fill="#f4f2a2"/><rect x="1288.2" y="1630.5" width="15" height="9.25" fill="#fcf6bc"/><rect x="1288.2" y="1639.15" width="15" height="9.25" fill="#fef7c2"/><rect x="1288.2" y="1647.8" width="15" height="9.25" fill="#fef0ad"/><rect x="1288.2" y="1656.45" width="15" height="9.25" fill="#fee596"/><rect x="1288.2" y="1665.1" width="15" height="9.25" fill="#fdd683"/><rect x="1288.2" y="1673.75" width="15" height="9.25" fill="#fdc473"/><rect x="1288.2" y="1682.4" width="15" height="9.25" fill="#fcb062"/><rect x="1288.2" y="1691.05" width="15" height="9.25" fill="#f99b56"/><rect x="1288.2" y="1699.7" width="15" height="9.25" fill="#f67f4b"/><rect x="1288.2" y="1708.35" width="15" height="9.25" fill="#ef6645"/><rect x="1288.2" y="1717" width="15" height="9.25" fill="#e4544a"/><rect x="1288.2" y="1725.65" width="15" height="9.25" fill="#d53e4f"/><text transform="translate(1162 1723.49) rotate(-90)" font-size="32.37" textLength="141.38" lengthAdjust="spacingAndGlyphs" font-family="Liberation Sans, Arial, sans-serif">Spearman</text><text transform="translate(1202.2 1725.18) rotate(-90)" font-size="32.71" textLength="151.69" lengthAdjust="spacingAndGlyphs" font-family="Liberation Sans, Arial, sans-serif">correlation</text><text x="1223.32" y="1599.7" font-size="30.93" textLength="38.44" lengthAdjust="spacingAndGlyphs" font-family="Liberation Sans, Arial, sans-serif">0.5</text><text x="1225.1" y="1657.5" font-size="31.51" textLength="39.2" lengthAdjust="spacingAndGlyphs" font-family="Liberation Sans, Arial, sans-serif">0.0</text><text x="1219.93" y="1716.3" font-size="31.51" textLength="49.27" lengthAdjust="spacingAndGlyphs" font-family="Liberation Sans, Arial, sans-serif">-0.5</text><g filter="url(#bs)"><g transform="translate(1317.7 1565.65) scale(3.79 6.53)"><path d="M52 13" fill="none" marker-start="url(#k0)" marker-mid="url(#k0)" marker-end="url(#k0)"/><path d="M51 12L51 14" fill="none" marker-start="url(#k2)" marker-mid="url(#k2)" marker-end="url(#k2)"/><path d="M50 13" fill="none" marker-start="url(#k3)" marker-mid="url(#k3)" marker-end="url(#k3)"/><path d="M49 12L48 13L45 14h2 2L44 15h2" fill="none" marker-start="url(#k6)" marker-mid="url(#k6)" marker-end="url(#k6)"/><path d="M37 4h2L38 5h2L48 11h2 2L27 12h18 2L44 13h2L41 14h2L42 15h6L43 16h2 2" fill="none" marker-start="url(#k7)" marker-mid="url(#k7)" marker-end="url(#k7)"/><path d="M39 0L31 4h2 2 6L32 5h2 2L31 6h2 2 2 2 2 2L32 7h6 2 2 2L31 8h8 2 2 2 2L40 9h2 2 2 2L39 10h2 2 2 2 2 2L26 11h14 2 2 2L25 12h14 2 2L26 13h14 2L37 14h2L36 15h2 2 10L35 16h2 2 2 8L36 17h2 2 2 2 2 2L47 18L5 22" fill="none" marker-start="url(#k8)" marker-mid="url(#k8)" marker-end="url(#k8)"/><path d="M41 0L36 3h2 2L29 4L30 5h12L21 6h2 6 16L22 7h8 4 2 10L29 8h4 4 12L30 9h8 12L25 10h2L28 11h10L29 12L24 13h4 10L35 14L34 15h18L33 16h18L34 17L45 18h4L46 19h2L5 20L4 21h2L7 22L4 23h2L35 24L34 25h2" fill="none" marker-start="url(#k9)" marker-mid="url(#k9)" marker-end="url(#k9)"/><path d="M37 0L38 1h2 2L30 3h2 2 8L43 4L20 5h2 2 4 16L19 6h6L20 7h4 4 20 2L51 8L26 9h2 4 4 16L29 10h2 6L24 11h6 6L23 12h14L30 13h4 2L25 14h2 2 4L32 15L32 17h18L33 18h2 2 2 2 2 8L50 19L3 20h4 40 2L2 21h6L3 22L2 23h6L3 24h2 2 26 4L32 25h6" fill="none" marker-start="url(#k10)" marker-mid="url(#k10)" marker-end="url(#k10)"/><path d="M1 0h2 2 2 2 2 2 2 2 2 2 2 2 2 2 2 2 2 8 2 2 2 2L2 1h2 2 2 2 2 2 2 2 2 2 2 2 2 2 2 2 2 8 2 2 2 2L1 2h2 2 2 2 2 2 2 2 2 2 2 2 2 2 2 2 2 2 2 2 2 2 2 2 2L2 3h2 2 2 2 2 2 2 2 2 2 2 2 2 16 2 2 2 2L1 4h2 2 2 2 2 2 2 2 2 2 2 2 2 18 2 2 2L2 5h2 2 2 2 2 2 2 2 8 20 2 2 2L1 6h2 2 2 2 2 2 2 2 10 20 2 2L2 7h2 2 2 2 2 2 2 2 8 26L1 8h2 2 2 2 2 2 2 2 2 2 2 2 2 8L8 9h2 2 2 2 2 2 2 2 10L9 10h2 2 2 2 2 2 2 10 2L10 11h2 4 2 2 2 10 2L9 12h10 2 10 2 2L10 13h8 2 2 10L9 14h2 6 2 2 2 8L10 15h2 2 2 2 2 2 2 2 2 2L9 16h2 2 2 2 2 2 2 2 2 2 2L10 17h2 2 2 2 2 2 2 2 2 2 22L7 18h2 2 2 2 2 2 2 2 2 2 2 2L2 19h2 2 2 2 2 2 2 2 2 2 2 2 2 2 2 2 2 2 2 2 2 8L1 20h8 2 2 2 2 2 2 2 2 2 2 2 2 2 2 2 2 2 2 6L10 21h2 2 2 2 2 2 2 2 2 2 2 2 2 2 2 2 2 2 2 2 2L1 22h8 2 2 2 2 2 2 2 2 2 2 2 2 2 2 2 2 6 2 2L10 23h2 2 2 2 2 2 2 2 2 2 2 2 2 2 2 8 2 2L1 24h8 2 2 2 2 2 2 2 2 2 2 2 8 2 6 2 2L2 25h2 2 2 2 2 2 2 2 2 2 2 2 2 2 10 2 2 2 2 2 2" fill="none" marker-start="url(#k11)" marker-mid="url(#k11)" marker-end="url(#k11)"/><path d="M2 9h2 2L7 10L8 11h6L7 12h4 6L8 13h4 4L7 14h6 2L8 15L7 16L6 17h2L1 18h2 2L43 22h2L42 23h4L43 24h2" fill="none" marker-start="url(#k12)" marker-mid="url(#k12)" marker-end="url(#k12)"/><path d="M1 10h2 2L2 11h2 2L1 12h2 2 8 2L2 13h2 2 8L3 14h2L2 15h2 2L1 16h2 2L2 17h2L44 23" fill="none" marker-start="url(#k13)" marker-mid="url(#k13)" marker-end="url(#k13)"/><path d="M1 14" fill="none" marker-start="url(#k18)" marker-mid="url(#k18)" marker-end="url(#k18)"/></g></g><text x="1376.24" y="1549.9" font-size="32.27" textLength="65.98" lengthAdjust="spacingAndGlyphs" font-family="Liberation Sans, Arial, sans-serif">MAT</text><g filter="url(#bs)"><g transform="translate(1576 1569.35) scale(3.79 6.53)"><path d="M52 13" fill="none" marker-start="url(#k2)" marker-mid="url(#k2)" marker-end="url(#k2)"/><path d="M5 2h2 2L6 3L5 4h30L35 6L18 17h8L27 18h12L18 19h8 10 2L17 20h10 8 2 2L14 21h2 2 8 2 2 2 2 2 2L17 22h10 8L18 23h8L22 25" fill="none" marker-start="url(#k8)" marker-mid="url(#k8)" marker-end="url(#k8)"/><path d="M11 2h36 2L4 3h4 40L7 4L34 5h2L33 6h4 14L52 7L43 10h2L44 11L9 12h38 2L10 13h38L13 14h2 16 2 2L14 15h16 2 2 2L17 16h2 8 12L16 17h4 8 10 2L5 18h12 2 6 10 2 4L4 19h2 10 4 8 6 6L15 20h4 6 4 2 2 8L12 21h8 20L15 22h4 6 4 4 4L16 23h4 8 6 2L21 24h2L24 25" fill="none" marker-start="url(#k9)" marker-mid="url(#k9)" marker-end="url(#k9)"/><path d="M4 1h2 2 2 2 34 2 2L3 2h10 32 6L2 3h8 2 22 2 10 4L3 4h6 24 4L4 5h2 2 24 6 12 2L49 6L32 7h2 2 2 12L42 9h2L41 10L8 11h2 32 4 2L7 12h4 32 2 6L8 13h4 2 16 2 2 2 10 4L9 14h2 6 12 8 10 2L12 15h4 2 8 2 10L13 16h2 6 4 4 2 2 2 2 4L24 17h6 6 6L3 18h4 8 6 2 6 4L2 19h6 6 10 6 2 10L3 20h2 2 4 2 8 2L24 21h18L13 22h8 2 8 8 2L24 23h6 2 6L17 24h2 6 2 2 4 2 2L20 25" fill="none" marker-start="url(#k10)" marker-mid="url(#k10)" marker-end="url(#k10)"/><path d="M1 0h2 2 2 2 2 2 2 2 2 2 2 2 2 2 2 2 2 2 2 2 2 2 2 2 2L2 1h12 2 2 2 2 2 2 2 2 2 2 2 2 2 2 2 8L1 2h14 2 2 2 2 2 2 2 2 2 2 2 2 2 2L14 3h2 2 2 2 2 2 2 2 2 6 2 2 2 8L1 4h10 2 2 2 2 2 2 2 2 2 2 8 2 2 2 2 2 2L2 5h8 2 2 2 2 2 2 2 2 2 2 10 2 2 2 2L1 6h2 2 2 2 2 2 2 2 2 2 2 2 2 2 2 8 2 2 2 2L2 7h2 2 2 2 2 2 2 2 2 2 2 2 2 2 10 2 2 2 2L1 8h2 2 2 2 2 2 2 2 2 2 2 2 2 2 2 2 2 2 2 2 2 2 2 2 2L2 9h2 2 2 2 2 2 2 2 2 2 2 2 2 2 2 2 2 2 2 6 2 2 2L1 10h2 2 2 2 2 2 2 2 2 2 2 2 2 2 2 2 2 2 2 8 2 2L2 11h2 2 6 2 2 2 2 2 2 2 2 2 2 2 2 2 2 10 2L1 12h2 2 8 2 2 2 2 2 2 2 2 2 2 2 2 2 2L2 13h2 2 10 2 2 2 2 2 2 10 2 2 2L3 14h2 2 12 2 2 2 2 12 2 2 2 6L2 15h2 2 2 2 10 2 2 16 2 2 2 2 2 2L1 16h2 2 2 2 2 12 20 2 2 2 2L2 17h2 2 2 2 2 2 8 10 2 10 2 2 2 2L1 18h8 2 2 18 12 2 2 2 2L10 19h2 10 22 2 2 2 2L1 20h8 34 2 2 2 2L2 21h2 2 2 2 12 22 2 2 2 2L1 22h2 2 2 2 2 32 2 2 2 2L2 23h2 2 2 2 2 2 8 18 2 2 2 2 2 2L1 24h2 2 2 6 2 16 8 2 2 2 6L2 25h2 2 8 2 2 8 2 2 2 2 2 2 2 2 2 8" fill="none" marker-start="url(#k11)" marker-mid="url(#k11)" marker-end="url(#k11)"/><path d="M9 24h2 36 2L8 25h4 34 4" fill="none" marker-start="url(#k12)" marker-mid="url(#k12)" marker-end="url(#k12)"/><path d="M10 25h38" fill="none" marker-start="url(#k13)" marker-mid="url(#k13)" marker-end="url(#k13)"/><path d="M1 14" fill="none" marker-start="url(#k16)" marker-mid="url(#k16)" marker-end="url(#k16)"/></g></g><text x="1613.79" y="1556.8" font-size="30.78" textLength="96.52" lengthAdjust="spacingAndGlyphs" font-family="Liberation Sans, Arial, sans-serif">Spleen</text><path d="M242.5 1856V2447M235.5 1998.3H242.5M235.5 2159H242.5M235.5 2333.6H242.5" stroke="#000" stroke-width="2.4" fill="none"/><rect x="246.8" y="1853.2" width="14.8" height="30.01" fill="#d53e4f"/><rect x="246.8" y="1882.61" width="14.8" height="30.01" fill="#e4544a"/><rect x="246.8" y="1912.02" width="14.8" height="30.01" fill="#ef6645"/><rect x="246.8" y="1941.43" width="14.8" height="30.01" fill="#f67f4b"/><rect x="246.8" y="1970.84" width="14.8" height="30.01" fill="#f99b56"/><rect x="246.8" y="2000.25" width="14.8" height="30.01" fill="#fcb062"/><rect x="246.8" y="2029.66" width="14.8" height="30.01" fill="#fdc473"/><rect x="246.8" y="2059.07" width="14.8" height="30.01" fill="#fdd683"/><rect x="246.8" y="2088.48" width="14.8" height="30.01" fill="#fee596"/><rect x="246.8" y="2117.89" width="14.8" height="30.01" fill="#fef0ad"/><rect x="246.8" y="2147.3" width="14.8" height="30.01" fill="#fef7c2"/><rect x="246.8" y="2176.71" width="14.8" height="30.01" fill="#fcf6bc"/><rect x="246.8" y="2206.12" width="14.8" height="30.01" fill="#f4f2a2"/><rect x="246.8" y="2235.53" width="14.8" height="30.01" fill="#e6f29d"/><rect x="246.8" y="2264.94" width="14.8" height="30.01" fill="#d0eca0"/><rect x="246.8" y="2294.35" width="14.8" height="30.01" fill="#b5e5a6"/><rect x="246.8" y="2323.76" width="14.8" height="30.01" fill="#98dcb0"/><rect x="246.8" y="2353.17" width="14.8" height="30.01" fill="#78ccbb"/><rect x="246.8" y="2382.58" width="14.8" height="30.01" fill="#57a8bb"/><rect x="246.8" y="2411.99" width="14.8" height="30.01" fill="#3f86c0"/><g filter="url(#bb)"><g transform="translate(268.7 1867.69) scale(13.08 22.63)"><path d="M47 20L46 21L47 22" fill="none" marker-start="url(#k0)" marker-mid="url(#k0)" marker-end="url(#k0)"/><path d="M45 20L44 21" fill="none" marker-start="url(#k1)" marker-mid="url(#k1)" marker-end="url(#k1)"/><path d="M44 19L48 21" fill="none" marker-start="url(#k2)" marker-mid="url(#k2)" marker-end="url(#k2)"/><path d="M44 17L45 18L46 19L50 21L45 22L48 23" fill="none" marker-start="url(#k3)" marker-mid="url(#k3)" marker-end="url(#k3)"/><path d="M39 18h2 2L42 19L49 20h2L42 21" fill="none" marker-start="url(#k4)" marker-mid="url(#k4)" marker-end="url(#k4)"/><path d="M48 7L47 8h2L46 17L35 18h2L43 20L43 22h6L46 23h4L45 24" fill="none" marker-start="url(#k5)" marker-mid="url(#k5)" marker-end="url(#k5)"/><path d="M50 11L41 12L13 14h8L36 17h2 4L12 19h26 10L1 20h24 16L2 21h2 2 2 6 8 30L1 22h10 12 2 16 10L44 23L21 24h22 4" fill="none" marker-start="url(#k6)" marker-mid="url(#k6)" marker-end="url(#k6)"/><path d="M46 7L48 9h2L40 13L51 14L11 16h12 2 18L12 17h28L1 18h46L2 19h24 10 4 10L3 20h2 16 2 14 2L24 21h2 14L3 22h4 2 12L20 23h2 2 16 2 10L39 24h2 8 2L44 25h2 2" fill="none" marker-start="url(#k7)" marker-mid="url(#k7)" marker-end="url(#k7)"/><path d="M50 1h2L49 6h2L49 10L39 12h6L38 13h8 6L35 14L42 15h4L33 16h2 4 2 4 2L10 17h4 20 18L11 18h2 20 16 2L4 19h30 18L7 20h8 14 2 2 2L10 21h2 8 8 2 4 2 2L27 22h2 4 2 2 2L10 23h18 6 2 2L23 24h6 2 4 2L28 25h6 4 2 2" fill="none" marker-start="url(#k8)" marker-mid="url(#k8)" marker-end="url(#k8)"/><path d="M47 0h2L50 3L48 5h4L45 6h2L44 7h6 2L43 8h2 6L38 9h8 6L39 10L38 11h10 4L43 12h4 2 2L42 13h6L23 14h16 2 6 2L12 15h10 2 16 4 8L21 16h16 14L30 17h2 16L27 18L22 19h2 4 2 2L11 20h16L18 21h14L13 22h6L2 23h24 4 2L19 24h6 2 6L22 25h2 6 2 4 14" fill="none" marker-start="url(#k9)" marker-mid="url(#k9)" marker-end="url(#k9)"/><path d="M6 1L29 4L35 6h6L32 7h6L31 8h2 4 2 2L40 9h2 2L41 10h2 2 2 4L20 11h20 2 2 2L11 12h2 6 2 14L6 13h30 8 6L15 14h2 2 12 2 4 6 2L8 15h2 4 2 2 2 6 2 2 2 2 2 2 10 2L7 16h2 4 2 4 8 2 2 18L2 17h2 4 8 4 2 2 2 2 22L3 18h2 4 6 2 2 2 2 2 4 2L6 19h2 2 4 2 2 2L9 20h4 4 2L16 21L5 22h10 2 14L4 23h2 2 4 2 2 2L5 24h2 2 2 6L18 25h2 6 26" fill="none" marker-start="url(#k10)" marker-mid="url(#k10)" marker-end="url(#k10)"/><path d="M27 0h2 8 2 2 2 2 6L2 1h26 8 2 8 2L3 2h24 8 2 10 2 2L28 3h18 2 4L27 4h4 16 2 2L28 5h4 2 10 2 4L29 6h2 2 4 2 4L34 7h2 4 2L1 8h34L30 9h6L5 10h26 2 4L6 11h2 2 2 2 10 4 2 2 2 2L5 12h2 2 6 2 6 2 2 4 2 4L4 13h4 2 2 2 4 2 2 2 2 2 6L7 14h2 2 14 2 2L2 15h2 2L1 16h2 2L6 17h12L7 18L1 24h2 10 2L2 25h2 2 2 6 2" fill="none" marker-start="url(#k11)" marker-mid="url(#k11)" marker-end="url(#k11)"/><path d="M1 0h2 2 2 18 6 4L4 1h22 14L1 2h4 2 22 10L2 3h2 2 24 10 4L1 4h2 2 16 24L2 5h2 2 18 2 4 6 2 4L1 6h2 2L2 7h4 24L3 8h26L2 9h24 2 4L11 10h8 2 2 2 2 2 6L2 11h2 12 2 4 4L29 12L16 13L3 14h2L17 16" fill="none" marker-start="url(#k12)" marker-mid="url(#k12)" marker-end="url(#k12)"/><path d="M9 0h2 2 4 4 2 10L8 1h2 2 12 6 2 2 8 2L17 2h8 16 4L8 3h6 4 14 4 2 4L7 4h10 2 6 8 2 2 2 2 2L20 5h2 18L7 6h2 18L4 7h22 2L25 8h2L6 9h4 4 20L1 10h2 4 2 4 2L1 12L2 13h28 2L1 14L10 25h2" fill="none" marker-start="url(#k13)" marker-mid="url(#k13)" marker-end="url(#k13)"/><path d="M9 2h2 20 2 10L10 3h10 4 2 8L9 4h2 4 8L8 5h2L11 6h12 2L8 7h2 14L5 8h2 2 2L8 9h4 4L17 10L3 12" fill="none" marker-start="url(#k14)" marker-mid="url(#k14)" marker-end="url(#k14)"/><path d="M19 0L22 1L13 2h2 8L12 3h4 6L13 4L12 5h6L13 6L12 7h8 2L13 8h2L4 9h14 4 2" fill="none" marker-start="url(#k15)" marker-mid="url(#k15)" marker-end="url(#k15)"/><path d="M15 0L16 1h2 2L19 2h2L14 5L19 6L16 7h2L23 8L20 9" fill="none" marker-start="url(#k16)" marker-mid="url(#k16)" marker-end="url(#k16)"/><path d="M14 1L15 6h6L14 7L17 8" fill="none" marker-start="url(#k17)" marker-mid="url(#k17)" marker-end="url(#k17)"/><path d="M16 5L17 6L21 8" fill="none" marker-start="url(#k18)" marker-mid="url(#k18)" marker-end="url(#k18)"/><path d="M19 8" fill="none" marker-start="url(#k19)" marker-mid="url(#k19)" marker-end="url(#k19)"/></g></g><text transform="translate(85 2291.59) rotate(-90)" font-size="98.26" textLength="245.68" lengthAdjust="spacingAndGlyphs" font-family="Liberation Sans, Arial, sans-serif">Aging</text><text transform="translate(167.7 2301.12) rotate(-90)" font-size="32.85" textLength="298.85" lengthAdjust="spacingAndGlyphs" font-family="Liberation Sans, Arial, sans-serif">Spearman correlation</text><text x="182.02" y="2014.3" font-size="31.22" textLength="38.58" lengthAdjust="spacingAndGlyphs" font-family="Liberation Sans, Arial, sans-serif">0.2</text><text x="183.6" y="2167.2" font-size="30.51" textLength="39.31" lengthAdjust="spacingAndGlyphs" font-family="Liberation Sans, Arial, sans-serif">0.0</text><text x="178.52" y="2344.3" font-size="30.51" textLength="49.73" lengthAdjust="spacingAndGlyphs" font-family="Liberation Sans, Arial, sans-serif">-0.2</text><path d="M1293 1856V2447M1286 1998.3H1293M1286 2159H1293M1286 2333.6H1293" stroke="#000" stroke-width="2.4" fill="none"/><rect x="1298.2" y="1853.2" width="14.8" height="30.01" fill="#d53e4f"/><rect x="1298.2" y="1882.61" width="14.8" height="30.01" fill="#e4544a"/><rect x="1298.2" y="1912.02" width="14.8" height="30.01" fill="#ef6645"/><rect x="1298.2" y="1941.43" width="14.8" height="30.01" fill="#f67f4b"/><rect x="1298.2" y="1970.84" width="14.8" height="30.01" fill="#f99b56"/><rect x="1298.2" y="2000.25" width="14.8" height="30.01" fill="#fcb062"/><rect x="1298.2" y="2029.66" width="14.8" height="30.01" fill="#fdc473"/><rect x="1298.2" y="2059.07" width="14.8" height="30.01" fill="#fdd683"/><rect x="1298.2" y="2088.48" width="14.8" height="30.01" fill="#fee596"/><rect x="1298.2" y="2117.89" width="14.8" height="30.01" fill="#fef0ad"/><rect x="1298.2" y="2147.3" width="14.8" height="30.01" fill="#fef7c2"/><rect x="1298.2" y="2176.71" width="14.8" height="30.01" fill="#fcf6bc"/><rect x="1298.2" y="2206.12" width="14.8" height="30.01" fill="#f4f2a2"/><rect x="1298.2" y="2235.53" width="14.8" height="30.01" fill="#e6f29d"/><rect x="1298.2" y="2264.94" width="14.8" height="30.01" fill="#d0eca0"/><rect x="1298.2" y="2294.35" width="14.8" height="30.01" fill="#b5e5a6"/><rect x="1298.2" y="2323.76" width="14.8" height="30.01" fill="#98dcb0"/><rect x="1298.2" y="2353.17" width="14.8" height="30.01" fill="#78ccbb"/><rect x="1298.2" y="2382.58" width="14.8" height="30.01" fill="#57a8bb"/><rect x="1298.2" y="2411.99" width="14.8" height="30.01" fill="#3f86c0"/><g filter="url(#bb)"><g transform="translate(1317.1 1867.69) scale(13.08 22.63)"><path d="M52 13" fill="none" marker-start="url(#k0)" marker-mid="url(#k0)" marker-end="url(#k0)"/><path d="M50 13L51 14" fill="none" marker-start="url(#k3)" marker-mid="url(#k3)" marker-end="url(#k3)"/><path d="M38 7L50 11L51 12" fill="none" marker-start="url(#k6)" marker-mid="url(#k6)" marker-end="url(#k6)"/><path d="M37 6h2L36 7h4L39 8L49 10L48 11h4L49 12L46 13L49 14L48 15h4L43 18L44 19L47 20" fill="none" marker-start="url(#k7)" marker-mid="url(#k7)" marker-end="url(#k7)"/><path d="M17 0h4 2 8 4 2 2 2 2L20 1h10 2 2 2 4L31 2h2 2 2 2L28 3h4 2 2 2L31 4h6 2 2L22 5h12 2 2 2 6L35 6h6L34 7h8 8L31 8h4 2 4 4 2 2L36 9h2 2 4 2 2 2 2L37 10h2 2 2 2 2L42 11h2 2L41 12h2 2 2L42 13h2 4L43 14h2 2L42 15h2 2L43 16h2 4L22 17h20 2 2L39 18h2 4 2L40 19h2 4 4 2L49 20h2" fill="none" marker-start="url(#k8)" marker-mid="url(#k8)" marker-end="url(#k8)"/><path d="M13 0h6 8 2 4 12L10 1h6 2 4 2 2 2 10 4 2 2 4 2L7 2h6 8 6 2 14 6 2L24 3h2 4 10 2 6 2 2L9 4h12 2 2 2 2 4 2 8 2 2 2L26 5h2 2 2 10 6 2 2L21 6h6 2 2 2 10 2 2 2L20 7h8 2 2 12 2 2 4L21 8h8 4 10 8L30 9h2 2 8L25 10h2 4 2 2 16L24 11h2 2 2 8 2L21 12h4 2 2 8 2L20 13h8 2 10L19 14h10 2 8 2L28 15h2 2 18L27 16h2 2 8 2 6 4L20 17h12 8 8 4L21 18h2 2 24L22 19h6 10 10L21 20h4 4 10 2 2L22 21h4 2 14 6 2 2L25 22h2 2 2 2 18L30 23h4 2 2 12L37 24h2L36 25h2 2 2" fill="none" marker-start="url(#k9)" marker-mid="url(#k9)" marker-end="url(#k9)"/><path d="M1 0h2 2 2 2 2 4 10 22 2 2L2 1h2 2 2 4 2 34L1 2h2 2 4 2 4 2 2 4 2 16 4 2L2 3h2 2 2 2 2 2 2 2 2 2 22 2L1 4h2 2 2 4 2 2 2 2 32L2 5h2 2 2 2 2 6 2 4 20L1 6h2 2 2 2 6 2 2 4 2 26L6 7h2 2 8 4 2 2L1 8h6 2 2 2 6 4 2 2L6 9h2 2 2 4 2 2 2 2 2 2L1 10h2 2 2 2 2 2 2 2 2 2 2 6L10 11h2 2 4 2 2 10 2 2L7 12h4 2 4 2 4 8 2 2L8 13h2 2 2 2 2 4 2 2 6 2 2 2L9 14h2 2 2 2 4 2 2 2 6 2 2L8 15h2 2 2 2 2 2 2 2 2 8 2 2 2L9 16h2 2 2 2 2 2 2 2 8 2 2L6 17h2 2 2 2 2 2 6 2 2 2 4 2 2 12L5 18h2 2 2 2 4 2 8 2 2 2 2 2 14L2 19h2 2 2 2 2 6 2 4 2 4 2 2 2L1 20h2 2 2 2 6 2 2 4 4 4 2 2 2 8L2 21h2 2 2 2 6 2 2 4 6 2 2 2 2 2 4 2L1 22h2 2 2 2 2 2 2 2 2 2 2 12 2 2 2 2 2 2 2L2 23h2 2 2 2 2 2 2 2 2 2 2 2 2 4 8 2 4 2 4L1 24h4 2 2 2 2 2 2 2 2 2 2 2 2 2 2 2 6 2 2 2 2 2L4 25h2 2 2 6 2 2 2 2 2 2 2 2 2 10 2 2 2 2" fill="none" marker-start="url(#k10)" marker-mid="url(#k10)" marker-end="url(#k10)"/><path d="M14 5h2L11 6h2L2 7h2 8 4L3 8h2 10 2L2 9h2 10L2 11h2 2 2 8L5 12h4 6L7 16L3 18h12L14 19h2L11 20h2L12 21h2L44 23L3 24L2 25h12" fill="none" marker-start="url(#k11)" marker-mid="url(#k11)" marker-end="url(#k11)"/><path d="M14 7L1 12h2L6 13L5 14h2L6 15L5 16L4 17L1 18L12 25" fill="none" marker-start="url(#k12)" marker-mid="url(#k12)" marker-end="url(#k12)"/><path d="M4 13L4 15L3 16L2 17" fill="none" marker-start="url(#k13)" marker-mid="url(#k13)" marker-end="url(#k13)"/><path d="M2 13L3 14L2 15L1 16" fill="none" marker-start="url(#k14)" marker-mid="url(#k14)" marker-end="url(#k14)"/><path d="M1 14" fill="none" marker-start="url(#k19)" marker-mid="url(#k19)" marker-end="url(#k19)"/></g></g><text transform="translate(1157.6 2245.39) rotate(-90)" font-size="100.25" textLength="147.71" lengthAdjust="spacingAndGlyphs" font-family="Liberation Sans, Arial, sans-serif">Sex</text><text transform="translate(1218.2 2301.12) rotate(-90)" font-size="32.98" textLength="298.85" lengthAdjust="spacingAndGlyphs" font-family="Liberation Sans, Arial, sans-serif">Spearman correlation</text><text x="1232.67" y="2014.3" font-size="31.22" textLength="40.29" lengthAdjust="spacingAndGlyphs" font-family="Liberation Sans, Arial, sans-serif">0.2</text><text x="1234.19" y="2167.2" font-size="30.51" textLength="39.42" lengthAdjust="spacingAndGlyphs" font-family="Liberation Sans, Arial, sans-serif">0.0</text><text x="1230.23" y="2344.3" font-size="30.51" textLength="49.42" lengthAdjust="spacingAndGlyphs" font-family="Liberation Sans, Arial, sans-serif">-0.2</text>
</svg></body></html>
